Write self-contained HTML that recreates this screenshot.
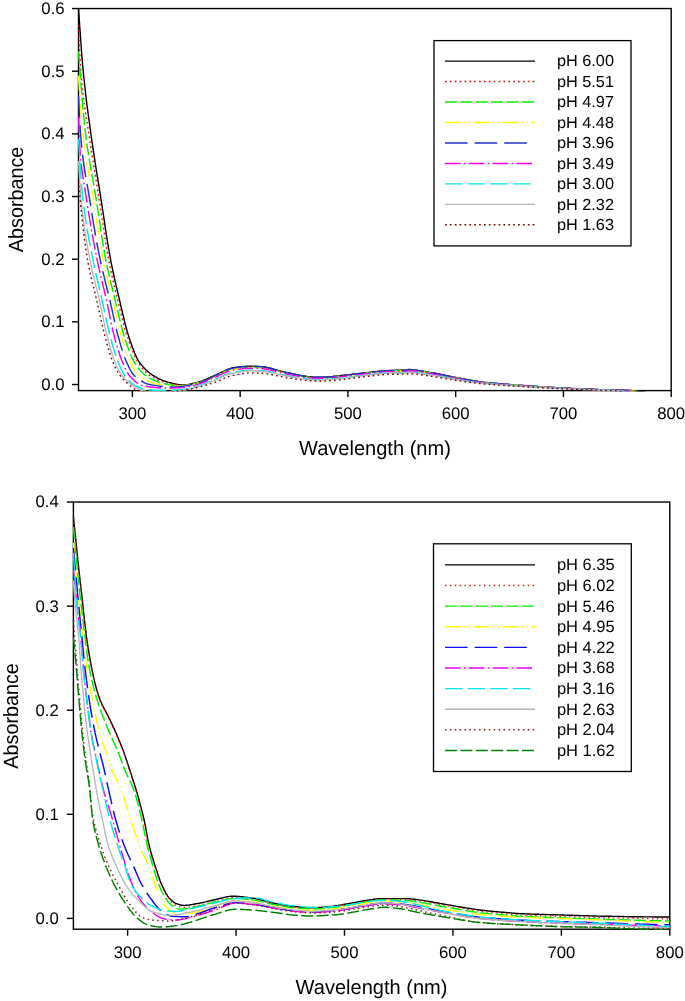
<!DOCTYPE html>
<html lang="en">
<head>
<meta charset="utf-8">
<title>Absorbance spectra at varying pH</title>
<style>
html,body{margin:0;padding:0;background:#fff;}
body{width:685px;height:1001px;overflow:hidden;font-family:"Liberation Sans", Arial, Helvetica, sans-serif;}
svg{display:block;will-change:transform;}
</style>
</head>
<body>
<svg width="685" height="1001" viewBox="0 0 685 1001" font-family='"Liberation Sans", Arial, Helvetica, sans-serif' fill="#000" text-rendering="geometricPrecision">
<rect width="685" height="1001" fill="#fff"/>
<clipPath id="clipTop"><rect x="77.70" y="7.75" width="594.30" height="383.65"/></clipPath>
<rect x="78.50" y="8.55" width="592.70" height="382.05" fill="none" stroke="#000" stroke-width="1.4"/>
<g clip-path="url(#clipTop)" fill="none" stroke-linejoin="round">
<polyline points="78.5,8.5 79.6,24.6 80.7,39.8 81.7,53.9 82.8,66.6 83.9,77.7 85.0,87.8 86.0,97.1 87.1,105.9 88.2,114.1 89.3,122.1 90.4,130.0 91.4,137.7 92.5,145.2 93.6,152.4 94.7,159.4 95.7,166.2 96.8,173.0 97.9,179.6 99.0,186.3 100.1,193.1 101.1,200.0 102.2,207.0 103.3,214.2 104.4,221.4 105.4,228.5 106.5,235.6 107.6,242.4 108.7,248.9 109.8,255.1 110.8,260.9 111.9,266.3 113.0,271.5 114.1,276.5 115.1,281.3 116.2,285.9 117.3,290.5 118.4,295.1 119.5,299.6 120.5,304.3 121.6,308.9 122.7,313.6 123.8,318.2 124.8,322.6 125.9,326.8 127.0,330.8 128.1,334.4 129.1,337.7 130.2,341.0 131.3,344.1 132.4,347.2 133.5,350.1 134.5,352.8 135.6,355.3 136.7,357.6 137.8,359.6 138.8,361.3 139.9,362.8 141.0,364.3 142.1,365.6 143.2,366.9 144.2,368.1 145.3,369.2 146.4,370.3 147.5,371.3 148.5,372.2 149.6,373.0 150.7,373.8 151.8,374.6 152.9,375.3 153.9,375.9 155.0,376.6 156.1,377.2 157.2,377.8 158.2,378.3 159.3,378.8 160.4,379.3 161.5,379.8 162.6,380.3 163.6,380.7 164.7,381.1 165.8,381.5 166.9,381.8 167.9,382.1 169.0,382.4 170.1,382.7 171.2,383.0 172.3,383.3 173.3,383.6 174.4,383.8 175.5,384.1 176.6,384.3 177.6,384.5 178.7,384.7 179.8,384.8 180.9,384.9 182.0,385.0 183.0,385.0 184.1,385.0 185.2,384.9 186.3,384.8 187.3,384.6 188.4,384.5 189.5,384.3 190.6,384.0 191.7,383.8 192.7,383.5 193.8,383.2 194.9,383.0 196.0,382.7 197.0,382.4 198.1,382.1 199.2,381.8 200.3,381.5 201.4,381.1 202.4,380.8 203.5,380.4 204.6,380.0 205.7,379.5 206.7,379.0 207.8,378.5 208.9,378.0 210.0,377.5 211.0,377.0 212.1,376.6 213.2,376.1 214.3,375.6 215.4,375.2 216.4,374.7 217.5,374.2 218.6,373.7 219.7,373.2 220.7,372.7 221.8,372.1 222.9,371.6 224.0,371.1 225.1,370.6 226.1,370.1 227.2,369.7 228.3,369.2 229.4,368.8 230.4,368.4 231.5,368.1 232.6,367.8 233.7,367.6 234.8,367.5 235.8,367.3 236.9,367.2 238.0,367.1 239.1,366.9 240.1,366.8 241.2,366.7 242.3,366.6 243.4,366.5 244.5,366.4 245.5,366.4 246.6,366.3 247.7,366.3 248.8,366.2 249.8,366.2 250.9,366.2 252.0,366.2 253.1,366.2 254.2,366.3 255.2,366.3 256.3,366.3 257.4,366.4 258.5,366.4 259.5,366.5 260.6,366.6 261.7,366.6 262.8,366.7 263.9,366.9 264.9,367.0 266.0,367.2 267.1,367.4 268.2,367.6 269.2,367.9 270.3,368.2 271.4,368.5 272.5,368.8 273.6,369.1 274.6,369.4 275.7,369.7 276.8,370.0 277.9,370.3 278.9,370.6 280.0,370.9 281.1,371.2 282.2,371.4 283.3,371.7 284.3,371.9 285.4,372.1 286.5,372.4 287.6,372.6 288.6,372.8 289.7,373.1 290.8,373.3 291.9,373.6 292.9,373.8 294.0,374.1 295.1,374.3 296.2,374.5 297.3,374.8 298.3,375.0 299.4,375.2 300.5,375.4 301.6,375.6 302.6,375.8 303.7,376.0 304.8,376.2 305.9,376.3 307.0,376.5 308.0,376.6 309.1,376.7 310.2,376.8 311.3,376.9 312.3,377.0 313.4,377.1 314.5,377.1 315.6,377.2 316.7,377.2 317.7,377.3 318.8,377.3 319.9,377.3 321.0,377.3 322.0,377.2 323.1,377.2 324.2,377.1 325.3,377.1 326.4,377.0 327.4,376.9 328.5,376.9 329.6,376.8 330.7,376.7 331.7,376.6 332.8,376.5 333.9,376.3 335.0,376.2 336.1,376.1 337.1,376.0 338.2,375.9 339.3,375.7 340.4,375.6 341.4,375.5 342.5,375.4 343.6,375.2 344.7,375.1 345.8,375.0 346.8,374.9 347.9,374.8 349.0,374.7 350.1,374.6 351.1,374.4 352.2,374.3 353.3,374.2 354.4,374.1 355.5,373.9 356.5,373.8 357.6,373.7 358.7,373.5 359.8,373.4 360.8,373.3 361.9,373.1 363.0,373.0 364.1,372.9 365.2,372.7 366.2,372.6 367.3,372.5 368.4,372.4 369.5,372.3 370.5,372.2 371.6,372.1 372.7,372.0 373.8,371.8 374.9,371.7 375.9,371.6 377.0,371.5 378.1,371.4 379.2,371.3 380.2,371.2 381.3,371.1 382.4,371.0 383.5,370.9 384.5,370.8 385.6,370.7 386.7,370.6 387.8,370.6 388.9,370.5 389.9,370.5 391.0,370.4 392.1,370.4 393.2,370.4 394.2,370.4 395.3,370.3 396.4,370.3 397.5,370.3 398.6,370.3 399.6,370.3 400.7,370.3 401.8,370.2 402.9,370.2 403.9,370.2 405.0,370.2 406.1,370.2 407.2,370.2 408.3,369.4 409.3,369.5 410.4,369.5 411.5,369.6 412.6,369.8 413.6,369.9 414.7,370.0 415.8,370.2 416.9,370.3 418.0,370.5 419.0,370.6 420.1,370.8 421.2,371.0 422.3,371.2 423.3,371.3 424.4,371.5 425.5,371.7 426.6,371.9 427.7,372.0 428.7,372.2 429.8,372.4 430.9,372.6 432.0,372.7 433.0,372.9 434.1,373.1 435.2,373.3 436.3,373.5 437.4,373.7 438.4,374.0 439.5,374.2 440.6,374.4 441.7,374.6 442.7,374.8 443.8,375.1 444.9,375.3 446.0,375.5 447.1,375.7 448.1,376.0 449.2,376.2 450.3,376.4 451.4,376.6 452.4,376.9 453.5,377.1 454.6,377.3 455.7,377.5 456.8,377.7 457.8,377.9 458.9,378.1 460.0,378.3 461.1,378.5 462.1,378.7 463.2,378.9 464.3,379.1 465.4,379.3 466.4,379.5 467.5,379.7 468.6,379.9 469.7,380.1 470.8,380.3 471.8,380.5 472.9,380.7 474.0,380.8 475.1,381.0 476.1,381.2 477.2,381.3 478.3,381.5 479.4,381.6 480.5,381.8 481.5,381.9 482.6,382.0 483.7,382.1 484.8,382.3 485.8,382.4 486.9,382.5 488.0,382.6 489.1,382.7 490.2,382.8 491.2,382.9 492.3,383.0 493.4,383.1 494.5,383.2 495.5,383.3 496.6,383.4 497.7,383.5 498.8,383.6 499.9,383.7 500.9,383.8 502.0,383.9 503.1,384.0 504.2,384.1 505.2,384.1 506.3,384.2 507.4,384.3 508.5,384.4 509.6,384.5 510.6,384.6 511.7,384.6 512.8,384.7 513.9,384.8 514.9,384.9 516.0,385.0 517.1,385.1 518.2,385.1 519.3,385.2 520.3,385.3 521.4,385.4 522.5,385.5 523.6,385.5 524.6,385.6 525.7,385.7 526.8,385.8 527.9,385.8 529.0,385.9 530.0,386.0 531.1,386.1 532.2,386.1 533.3,386.2 534.3,386.3 535.4,386.4 536.5,386.4 537.6,386.5 538.7,386.6 539.7,386.6 540.8,386.7 541.9,386.8 543.0,386.8 544.0,386.9 545.1,387.0 546.2,387.0 547.3,387.1 548.3,387.2 549.4,387.2 550.5,387.3 551.6,387.4 552.7,387.4 553.7,387.5 554.8,387.5 555.9,387.6 557.0,387.7 558.0,387.7 559.1,387.8 560.2,387.8 561.3,387.9 562.4,388.0 563.4,388.0 564.5,388.1 565.6,388.1 566.7,388.2 567.7,388.2 568.8,388.3 569.9,388.3 571.0,388.4 572.1,388.4 573.1,388.5 574.2,388.5 575.3,388.6 576.4,388.6 577.4,388.7 578.5,388.7 579.6,388.8 580.7,388.8 581.8,388.9 582.8,388.9 583.9,389.0 585.0,389.0 586.1,389.0 587.1,389.1 588.2,389.1 589.3,389.2 590.4,389.2 591.5,389.3 592.5,389.3 593.6,389.4 594.7,389.4 595.8,389.4 596.8,389.5 597.9,389.5 599.0,389.6 600.1,389.6 601.2,389.6 602.2,389.7 603.3,389.7 604.4,389.7 605.5,389.8 606.5,389.8 607.6,389.9 608.7,389.9 609.8,389.9 610.9,390.0 611.9,390.0 613.0,390.0 614.1,390.0 615.2,390.1 616.2,390.1 617.3,390.1 618.4,390.1 619.5,390.1 620.6,390.2 621.6,390.2 622.7,390.2 623.8,390.3 624.9,390.3 625.9,390.3 627.0,390.4 628.1,390.4 629.2,390.4 630.2,390.5 631.3,390.5 632.4,390.6 633.5,390.6 634.6,390.7 635.6,390.8 636.7,391.0 637.8,391.2 638.9,391.4 639.9,391.6 641.0,391.8 642.1,392.0 643.2,392.2 644.3,392.3 645.3,392.5 646.4,392.6 647.5,392.7 648.6,392.9 649.6,393.0 650.7,393.1 651.8,393.3 652.9,393.4 654.0,393.5 655.0,393.7 656.1,393.8 657.2,393.9 658.3,394.0 659.3,394.1 660.4,394.2 661.5,394.3 662.6,394.4 663.7,394.5 664.7,394.6 665.8,394.7 666.9,394.8 668.0,394.9 669.0,395.0 670.1,395.1 671.2,395.2" stroke="#000000" stroke-width="1.4"/>
<polyline points="78.5,25.1 79.6,50.1 80.7,69.8 81.7,82.2 82.8,92.5 83.9,101.3 85.0,108.9 86.0,115.9 87.1,122.6 88.2,129.5 89.3,136.8 90.4,144.1 91.4,151.1 92.5,158.0 93.6,164.6 94.7,171.3 95.7,177.8 96.8,184.4 97.9,191.1 99.0,197.9 100.1,204.9 101.1,212.1 102.2,219.4 103.3,226.7 104.4,233.9 105.4,240.8 106.5,247.5 107.6,253.9 108.7,259.7 109.8,265.2 110.8,270.4 111.9,275.4 113.0,280.2 114.1,284.9 115.1,289.4 116.2,293.9 117.3,298.3 118.4,302.8 119.5,307.2 120.5,311.7 121.6,316.1 122.7,320.3 123.8,324.4 124.8,328.3 125.9,332.0 127.0,335.4 128.1,338.6 129.1,341.7 130.2,344.8 131.3,347.7 132.4,350.5 133.5,353.1 134.5,355.6 135.6,357.8 136.7,359.9 137.8,361.7 138.8,363.3 139.9,364.9 141.0,366.4 142.1,367.8 143.2,369.2 144.2,370.4 145.3,371.6 146.4,372.7 147.5,373.6 148.5,374.5 149.6,375.3 150.7,376.0 151.8,376.7 152.9,377.3 153.9,377.9 155.0,378.5 156.1,379.0 157.2,379.6 158.2,380.1 159.3,380.5 160.4,380.9 161.5,381.3 162.6,381.7 163.6,382.0 164.7,382.3 165.8,382.6 166.9,382.9 167.9,383.1 169.0,383.4 170.1,383.6 171.2,383.9 172.3,384.1 173.3,384.3 174.4,384.5 175.5,384.7 176.6,384.8 177.6,385.0 178.7,385.1 179.8,385.1 180.9,385.1 182.0,385.1 183.0,385.1 184.1,385.0 185.2,384.9 186.3,384.8 187.3,384.6 188.4,384.4 189.5,384.3 190.6,384.1 191.7,383.8 192.7,383.6 193.8,383.4 194.9,383.1 196.0,382.8 197.0,382.6 198.1,382.3 199.2,382.0 200.3,381.8 201.4,381.5 202.4,381.2 203.5,380.8 204.6,380.4 205.7,379.9 206.7,379.5 207.8,379.0 208.9,378.5 210.0,378.0 211.0,377.5 212.1,377.0 213.2,376.5 214.3,376.1 215.4,375.6 216.4,375.1 217.5,374.6 218.6,374.0 219.7,373.5 220.7,372.9 221.8,372.4 222.9,371.8 224.0,371.3 225.1,370.8 226.1,370.4 227.2,369.9 228.3,369.6 229.4,369.3 230.4,369.0 231.5,368.7 232.6,368.5 233.7,368.3 234.8,368.0 235.8,367.8 236.9,367.7 238.0,367.5 239.1,367.4 240.1,367.3 241.2,367.2 242.3,367.1 243.4,367.0 244.5,366.9 245.5,366.8 246.6,366.7 247.7,366.7 248.8,366.6 249.8,366.6 250.9,366.6 252.0,366.6 253.1,366.6 254.2,366.7 255.2,366.7 256.3,366.7 257.4,366.8 258.5,366.8 259.5,366.9 260.6,367.0 261.7,367.0 262.8,367.1 263.9,367.3 264.9,367.4 266.0,367.6 267.1,367.9 268.2,368.1 269.2,368.4 270.3,368.6 271.4,368.9 272.5,369.1 273.6,369.4 274.6,369.6 275.7,369.9 276.8,370.2 277.9,370.5 278.9,370.8 280.0,371.1 281.1,371.4 282.2,371.7 283.3,372.0 284.3,372.2 285.4,372.5 286.5,372.7 287.6,373.0 288.6,373.2 289.7,373.4 290.8,373.7 291.9,373.9 292.9,374.1 294.0,374.4 295.1,374.6 296.2,374.8 297.3,375.0 298.3,375.3 299.4,375.5 300.5,375.7 301.6,375.9 302.6,376.1 303.7,376.3 304.8,376.4 305.9,376.5 307.0,376.7 308.0,376.8 309.1,377.0 310.2,377.1 311.3,377.2 312.3,377.3 313.4,377.4 314.5,377.4 315.6,377.4 316.7,377.4 317.7,377.4 318.8,377.4 319.9,377.4 321.0,377.4 322.0,377.4 323.1,377.3 324.2,377.3 325.3,377.3 326.4,377.2 327.4,377.2 328.5,377.1 329.6,377.1 330.7,377.0 331.7,376.8 332.8,376.7 333.9,376.6 335.0,376.5 336.1,376.3 337.1,376.2 338.2,376.1 339.3,376.0 340.4,375.9 341.4,375.8 342.5,375.6 343.6,375.5 344.7,375.4 345.8,375.3 346.8,375.2 347.9,375.0 349.0,374.9 350.1,374.8 351.1,374.7 352.2,374.5 353.3,374.4 354.4,374.3 355.5,374.1 356.5,374.0 357.6,373.9 358.7,373.8 359.8,373.6 360.8,373.5 361.9,373.4 363.0,373.3 364.1,373.1 365.2,373.0 366.2,372.9 367.3,372.7 368.4,372.6 369.5,372.5 370.5,372.4 371.6,372.3 372.7,372.2 373.8,372.0 374.9,371.9 375.9,371.8 377.0,371.7 378.1,371.6 379.2,371.5 380.2,371.4 381.3,371.3 382.4,371.2 383.5,371.1 384.5,371.0 385.6,371.0 386.7,370.9 387.8,370.8 388.9,370.7 389.9,370.7 391.0,370.7 392.1,370.6 393.2,370.6 394.2,370.6 395.3,370.6 396.4,370.6 397.5,370.5 398.6,370.5 399.6,370.5 400.7,370.5 401.8,370.5 402.9,370.4 403.9,370.4 405.0,370.3 406.1,370.3 407.2,370.2 408.3,370.1 409.3,370.1 410.4,370.0 411.5,370.0 412.6,370.0 413.6,370.0 414.7,370.1 415.8,370.2 416.9,370.4 418.0,370.6 419.0,370.8 420.1,371.0 421.2,371.2 422.3,371.4 423.3,371.6 424.4,371.7 425.5,371.9 426.6,372.1 427.7,372.2 428.7,372.4 429.8,372.6 430.9,372.8 432.0,373.0 433.0,373.2 434.1,373.3 435.2,373.5 436.3,373.7 437.4,374.0 438.4,374.2 439.5,374.4 440.6,374.6 441.7,374.8 442.7,375.1 443.8,375.3 444.9,375.5 446.0,375.7 447.1,375.9 448.1,376.1 449.2,376.4 450.3,376.6 451.4,376.8 452.4,377.0 453.5,377.2 454.6,377.4 455.7,377.6 456.8,377.8 457.8,378.1 458.9,378.3 460.0,378.5 461.1,378.7 462.1,378.9 463.2,379.1 464.3,379.3 465.4,379.5 466.4,379.7 467.5,379.9 468.6,380.0 469.7,380.2 470.8,380.4 471.8,380.6 472.9,380.8 474.0,381.0 475.1,381.1 476.1,381.3 477.2,381.5 478.3,381.6 479.4,381.7 480.5,381.9 481.5,382.0 482.6,382.1 483.7,382.2 484.8,382.4 485.8,382.5 486.9,382.6 488.0,382.7 489.1,382.8 490.2,382.9 491.2,383.0 492.3,383.1 493.4,383.2 494.5,383.3 495.5,383.4 496.6,383.5 497.7,383.6 498.8,383.7 499.9,383.8 500.9,383.9 502.0,384.0 503.1,384.0 504.2,384.1 505.2,384.2 506.3,384.3 507.4,384.4 508.5,384.5 509.6,384.6 510.6,384.6 511.7,384.7 512.8,384.8 513.9,384.9 514.9,385.0 516.0,385.1 517.1,385.1 518.2,385.2 519.3,385.3 520.3,385.4 521.4,385.4 522.5,385.5 523.6,385.6 524.6,385.7 525.7,385.8 526.8,385.8 527.9,385.9 529.0,386.0 530.0,386.1 531.1,386.1 532.2,386.2 533.3,386.3 534.3,386.3 535.4,386.4 536.5,386.5 537.6,386.6 538.7,386.6 539.7,386.7 540.8,386.8 541.9,386.8 543.0,386.9 544.0,387.0 545.1,387.0 546.2,387.1 547.3,387.2 548.3,387.2 549.4,387.3 550.5,387.3 551.6,387.4 552.7,387.5 553.7,387.5 554.8,387.6 555.9,387.7 557.0,387.7 558.0,387.8 559.1,387.8 560.2,387.9 561.3,387.9 562.4,388.0 563.4,388.1 564.5,388.1 565.6,388.2 566.7,388.2 567.7,388.3 568.8,388.3 569.9,388.4 571.0,388.4 572.1,388.5 573.1,388.5 574.2,388.6 575.3,388.6 576.4,388.7 577.4,388.7 578.5,388.8 579.6,388.8 580.7,388.9 581.8,388.9 582.8,389.0 583.9,389.0 585.0,389.0 586.1,389.1 587.1,389.1 588.2,389.2 589.3,389.2 590.4,389.3 591.5,389.3 592.5,389.4 593.6,389.4 594.7,389.4 595.8,389.5 596.8,389.5 597.9,389.6 599.0,389.6 600.1,389.6 601.2,389.7 602.2,389.7 603.3,389.8 604.4,389.8 605.5,389.8 606.5,389.9 607.6,389.9 608.7,389.9 609.8,390.0 610.9,390.0 611.9,390.0 613.0,390.0 614.1,390.1 615.2,390.1 616.2,390.1 617.3,390.2 618.4,390.2 619.5,390.2 620.6,390.3 621.6,390.3 622.7,390.3 623.8,390.4 624.9,390.4 625.9,390.4 627.0,390.5 628.1,390.5 629.2,390.6 630.2,390.7 631.3,390.8 632.4,390.8 633.5,390.9 634.6,391.1 635.6,391.2 636.7,391.3 637.8,391.4 638.9,391.5 639.9,391.7 641.0,391.8 642.1,392.0 643.2,392.1 644.3,392.3 645.3,392.5 646.4,392.7 647.5,392.8 648.6,393.0 649.6,393.1 650.7,393.3 651.8,393.4 652.9,393.5 654.0,393.6 655.0,393.8 656.1,393.9 657.2,394.0 658.3,394.1 659.3,394.2 660.4,394.3 661.5,394.4 662.6,394.5 663.7,394.6 664.7,394.7 665.8,394.8 666.9,394.9 668.0,395.0 669.0,395.0 670.1,395.1 671.2,395.2" stroke="#f00000" stroke-width="1.45" stroke-dasharray="1.7 3.17"/>
<polyline points="78.5,51.5 79.6,66.2 80.7,80.3 81.7,93.8 82.8,106.4 83.9,117.9 85.0,128.3 86.0,137.3 87.1,145.4 88.2,152.7 89.3,159.5 90.4,165.8 91.4,171.9 92.5,177.8 93.6,183.8 94.7,190.0 95.7,196.5 96.8,203.4 97.9,210.5 99.0,217.7 100.1,224.9 101.1,232.1 102.2,239.1 103.3,245.8 104.4,252.2 105.4,258.1 106.5,263.5 107.6,268.6 108.7,273.4 109.8,278.1 110.8,282.6 111.9,287.0 113.0,291.3 114.1,295.7 115.1,300.1 116.2,304.6 117.3,309.2 118.4,313.9 119.5,318.4 120.5,322.8 121.6,327.1 122.7,331.1 123.8,334.7 124.8,338.1 125.9,341.5 127.0,344.7 128.1,347.8 129.1,350.8 130.2,353.6 131.3,356.2 132.4,358.5 133.5,360.6 134.5,362.4 135.6,364.1 136.7,365.7 137.8,367.3 138.8,368.8 139.9,370.1 141.0,371.4 142.1,372.5 143.2,373.6 144.2,374.5 145.3,375.3 146.4,376.0 147.5,376.7 148.5,377.4 149.6,378.0 150.7,378.6 151.8,379.2 152.9,379.7 153.9,380.3 155.0,380.7 156.1,381.2 157.2,381.6 158.2,382.0 159.3,382.4 160.4,382.7 161.5,383.0 162.6,383.2 163.6,383.5 164.7,383.7 165.8,384.0 166.9,384.2 167.9,384.4 169.0,384.7 170.1,384.9 171.2,385.1 172.3,385.2 173.3,385.4 174.4,385.5 175.5,385.6 176.6,385.7 177.6,385.7 178.7,385.8 179.8,385.7 180.9,385.7 182.0,385.6 183.0,385.5 184.1,385.4 185.2,385.3 186.3,385.1 187.3,385.0 188.4,384.8 189.5,384.6 190.6,384.4 191.7,384.1 192.7,383.9 193.8,383.7 194.9,383.4 196.0,383.1 197.0,382.9 198.1,382.6 199.2,382.4 200.3,382.1 201.4,381.8 202.4,381.5 203.5,381.1 204.6,380.7 205.7,380.3 206.7,379.8 207.8,379.3 208.9,378.9 210.0,378.4 211.0,377.9 212.1,377.4 213.2,376.9 214.3,376.4 215.4,376.0 216.4,375.5 217.5,375.0 218.6,374.4 219.7,373.9 220.7,373.3 221.8,372.8 222.9,372.3 224.0,371.8 225.1,371.3 226.1,370.8 227.2,370.4 228.3,370.0 229.4,369.7 230.4,369.4 231.5,369.2 232.6,368.9 233.7,368.7 234.8,368.5 235.8,368.3 236.9,368.1 238.0,367.9 239.1,367.8 240.1,367.7 241.2,367.6 242.3,367.5 243.4,367.4 244.5,367.3 245.5,367.2 246.6,367.1 247.7,367.1 248.8,367.0 249.8,367.0 250.9,367.0 252.0,367.0 253.1,367.0 254.2,367.0 255.2,367.1 256.3,367.1 257.4,367.2 258.5,367.2 259.5,367.3 260.6,367.4 261.7,367.4 262.8,367.5 263.9,367.7 264.9,367.8 266.0,368.0 267.1,368.2 268.2,368.5 269.2,368.7 270.3,369.0 271.4,369.2 272.5,369.5 273.6,369.7 274.6,370.0 275.7,370.3 276.8,370.6 277.9,370.9 278.9,371.2 280.0,371.5 281.1,371.8 282.2,372.0 283.3,372.3 284.3,372.5 285.4,372.8 286.5,373.0 287.6,373.3 288.6,373.5 289.7,373.7 290.8,374.0 291.9,374.2 292.9,374.4 294.0,374.6 295.1,374.9 296.2,375.1 297.3,375.3 298.3,375.5 299.4,375.7 300.5,376.0 301.6,376.2 302.6,376.3 303.7,376.5 304.8,376.7 305.9,376.8 307.0,376.9 308.0,377.1 309.1,377.2 310.2,377.3 311.3,377.4 312.3,377.5 313.4,377.6 314.5,377.6 315.6,377.7 316.7,377.7 317.7,377.6 318.8,377.6 319.9,377.6 321.0,377.6 322.0,377.6 323.1,377.6 324.2,377.5 325.3,377.5 326.4,377.5 327.4,377.4 328.5,377.4 329.6,377.3 330.7,377.2 331.7,377.1 332.8,377.0 333.9,376.8 335.0,376.7 336.1,376.6 337.1,376.5 338.2,376.4 339.3,376.2 340.4,376.1 341.4,376.0 342.5,375.9 343.6,375.8 344.7,375.6 345.8,375.5 346.8,375.4 347.9,375.3 349.0,375.2 350.1,375.0 351.1,374.9 352.2,374.8 353.3,374.6 354.4,374.5 355.5,374.4 356.5,374.3 357.6,374.1 358.7,374.0 359.8,373.9 360.8,373.7 361.9,373.6 363.0,373.5 364.1,373.4 365.2,373.2 366.2,373.1 367.3,373.0 368.4,372.9 369.5,372.7 370.5,372.6 371.6,372.5 372.7,372.4 373.8,372.3 374.9,372.1 375.9,372.0 377.0,371.9 378.1,371.8 379.2,371.7 380.2,371.6 381.3,371.5 382.4,371.4 383.5,371.3 384.5,371.3 385.6,371.2 386.7,371.1 387.8,371.0 388.9,371.0 389.9,370.9 391.0,370.9 392.1,370.9 393.2,370.8 394.2,370.8 395.3,370.8 396.4,370.8 397.5,370.8 398.6,370.8 399.6,370.8 400.7,370.7 401.8,370.7 402.9,370.7 403.9,370.6 405.0,370.6 406.1,370.5 407.2,370.4 408.3,370.4 409.3,370.3 410.4,370.3 411.5,370.2 412.6,370.2 413.6,370.3 414.7,370.3 415.8,370.5 416.9,370.6 418.0,370.8 419.0,371.0 420.1,371.2 421.2,371.4 422.3,371.6 423.3,371.8 424.4,372.0 425.5,372.1 426.6,372.3 427.7,372.5 428.7,372.6 429.8,372.8 430.9,373.0 432.0,373.2 433.0,373.4 434.1,373.6 435.2,373.8 436.3,374.0 437.4,374.2 438.4,374.4 439.5,374.6 440.6,374.8 441.7,375.0 442.7,375.3 443.8,375.5 444.9,375.7 446.0,375.9 447.1,376.1 448.1,376.3 449.2,376.5 450.3,376.8 451.4,377.0 452.4,377.2 453.5,377.4 454.6,377.6 455.7,377.8 456.8,378.0 457.8,378.2 458.9,378.4 460.0,378.6 461.1,378.8 462.1,379.0 463.2,379.2 464.3,379.4 465.4,379.6 466.4,379.8 467.5,380.0 468.6,380.2 469.7,380.4 470.8,380.6 471.8,380.7 472.9,380.9 474.0,381.1 475.1,381.3 476.1,381.4 477.2,381.6 478.3,381.7 479.4,381.8 480.5,382.0 481.5,382.1 482.6,382.2 483.7,382.3 484.8,382.5 485.8,382.6 486.9,382.7 488.0,382.8 489.1,382.9 490.2,383.0 491.2,383.1 492.3,383.2 493.4,383.3 494.5,383.4 495.5,383.5 496.6,383.6 497.7,383.7 498.8,383.8 499.9,383.9 500.9,384.0 502.0,384.0 503.1,384.1 504.2,384.2 505.2,384.3 506.3,384.4 507.4,384.5 508.5,384.5 509.6,384.6 510.6,384.7 511.7,384.8 512.8,384.9 513.9,385.0 514.9,385.0 516.0,385.1 517.1,385.2 518.2,385.3 519.3,385.4 520.3,385.4 521.4,385.5 522.5,385.6 523.6,385.7 524.6,385.7 525.7,385.8 526.8,385.9 527.9,386.0 529.0,386.0 530.0,386.1 531.1,386.2 532.2,386.3 533.3,386.3 534.3,386.4 535.4,386.5 536.5,386.5 537.6,386.6 538.7,386.7 539.7,386.7 540.8,386.8 541.9,386.9 543.0,386.9 544.0,387.0 545.1,387.1 546.2,387.1 547.3,387.2 548.3,387.3 549.4,387.3 550.5,387.4 551.6,387.5 552.7,387.5 553.7,387.6 554.8,387.6 555.9,387.7 557.0,387.8 558.0,387.8 559.1,387.9 560.2,387.9 561.3,388.0 562.4,388.0 563.4,388.1 564.5,388.2 565.6,388.2 566.7,388.3 567.7,388.3 568.8,388.4 569.9,388.4 571.0,388.5 572.1,388.5 573.1,388.6 574.2,388.6 575.3,388.7 576.4,388.7 577.4,388.8 578.5,388.8 579.6,388.9 580.7,388.9 581.8,389.0 582.8,389.0 583.9,389.0 585.0,389.1 586.1,389.1 587.1,389.2 588.2,389.2 589.3,389.3 590.4,389.3 591.5,389.4 592.5,389.4 593.6,389.4 594.7,389.5 595.8,389.5 596.8,389.6 597.9,389.6 599.0,389.6 600.1,389.7 601.2,389.7 602.2,389.8 603.3,389.8 604.4,389.8 605.5,389.9 606.5,389.9 607.6,389.9 608.7,390.0 609.8,390.0 610.9,390.0 611.9,390.1 613.0,390.1 614.1,390.1 615.2,390.2 616.2,390.2 617.3,390.2 618.4,390.3 619.5,390.3 620.6,390.3 621.6,390.4 622.7,390.4 623.8,390.5 624.9,390.5 625.9,390.6 627.0,390.6 628.1,390.7 629.2,390.7 630.2,390.8 631.3,390.9 632.4,391.0 633.5,391.1 634.6,391.2 635.6,391.3 636.7,391.4 637.8,391.6 638.9,391.7 639.9,391.8 641.0,392.0 642.1,392.1 643.2,392.3 644.3,392.4 645.3,392.6 646.4,392.8 647.5,392.9 648.6,393.1 649.6,393.2 650.7,393.4 651.8,393.5 652.9,393.6 654.0,393.7 655.0,393.8 656.1,394.0 657.2,394.1 658.3,394.2 659.3,394.3 660.4,394.4 661.5,394.5 662.6,394.6 663.7,394.7 664.7,394.8 665.8,394.8 666.9,394.9 668.0,395.0 669.0,395.1 670.1,395.2 671.2,395.2" stroke="#00ee00" stroke-width="1.45" stroke-dasharray="12 3.4"/>
<polyline points="78.5,75.6 79.6,92.9 80.7,109.2 81.7,123.6 82.8,134.8 83.9,143.8 85.0,151.7 86.0,158.8 87.1,165.2 88.2,171.1 89.3,176.8 90.4,182.5 91.4,188.3 92.5,194.5 93.6,201.2 94.7,208.2 95.7,215.2 96.8,222.3 97.9,229.3 99.0,236.2 100.1,242.9 101.1,249.3 102.2,255.3 103.3,260.8 104.4,266.0 105.4,270.8 106.5,275.5 107.6,280.0 108.7,284.3 109.8,288.7 110.8,293.0 111.9,297.4 113.0,301.9 114.1,306.6 115.1,311.3 116.2,316.1 117.3,320.7 118.4,325.2 119.5,329.5 120.5,333.6 121.6,337.3 122.7,340.9 123.8,344.4 124.8,347.8 125.9,351.0 127.0,354.0 128.1,356.9 129.1,359.4 130.2,361.8 131.3,363.9 132.4,366.1 133.5,368.1 134.5,369.9 135.6,371.6 136.7,373.1 137.8,374.4 138.8,375.4 139.9,376.2 141.0,377.0 142.1,377.8 143.2,378.5 144.2,379.1 145.3,379.8 146.4,380.4 147.5,380.9 148.5,381.4 149.6,381.9 150.7,382.3 151.8,382.7 152.9,383.0 153.9,383.4 155.0,383.6 156.1,383.9 157.2,384.1 158.2,384.3 159.3,384.5 160.4,384.7 161.5,384.9 162.6,385.1 163.6,385.3 164.7,385.5 165.8,385.6 166.9,385.8 167.9,385.9 169.0,386.0 170.1,386.1 171.2,386.2 172.3,386.3 173.3,386.3 174.4,386.4 175.5,386.4 176.6,386.4 177.6,386.3 178.7,386.3 179.8,386.2 180.9,386.1 182.0,386.0 183.0,385.9 184.1,385.8 185.2,385.6 186.3,385.4 187.3,385.3 188.4,385.1 189.5,384.9 190.6,384.7 191.7,384.5 192.7,384.2 193.8,384.0 194.9,383.8 196.0,383.5 197.0,383.3 198.1,383.0 199.2,382.8 200.3,382.5 201.4,382.3 202.4,381.9 203.5,381.6 204.6,381.2 205.7,380.8 206.7,380.3 207.8,379.9 208.9,379.4 210.0,378.9 211.0,378.4 212.1,377.9 213.2,377.5 214.3,377.0 215.4,376.5 216.4,376.1 217.5,375.5 218.6,375.0 219.7,374.5 220.7,373.9 221.8,373.4 222.9,372.9 224.0,372.4 225.1,371.9 226.1,371.4 227.2,371.0 228.3,370.6 229.4,370.3 230.4,370.0 231.5,369.8 232.6,369.5 233.7,369.3 234.8,369.1 235.8,368.9 236.9,368.7 238.0,368.5 239.1,368.4 240.1,368.3 241.2,368.2 242.3,368.1 243.4,368.0 244.5,367.9 245.5,367.8 246.6,367.7 247.7,367.6 248.8,367.6 249.8,367.5 250.9,367.5 252.0,367.5 253.1,367.6 254.2,367.6 255.2,367.6 256.3,367.7 257.4,367.7 258.5,367.8 259.5,367.8 260.6,367.9 261.7,368.0 262.8,368.1 263.9,368.2 264.9,368.3 266.0,368.5 267.1,368.8 268.2,369.0 269.2,369.2 270.3,369.5 271.4,369.7 272.5,370.0 273.6,370.2 274.6,370.5 275.7,370.7 276.8,371.0 277.9,371.3 278.9,371.6 280.0,371.9 281.1,372.2 282.2,372.5 283.3,372.7 284.3,373.0 285.4,373.2 286.5,373.4 287.6,373.7 288.6,373.9 289.7,374.1 290.8,374.4 291.9,374.6 292.9,374.8 294.0,375.0 295.1,375.2 296.2,375.4 297.3,375.7 298.3,375.9 299.4,376.1 300.5,376.3 301.6,376.5 302.6,376.7 303.7,376.8 304.8,377.0 305.9,377.1 307.0,377.3 308.0,377.4 309.1,377.5 310.2,377.6 311.3,377.7 312.3,377.8 313.4,377.9 314.5,377.9 315.6,378.0 316.7,378.0 317.7,377.9 318.8,377.9 319.9,377.9 321.0,377.9 322.0,377.9 323.1,377.9 324.2,377.8 325.3,377.8 326.4,377.8 327.4,377.7 328.5,377.7 329.6,377.6 330.7,377.5 331.7,377.4 332.8,377.3 333.9,377.1 335.0,377.0 336.1,376.9 337.1,376.8 338.2,376.7 339.3,376.6 340.4,376.4 341.4,376.3 342.5,376.2 343.6,376.1 344.7,376.0 345.8,375.8 346.8,375.7 347.9,375.6 349.0,375.5 350.1,375.4 351.1,375.2 352.2,375.1 353.3,375.0 354.4,374.8 355.5,374.7 356.5,374.6 357.6,374.4 358.7,374.3 359.8,374.2 360.8,374.1 361.9,373.9 363.0,373.8 364.1,373.7 365.2,373.5 366.2,373.4 367.3,373.3 368.4,373.2 369.5,373.0 370.5,372.9 371.6,372.8 372.7,372.7 373.8,372.6 374.9,372.4 375.9,372.3 377.0,372.2 378.1,372.1 379.2,372.0 380.2,371.9 381.3,371.8 382.4,371.7 383.5,371.6 384.5,371.6 385.6,371.5 386.7,371.4 387.8,371.3 388.9,371.3 389.9,371.2 391.0,371.2 392.1,371.2 393.2,371.1 394.2,371.1 395.3,371.1 396.4,371.1 397.5,371.1 398.6,371.1 399.6,371.1 400.7,371.0 401.8,371.0 402.9,371.0 403.9,370.9 405.0,370.9 406.1,370.8 407.2,370.8 408.3,370.7 409.3,370.6 410.4,370.6 411.5,370.6 412.6,370.5 413.6,370.6 414.7,370.7 415.8,370.8 416.9,370.9 418.0,371.1 419.0,371.3 420.1,371.5 421.2,371.7 422.3,371.9 423.3,372.1 424.4,372.3 425.5,372.4 426.6,372.6 427.7,372.8 428.7,372.9 429.8,373.1 430.9,373.3 432.0,373.5 433.0,373.7 434.1,373.9 435.2,374.0 436.3,374.2 437.4,374.5 438.4,374.7 439.5,374.9 440.6,375.1 441.7,375.3 442.7,375.5 443.8,375.7 444.9,375.9 446.0,376.2 447.1,376.4 448.1,376.6 449.2,376.8 450.3,377.0 451.4,377.2 452.4,377.4 453.5,377.6 454.6,377.8 455.7,378.0 456.8,378.2 457.8,378.4 458.9,378.6 460.0,378.8 461.1,379.0 462.1,379.2 463.2,379.4 464.3,379.6 465.4,379.8 466.4,380.0 467.5,380.2 468.6,380.4 469.7,380.5 470.8,380.7 471.8,380.9 472.9,381.1 474.0,381.3 475.1,381.4 476.1,381.6 477.2,381.7 478.3,381.9 479.4,382.0 480.5,382.1 481.5,382.3 482.6,382.4 483.7,382.5 484.8,382.6 485.8,382.7 486.9,382.8 488.0,382.9 489.1,383.0 490.2,383.1 491.2,383.2 492.3,383.3 493.4,383.4 494.5,383.5 495.5,383.6 496.6,383.7 497.7,383.8 498.8,383.9 499.9,384.0 500.9,384.1 502.0,384.2 503.1,384.2 504.2,384.3 505.2,384.4 506.3,384.5 507.4,384.6 508.5,384.7 509.6,384.7 510.6,384.8 511.7,384.9 512.8,385.0 513.9,385.1 514.9,385.1 516.0,385.2 517.1,385.3 518.2,385.4 519.3,385.4 520.3,385.5 521.4,385.6 522.5,385.7 523.6,385.8 524.6,385.8 525.7,385.9 526.8,386.0 527.9,386.0 529.0,386.1 530.0,386.2 531.1,386.3 532.2,386.3 533.3,386.4 534.3,386.5 535.4,386.5 536.5,386.6 537.6,386.7 538.7,386.8 539.7,386.8 540.8,386.9 541.9,387.0 543.0,387.0 544.0,387.1 545.1,387.1 546.2,387.2 547.3,387.3 548.3,387.3 549.4,387.4 550.5,387.5 551.6,387.5 552.7,387.6 553.7,387.6 554.8,387.7 555.9,387.8 557.0,387.8 558.0,387.9 559.1,387.9 560.2,388.0 561.3,388.0 562.4,388.1 563.4,388.2 564.5,388.2 565.6,388.3 566.7,388.3 567.7,388.4 568.8,388.4 569.9,388.5 571.0,388.5 572.1,388.6 573.1,388.6 574.2,388.7 575.3,388.7 576.4,388.8 577.4,388.8 578.5,388.9 579.6,388.9 580.7,389.0 581.8,389.0 582.8,389.1 583.9,389.1 585.0,389.1 586.1,389.2 587.1,389.2 588.2,389.3 589.3,389.3 590.4,389.4 591.5,389.4 592.5,389.5 593.6,389.5 594.7,389.5 595.8,389.6 596.8,389.6 597.9,389.7 599.0,389.7 600.1,389.7 601.2,389.8 602.2,389.8 603.3,389.9 604.4,389.9 605.5,389.9 606.5,390.0 607.6,390.0 608.7,390.0 609.8,390.1 610.9,390.1 611.9,390.1 613.0,390.2 614.1,390.2 615.2,390.2 616.2,390.3 617.3,390.3 618.4,390.3 619.5,390.4 620.6,390.4 621.6,390.5 622.7,390.5 623.8,390.6 624.9,390.7 625.9,390.7 627.0,390.8 628.1,390.9 629.2,390.9 630.2,391.0 631.3,391.1 632.4,391.2 633.5,391.3 634.6,391.4 635.6,391.5 636.7,391.6 637.8,391.8 638.9,391.9 639.9,392.0 641.0,392.1 642.1,392.3 643.2,392.5 644.3,392.6 645.3,392.8 646.4,392.9 647.5,393.1 648.6,393.2 649.6,393.4 650.7,393.5 651.8,393.6 652.9,393.7 654.0,393.9 655.0,394.0 656.1,394.1 657.2,394.2 658.3,394.3 659.3,394.4 660.4,394.5 661.5,394.6 662.6,394.7 663.7,394.7 664.7,394.8 665.8,394.9 666.9,395.0 668.0,395.1 669.0,395.1 670.1,395.2 671.2,395.3" stroke="#ffff00" stroke-width="1.45" stroke-dasharray="15.6 3.3 1.6 3.3 1.6 3.4"/>
<polyline points="78.5,95.6 79.6,119.5 80.7,136.3 81.7,147.5 82.8,156.9 83.9,164.9 85.0,171.9 86.0,178.3 87.1,184.4 88.2,190.6 89.3,197.2 90.4,204.1 91.4,210.8 92.5,217.5 93.6,224.0 94.7,230.3 95.7,236.5 96.8,242.5 97.9,248.3 99.0,253.9 100.1,259.2 101.1,264.2 102.2,269.0 103.3,273.5 104.4,277.9 105.4,282.2 106.5,286.5 107.6,290.8 108.7,295.1 109.8,299.6 110.8,304.3 111.9,309.2 113.0,314.2 114.1,319.2 115.1,324.0 116.2,328.7 117.3,333.0 118.4,337.0 119.5,340.9 120.5,344.6 121.6,348.2 122.7,351.7 123.8,354.9 124.8,357.9 125.9,360.6 127.0,363.0 128.1,365.4 129.1,367.7 130.2,369.8 131.3,371.7 132.4,373.4 133.5,374.7 134.5,375.8 135.6,376.8 136.7,377.7 137.8,378.6 138.8,379.4 139.9,380.1 141.0,380.9 142.1,381.5 143.2,382.1 144.2,382.7 145.3,383.2 146.4,383.6 147.5,384.0 148.5,384.3 149.6,384.5 150.7,384.7 151.8,384.9 152.9,385.1 153.9,385.3 155.0,385.4 156.1,385.6 157.2,385.8 158.2,385.9 159.3,386.1 160.4,386.2 161.5,386.3 162.6,386.4 163.6,386.5 164.7,386.6 165.8,386.7 166.9,386.8 167.9,386.9 169.0,386.9 170.1,387.0 171.2,387.0 172.3,387.0 173.3,387.0 174.4,387.0 175.5,387.0 176.6,386.9 177.6,386.9 178.7,386.8 179.8,386.7 180.9,386.5 182.0,386.4 183.0,386.3 184.1,386.1 185.2,385.9 186.3,385.7 187.3,385.6 188.4,385.3 189.5,385.1 190.6,384.9 191.7,384.7 192.7,384.4 193.8,384.2 194.9,383.9 196.0,383.7 197.0,383.4 198.1,383.1 199.2,382.9 200.3,382.6 201.4,382.3 202.4,381.9 203.5,381.5 204.6,381.0 205.7,380.5 206.7,380.0 207.8,379.5 208.9,378.9 210.0,378.3 211.0,377.7 212.1,377.2 213.2,376.6 214.3,376.1 215.4,375.6 216.4,375.1 217.5,374.5 218.6,374.0 219.7,373.4 220.7,372.8 221.8,372.3 222.9,371.7 224.0,371.2 225.1,370.7 226.1,370.2 227.2,369.8 228.3,369.4 229.4,369.1 230.4,368.8 231.5,368.6 232.6,368.3 233.7,368.1 234.8,367.9 235.8,367.7 236.9,367.5 238.0,367.4 239.1,367.2 240.1,367.1 241.2,367.0 242.3,366.9 243.4,366.8 244.5,366.7 245.5,366.7 246.6,366.6 247.7,366.5 248.8,366.5 249.8,366.5 250.9,366.5 252.0,366.5 253.1,366.5 254.2,366.5 255.2,366.6 256.3,366.6 257.4,366.6 258.5,366.7 259.5,366.8 260.6,366.8 261.7,366.9 262.8,367.0 263.9,367.1 264.9,367.3 266.0,367.5 267.1,367.7 268.2,368.0 269.2,368.2 270.3,368.5 271.4,368.7 272.5,369.0 273.6,369.3 274.6,369.5 275.7,369.8 276.8,370.1 277.9,370.4 278.9,370.7 280.0,371.0 281.1,371.3 282.2,371.6 283.3,371.9 284.3,372.1 285.4,372.4 286.5,372.6 287.6,372.9 288.6,373.1 289.7,373.3 290.8,373.6 291.9,373.8 292.9,374.0 294.0,374.3 295.1,374.5 296.2,374.7 297.3,374.9 298.3,375.2 299.4,375.4 300.5,375.6 301.6,375.8 302.6,376.0 303.7,376.2 304.8,376.3 305.9,376.5 307.0,376.6 308.0,376.7 309.1,376.9 310.2,377.0 311.3,377.1 312.3,377.2 313.4,377.3 314.5,377.3 315.6,377.3 316.7,377.3 317.7,377.3 318.8,377.3 319.9,377.3 321.0,377.3 322.0,377.3 323.1,377.3 324.2,377.2 325.3,377.2 326.4,377.2 327.4,377.1 328.5,377.1 329.6,377.0 330.7,376.9 331.7,376.8 332.8,376.6 333.9,376.5 335.0,376.4 336.1,376.3 337.1,376.1 338.2,376.0 339.3,375.9 340.4,375.8 341.4,375.7 342.5,375.6 343.6,375.4 344.7,375.3 345.8,375.2 346.8,375.1 347.9,375.0 349.0,374.8 350.1,374.7 351.1,374.6 352.2,374.4 353.3,374.3 354.4,374.2 355.5,374.1 356.5,373.9 357.6,373.8 358.7,373.7 359.8,373.6 360.8,373.4 361.9,373.3 363.0,373.2 364.1,373.0 365.2,372.9 366.2,372.8 367.3,372.7 368.4,372.6 369.5,372.4 370.5,372.3 371.6,372.2 372.7,372.1 373.8,372.0 374.9,371.8 375.9,371.7 377.0,371.6 378.1,371.5 379.2,371.4 380.2,371.3 381.3,371.2 382.4,371.1 383.5,371.1 384.5,371.0 385.6,370.9 386.7,370.8 387.8,370.7 388.9,370.7 389.9,370.6 391.0,370.6 392.1,370.6 393.2,370.5 394.2,370.5 395.3,370.5 396.4,370.5 397.5,370.5 398.6,370.5 399.6,370.4 400.7,370.4 401.8,370.4 402.9,370.4 403.9,370.3 405.0,370.3 406.1,370.2 407.2,370.1 408.3,370.1 409.3,370.0 410.4,370.0 411.5,369.9 412.6,369.9 413.6,369.9 414.7,370.0 415.8,370.1 416.9,370.3 418.0,370.5 419.0,370.7 420.1,370.9 421.2,371.1 422.3,371.3 423.3,371.5 424.4,371.7 425.5,371.8 426.6,372.0 427.7,372.2 428.7,372.3 429.8,372.5 430.9,372.7 432.0,372.9 433.0,373.1 434.1,373.3 435.2,373.5 436.3,373.7 437.4,373.9 438.4,374.1 439.5,374.3 440.6,374.5 441.7,374.8 442.7,375.0 443.8,375.2 444.9,375.4 446.0,375.6 447.1,375.9 448.1,376.1 449.2,376.3 450.3,376.5 451.4,376.7 452.4,376.9 453.5,377.2 454.6,377.4 455.7,377.6 456.8,377.8 457.8,378.0 458.9,378.2 460.0,378.4 461.1,378.6 462.1,378.8 463.2,379.0 464.3,379.2 465.4,379.4 466.4,379.6 467.5,379.8 468.6,380.0 469.7,380.2 470.8,380.4 471.8,380.6 472.9,380.8 474.0,380.9 475.1,381.1 476.1,381.3 477.2,381.4 478.3,381.6 479.4,381.7 480.5,381.8 481.5,382.0 482.6,382.1 483.7,382.2 484.8,382.3 485.8,382.4 486.9,382.6 488.0,382.7 489.1,382.8 490.2,382.9 491.2,383.0 492.3,383.1 493.4,383.2 494.5,383.3 495.5,383.4 496.6,383.5 497.7,383.6 498.8,383.7 499.9,383.8 500.9,383.8 502.0,383.9 503.1,384.0 504.2,384.1 505.2,384.2 506.3,384.3 507.4,384.4 508.5,384.4 509.6,384.5 510.6,384.6 511.7,384.7 512.8,384.8 513.9,384.9 514.9,384.9 516.0,385.0 517.1,385.1 518.2,385.2 519.3,385.3 520.3,385.3 521.4,385.4 522.5,385.5 523.6,385.6 524.6,385.7 525.7,385.7 526.8,385.8 527.9,385.9 529.0,386.0 530.0,386.0 531.1,386.1 532.2,386.2 533.3,386.3 534.3,386.3 535.4,386.4 536.5,386.5 537.6,386.5 538.7,386.6 539.7,386.7 540.8,386.7 541.9,386.8 543.0,386.9 544.0,386.9 545.1,387.0 546.2,387.1 547.3,387.1 548.3,387.2 549.4,387.3 550.5,387.3 551.6,387.4 552.7,387.5 553.7,387.5 554.8,387.6 555.9,387.6 557.0,387.7 558.0,387.8 559.1,387.8 560.2,387.9 561.3,387.9 562.4,388.0 563.4,388.0 564.5,388.1 565.6,388.1 566.7,388.2 567.7,388.3 568.8,388.3 569.9,388.4 571.0,388.4 572.1,388.5 573.1,388.5 574.2,388.6 575.3,388.6 576.4,388.7 577.4,388.7 578.5,388.8 579.6,388.8 580.7,388.8 581.8,388.9 582.8,388.9 583.9,389.0 585.0,389.0 586.1,389.1 587.1,389.1 588.2,389.2 589.3,389.2 590.4,389.3 591.5,389.3 592.5,389.3 593.6,389.4 594.7,389.4 595.8,389.5 596.8,389.5 597.9,389.5 599.0,389.6 600.1,389.6 601.2,389.7 602.2,389.7 603.3,389.7 604.4,389.8 605.5,389.8 606.5,389.9 607.6,389.9 608.7,389.9 609.8,389.9 610.9,390.0 611.9,390.0 613.0,390.0 614.1,390.1 615.2,390.1 616.2,390.1 617.3,390.1 618.4,390.2 619.5,390.2 620.6,390.2 621.6,390.3 622.7,390.3 623.8,390.3 624.9,390.4 625.9,390.4 627.0,390.4 628.1,390.5 629.2,390.5 630.2,390.6 631.3,390.7 632.4,390.8 633.5,390.9 634.6,391.0 635.6,391.1 636.7,391.2 637.8,391.4 638.9,391.5 639.9,391.6 641.0,391.8 642.1,391.9 643.2,392.1 644.3,392.3 645.3,392.4 646.4,392.6 647.5,392.8 648.6,392.9 649.6,393.1 650.7,393.2 651.8,393.4 652.9,393.5 654.0,393.6 655.0,393.7 656.1,393.8 657.2,394.0 658.3,394.1 659.3,394.2 660.4,394.3 661.5,394.4 662.6,394.5 663.7,394.6 664.7,394.7 665.8,394.8 666.9,394.9 668.0,394.9 669.0,395.0 670.1,395.1 671.2,395.2" stroke="#2030cc" stroke-width="1.45" stroke-dasharray="22.6 7"/>
<polyline points="78.5,116.3 79.6,144.4 80.7,158.4 81.7,168.7 82.8,176.6 83.9,183.0 85.0,189.1 86.0,195.8 87.1,203.2 88.2,210.3 89.3,217.0 90.4,223.5 91.4,229.8 92.5,235.8 93.6,241.6 94.7,247.2 95.7,252.7 96.8,258.1 97.9,263.3 99.0,268.3 100.1,273.1 101.1,277.7 102.2,282.2 103.3,286.7 104.4,291.2 105.4,295.8 106.5,300.6 107.6,305.6 108.7,310.8 109.8,316.1 110.8,321.4 111.9,326.4 113.0,331.2 114.1,335.5 115.1,339.5 116.2,343.4 117.3,347.1 118.4,350.6 119.5,354.0 120.5,357.1 121.6,360.0 122.7,362.6 123.8,365.2 124.8,367.6 125.9,369.9 127.0,371.9 128.1,373.7 129.1,375.2 130.2,376.4 131.3,377.6 132.4,378.7 133.5,379.8 134.5,380.8 135.6,381.7 136.7,382.6 137.8,383.3 138.8,384.0 139.9,384.6 141.0,385.1 142.1,385.5 143.2,385.8 144.2,386.0 145.3,386.1 146.4,386.3 147.5,386.5 148.5,386.7 149.6,386.8 150.7,387.0 151.8,387.1 152.9,387.2 153.9,387.4 155.0,387.5 156.1,387.6 157.2,387.7 158.2,387.7 159.3,387.8 160.4,387.8 161.5,387.9 162.6,387.9 163.6,387.9 164.7,387.9 165.8,387.9 166.9,387.9 167.9,387.9 169.0,387.9 170.1,387.9 171.2,387.9 172.3,387.9 173.3,387.8 174.4,387.8 175.5,387.8 176.6,387.8 177.6,387.7 178.7,387.7 179.8,387.7 180.9,387.6 182.0,387.6 183.0,387.5 184.1,387.4 185.2,387.2 186.3,387.1 187.3,386.9 188.4,386.7 189.5,386.4 190.6,386.2 191.7,385.9 192.7,385.6 193.8,385.4 194.9,385.1 196.0,384.8 197.0,384.5 198.1,384.1 199.2,383.8 200.3,383.5 201.4,383.2 202.4,382.8 203.5,382.4 204.6,382.0 205.7,381.6 206.7,381.1 207.8,380.7 208.9,380.2 210.0,379.7 211.0,379.2 212.1,378.7 213.2,378.2 214.3,377.7 215.4,377.3 216.4,376.8 217.5,376.3 218.6,375.8 219.7,375.2 220.7,374.7 221.8,374.1 222.9,373.6 224.0,373.1 225.1,372.6 226.1,372.2 227.2,371.8 228.3,371.4 229.4,371.1 230.4,370.8 231.5,370.5 232.6,370.3 233.7,370.0 234.8,369.8 235.8,369.6 236.9,369.4 238.0,369.3 239.1,369.1 240.1,369.0 241.2,368.9 242.3,368.8 243.4,368.6 244.5,368.5 245.5,368.4 246.6,368.4 247.7,368.3 248.8,368.2 249.8,368.2 250.9,368.2 252.0,368.2 253.1,368.2 254.2,368.2 255.2,368.3 256.3,368.3 257.4,368.4 258.5,368.4 259.5,368.5 260.6,368.5 261.7,368.6 262.8,368.7 263.9,368.8 264.9,369.0 266.0,369.2 267.1,369.4 268.2,369.6 269.2,369.9 270.3,370.1 271.4,370.3 272.5,370.6 273.6,370.8 274.6,371.1 275.7,371.3 276.8,371.6 277.9,371.9 278.9,372.2 280.0,372.5 281.1,372.7 282.2,373.0 283.3,373.3 284.3,373.5 285.4,373.7 286.5,374.0 287.6,374.2 288.6,374.4 289.7,374.6 290.8,374.8 291.9,375.1 292.9,375.3 294.0,375.5 295.1,375.7 296.2,375.9 297.3,376.1 298.3,376.3 299.4,376.5 300.5,376.7 301.6,376.9 302.6,377.1 303.7,377.3 304.8,377.4 305.9,377.5 307.0,377.7 308.0,377.8 309.1,377.9 310.2,378.0 311.3,378.1 312.3,378.2 313.4,378.3 314.5,378.3 315.6,378.3 316.7,378.3 317.7,378.3 318.8,378.3 319.9,378.3 321.0,378.3 322.0,378.3 323.1,378.2 324.2,378.2 325.3,378.2 326.4,378.2 327.4,378.1 328.5,378.1 329.6,378.0 330.7,377.9 331.7,377.8 332.8,377.7 333.9,377.5 335.0,377.4 336.1,377.3 337.1,377.2 338.2,377.1 339.3,377.0 340.4,376.8 341.4,376.7 342.5,376.6 343.6,376.5 344.7,376.4 345.8,376.3 346.8,376.1 347.9,376.0 349.0,375.9 350.1,375.8 351.1,375.6 352.2,375.5 353.3,375.4 354.4,375.2 355.5,375.1 356.5,375.0 357.6,374.8 358.7,374.7 359.8,374.6 360.8,374.4 361.9,374.3 363.0,374.2 364.1,374.0 365.2,373.9 366.2,373.8 367.3,373.7 368.4,373.5 369.5,373.4 370.5,373.3 371.6,373.2 372.7,373.0 373.8,372.9 374.9,372.8 375.9,372.7 377.0,372.6 378.1,372.5 379.2,372.4 380.2,372.3 381.3,372.2 382.4,372.1 383.5,372.0 384.5,371.9 385.6,371.8 386.7,371.8 387.8,371.7 388.9,371.6 389.9,371.6 391.0,371.6 392.1,371.5 393.2,371.5 394.2,371.5 395.3,371.5 396.4,371.5 397.5,371.5 398.6,371.5 399.6,371.5 400.7,371.4 401.8,371.4 402.9,371.4 403.9,371.3 405.0,371.3 406.1,371.2 407.2,371.1 408.3,371.1 409.3,371.0 410.4,371.0 411.5,370.9 412.6,370.9 413.6,371.0 414.7,371.0 415.8,371.2 416.9,371.3 418.0,371.5 419.0,371.7 420.1,371.9 421.2,372.1 422.3,372.3 423.3,372.5 424.4,372.7 425.5,372.8 426.6,373.0 427.7,373.2 428.7,373.3 429.8,373.5 430.9,373.7 432.0,373.8 433.0,374.0 434.1,374.2 435.2,374.4 436.3,374.6 437.4,374.8 438.4,375.0 439.5,375.2 440.6,375.4 441.7,375.6 442.7,375.9 443.8,376.1 444.9,376.3 446.0,376.5 447.1,376.7 448.1,376.9 449.2,377.1 450.3,377.3 451.4,377.5 452.4,377.7 453.5,377.9 454.6,378.1 455.7,378.3 456.8,378.5 457.8,378.7 458.9,378.9 460.0,379.1 461.1,379.3 462.1,379.5 463.2,379.7 464.3,379.9 465.4,380.0 466.4,380.2 467.5,380.4 468.6,380.6 469.7,380.8 470.8,380.9 471.8,381.1 472.9,381.3 474.0,381.5 475.1,381.6 476.1,381.8 477.2,381.9 478.3,382.1 479.4,382.2 480.5,382.3 481.5,382.4 482.6,382.6 483.7,382.7 484.8,382.8 485.8,382.9 486.9,383.0 488.0,383.1 489.1,383.2 490.2,383.3 491.2,383.4 492.3,383.5 493.4,383.6 494.5,383.7 495.5,383.8 496.6,383.9 497.7,383.9 498.8,384.0 499.9,384.1 500.9,384.2 502.0,384.3 503.1,384.4 504.2,384.5 505.2,384.5 506.3,384.6 507.4,384.7 508.5,384.8 509.6,384.9 510.6,384.9 511.7,385.0 512.8,385.1 513.9,385.2 514.9,385.3 516.0,385.3 517.1,385.4 518.2,385.5 519.3,385.6 520.3,385.6 521.4,385.7 522.5,385.8 523.6,385.9 524.6,385.9 525.7,386.0 526.8,386.1 527.9,386.2 529.0,386.2 530.0,386.3 531.1,386.4 532.2,386.4 533.3,386.5 534.3,386.6 535.4,386.6 536.5,386.7 537.6,386.8 538.7,386.8 539.7,386.9 540.8,387.0 541.9,387.0 543.0,387.1 544.0,387.2 545.1,387.2 546.2,387.3 547.3,387.4 548.3,387.4 549.4,387.5 550.5,387.5 551.6,387.6 552.7,387.7 553.7,387.7 554.8,387.8 555.9,387.8 557.0,387.9 558.0,388.0 559.1,388.0 560.2,388.1 561.3,388.1 562.4,388.2 563.4,388.2 564.5,388.3 565.6,388.3 566.7,388.4 567.7,388.4 568.8,388.5 569.9,388.5 571.0,388.6 572.1,388.6 573.1,388.7 574.2,388.7 575.3,388.8 576.4,388.8 577.4,388.9 578.5,388.9 579.6,389.0 580.7,389.0 581.8,389.1 582.8,389.1 583.9,389.2 585.0,389.2 586.1,389.3 587.1,389.3 588.2,389.4 589.3,389.4 590.4,389.4 591.5,389.5 592.5,389.5 593.6,389.6 594.7,389.6 595.8,389.7 596.8,389.7 597.9,389.7 599.0,389.8 600.1,389.8 601.2,389.9 602.2,389.9 603.3,389.9 604.4,390.0 605.5,390.0 606.5,390.0 607.6,390.1 608.7,390.1 609.8,390.1 610.9,390.2 611.9,390.2 613.0,390.2 614.1,390.3 615.2,390.3 616.2,390.4 617.3,390.4 618.4,390.5 619.5,390.5 620.6,390.6 621.6,390.6 622.7,390.7 623.8,390.8 624.9,390.9 625.9,390.9 627.0,391.0 628.1,391.1 629.2,391.2 630.2,391.3 631.3,391.4 632.4,391.5 633.5,391.6 634.6,391.7 635.6,391.8 636.7,391.9 637.8,392.0 638.9,392.1 639.9,392.2 641.0,392.4 642.1,392.5 643.2,392.7 644.3,392.8 645.3,393.0 646.4,393.1 647.5,393.3 648.6,393.4 649.6,393.5 650.7,393.7 651.8,393.8 652.9,393.9 654.0,394.0 655.0,394.1 656.1,394.2 657.2,394.3 658.3,394.4 659.3,394.5 660.4,394.6 661.5,394.7 662.6,394.8 663.7,394.9 664.7,394.9 665.8,395.0 666.9,395.1 668.0,395.2 669.0,395.2 670.1,395.3 671.2,395.3" stroke="#f000f0" stroke-width="1.45" stroke-dasharray="15.6 3.4 1.7 3.1"/>
<polyline points="78.5,138.9 79.6,156.4 80.7,173.0 81.7,187.4 82.8,198.4 83.9,207.5 85.0,215.5 86.0,222.8 87.1,229.4 88.2,235.5 89.3,241.2 90.4,246.7 91.4,252.1 92.5,257.5 93.6,263.0 94.7,268.2 95.7,273.1 96.8,277.9 97.9,282.5 99.0,287.1 100.1,291.7 101.1,296.3 102.2,301.1 103.3,306.0 104.4,311.0 105.4,316.0 106.5,321.0 107.6,325.8 108.7,330.4 109.8,334.7 110.8,338.7 111.9,342.7 113.0,346.5 114.1,350.1 115.1,353.6 116.2,356.9 117.3,359.9 118.4,362.7 119.5,365.3 120.5,367.9 121.6,370.2 122.7,372.3 123.8,374.2 124.8,375.7 125.9,377.1 127.0,378.4 128.1,379.6 129.1,380.8 130.2,381.8 131.3,382.8 132.4,383.7 133.5,384.5 134.5,385.2 135.6,385.8 136.7,386.3 137.8,386.8 138.8,387.4 139.9,387.8 141.0,388.3 142.1,388.7 143.2,389.0 144.2,389.4 145.3,389.6 146.4,389.8 147.5,389.8 148.5,389.9 149.6,390.0 150.7,390.0 151.8,390.1 152.9,390.2 153.9,390.2 155.0,390.3 156.1,390.3 157.2,390.3 158.2,390.4 159.3,390.4 160.4,390.4 161.5,390.4 162.6,390.4 163.6,390.5 164.7,390.5 165.8,390.4 166.9,390.4 167.9,390.4 169.0,390.4 170.1,390.4 171.2,390.3 172.3,390.3 173.3,390.2 174.4,390.2 175.5,390.1 176.6,390.1 177.6,390.0 178.7,390.0 179.8,389.9 180.9,389.8 182.0,389.7 183.0,389.6 184.1,389.5 185.2,389.3 186.3,389.1 187.3,388.8 188.4,388.6 189.5,388.3 190.6,388.0 191.7,387.7 192.7,387.4 193.8,387.1 194.9,386.8 196.0,386.4 197.0,386.1 198.1,385.8 199.2,385.4 200.3,385.1 201.4,384.8 202.4,384.4 203.5,384.0 204.6,383.6 205.7,383.2 206.7,382.8 207.8,382.4 208.9,382.0 210.0,381.6 211.0,381.1 212.1,380.7 213.2,380.2 214.3,379.8 215.4,379.4 216.4,378.9 217.5,378.4 218.6,377.9 219.7,377.4 220.7,376.9 221.8,376.4 222.9,375.8 224.0,375.4 225.1,374.9 226.1,374.4 227.2,374.0 228.3,373.7 229.4,373.3 230.4,373.1 231.5,372.8 232.6,372.5 233.7,372.3 234.8,372.0 235.8,371.8 236.9,371.6 238.0,371.5 239.1,371.3 240.1,371.2 241.2,371.0 242.3,370.9 243.4,370.7 244.5,370.6 245.5,370.5 246.6,370.4 247.7,370.3 248.8,370.2 249.8,370.2 250.9,370.2 252.0,370.2 253.1,370.2 254.2,370.2 255.2,370.3 256.3,370.3 257.4,370.4 258.5,370.4 259.5,370.5 260.6,370.5 261.7,370.6 262.8,370.7 263.9,370.8 264.9,370.9 266.0,371.1 267.1,371.3 268.2,371.5 269.2,371.7 270.3,372.0 271.4,372.2 272.5,372.4 273.6,372.6 274.6,372.8 275.7,373.1 276.8,373.3 277.9,373.6 278.9,373.9 280.0,374.1 281.1,374.4 282.2,374.6 283.3,374.9 284.3,375.1 285.4,375.3 286.5,375.5 287.6,375.7 288.6,375.9 289.7,376.1 290.8,376.3 291.9,376.5 292.9,376.7 294.0,376.9 295.1,377.1 296.2,377.3 297.3,377.5 298.3,377.7 299.4,377.9 300.5,378.0 301.6,378.2 302.6,378.4 303.7,378.5 304.8,378.6 305.9,378.8 307.0,378.9 308.0,379.0 309.1,379.1 310.2,379.2 311.3,379.3 312.3,379.4 313.4,379.4 314.5,379.5 315.6,379.5 316.7,379.5 317.7,379.5 318.8,379.5 319.9,379.4 321.0,379.4 322.0,379.4 323.1,379.4 324.2,379.4 325.3,379.3 326.4,379.3 327.4,379.3 328.5,379.2 329.6,379.1 330.7,379.0 331.7,378.9 332.8,378.8 333.9,378.7 335.0,378.6 336.1,378.5 337.1,378.4 338.2,378.3 339.3,378.2 340.4,378.0 341.4,377.9 342.5,377.8 343.6,377.7 344.7,377.6 345.8,377.5 346.8,377.4 347.9,377.2 349.0,377.1 350.1,377.0 351.1,376.8 352.2,376.7 353.3,376.6 354.4,376.4 355.5,376.3 356.5,376.2 357.6,376.0 358.7,375.9 359.8,375.8 360.8,375.6 361.9,375.5 363.0,375.3 364.1,375.2 365.2,375.1 366.2,374.9 367.3,374.8 368.4,374.7 369.5,374.5 370.5,374.4 371.6,374.3 372.7,374.2 373.8,374.0 374.9,373.9 375.9,373.8 377.0,373.7 378.1,373.6 379.2,373.5 380.2,373.4 381.3,373.3 382.4,373.2 383.5,373.1 384.5,373.0 385.6,372.9 386.7,372.9 387.8,372.8 388.9,372.7 389.9,372.7 391.0,372.7 392.1,372.7 393.2,372.7 394.2,372.6 395.3,372.6 396.4,372.6 397.5,372.6 398.6,372.6 399.6,372.6 400.7,372.6 401.8,372.6 402.9,372.6 403.9,372.5 405.0,372.5 406.1,372.4 407.2,372.3 408.3,372.3 409.3,372.2 410.4,372.2 411.5,372.1 412.6,372.1 413.6,372.1 414.7,372.2 415.8,372.3 416.9,372.5 418.0,372.7 419.0,372.9 420.1,373.1 421.2,373.3 422.3,373.5 423.3,373.6 424.4,373.8 425.5,374.0 426.6,374.1 427.7,374.3 428.7,374.5 429.8,374.6 430.9,374.8 432.0,375.0 433.0,375.1 434.1,375.3 435.2,375.5 436.3,375.7 437.4,375.9 438.4,376.1 439.5,376.3 440.6,376.5 441.7,376.7 442.7,376.9 443.8,377.1 444.9,377.2 446.0,377.4 447.1,377.6 448.1,377.8 449.2,378.0 450.3,378.2 451.4,378.4 452.4,378.6 453.5,378.8 454.6,379.0 455.7,379.2 456.8,379.3 457.8,379.5 458.9,379.7 460.0,379.9 461.1,380.1 462.1,380.2 463.2,380.4 464.3,380.6 465.4,380.8 466.4,380.9 467.5,381.1 468.6,381.3 469.7,381.4 470.8,381.6 471.8,381.8 472.9,381.9 474.0,382.1 475.1,382.2 476.1,382.4 477.2,382.5 478.3,382.6 479.4,382.7 480.5,382.9 481.5,383.0 482.6,383.1 483.7,383.2 484.8,383.3 485.8,383.4 486.9,383.5 488.0,383.6 489.1,383.7 490.2,383.8 491.2,383.9 492.3,384.0 493.4,384.0 494.5,384.1 495.5,384.2 496.6,384.3 497.7,384.4 498.8,384.5 499.9,384.5 500.9,384.6 502.0,384.7 503.1,384.8 504.2,384.9 505.2,384.9 506.3,385.0 507.4,385.1 508.5,385.2 509.6,385.2 510.6,385.3 511.7,385.4 512.8,385.5 513.9,385.5 514.9,385.6 516.0,385.7 517.1,385.8 518.2,385.8 519.3,385.9 520.3,386.0 521.4,386.0 522.5,386.1 523.6,386.2 524.6,386.2 525.7,386.3 526.8,386.4 527.9,386.5 529.0,386.5 530.0,386.6 531.1,386.7 532.2,386.7 533.3,386.8 534.3,386.9 535.4,386.9 536.5,387.0 537.6,387.0 538.7,387.1 539.7,387.2 540.8,387.2 541.9,387.3 543.0,387.4 544.0,387.4 545.1,387.5 546.2,387.5 547.3,387.6 548.3,387.7 549.4,387.7 550.5,387.8 551.6,387.8 552.7,387.9 553.7,388.0 554.8,388.0 555.9,388.1 557.0,388.1 558.0,388.2 559.1,388.2 560.2,388.3 561.3,388.4 562.4,388.4 563.4,388.5 564.5,388.5 565.6,388.6 566.7,388.6 567.7,388.7 568.8,388.7 569.9,388.8 571.0,388.8 572.1,388.9 573.1,388.9 574.2,389.0 575.3,389.0 576.4,389.1 577.4,389.1 578.5,389.2 579.6,389.2 580.7,389.3 581.8,389.3 582.8,389.4 583.9,389.4 585.0,389.4 586.1,389.5 587.1,389.5 588.2,389.6 589.3,389.6 590.4,389.7 591.5,389.7 592.5,389.8 593.6,389.8 594.7,389.8 595.8,389.9 596.8,389.9 597.9,390.0 599.0,390.0 600.1,390.0 601.2,390.1 602.2,390.1 603.3,390.1 604.4,390.2 605.5,390.2 606.5,390.3 607.6,390.3 608.7,390.3 609.8,390.4 610.9,390.4 611.9,390.5 613.0,390.5 614.1,390.5 615.2,390.6 616.2,390.6 617.3,390.7 618.4,390.8 619.5,390.9 620.6,391.0 621.6,391.1 622.7,391.2 623.8,391.3 624.9,391.4 625.9,391.6 627.0,391.7 628.1,391.8 629.2,391.9 630.2,392.0 631.3,392.1 632.4,392.2 633.5,392.3 634.6,392.4 635.6,392.5 636.7,392.6 637.8,392.7 638.9,392.9 639.9,393.0 641.0,393.1 642.1,393.2 643.2,393.4 644.3,393.5 645.3,393.6 646.4,393.7 647.5,393.9 648.6,394.0 649.6,394.1 650.7,394.2 651.8,394.3 652.9,394.4 654.0,394.5 655.0,394.6 656.1,394.7 657.2,394.7 658.3,394.8 659.3,394.9 660.4,395.0 661.5,395.0 662.6,395.1 663.7,395.2 664.7,395.2 665.8,395.3 666.9,395.3 668.0,395.4 669.0,395.4 670.1,395.5 671.2,395.5" stroke="#00e8e8" stroke-width="1.45" stroke-dasharray="17.5 5.1"/>
<polyline points="78.5,161.0 79.6,179.8 80.7,195.4 81.7,206.1 82.8,215.6 83.9,224.0 85.0,231.5 86.0,238.4 87.1,244.7 88.2,250.6 89.3,256.3 90.4,262.0 91.4,267.2 92.5,272.0 93.6,276.5 94.7,280.9 95.7,285.1 96.8,289.3 97.9,293.7 99.0,298.2 100.1,303.0 101.1,308.1 102.2,313.3 103.3,318.6 104.4,323.7 105.4,328.7 106.5,333.3 107.6,337.6 108.7,341.8 109.8,345.9 110.8,349.8 111.9,353.5 113.0,356.9 114.1,359.9 115.1,362.6 116.2,365.2 117.3,367.6 118.4,369.8 119.5,371.8 120.5,373.6 121.6,375.1 122.7,376.5 123.8,377.7 124.8,378.9 125.9,380.0 127.0,381.0 128.1,381.9 129.1,382.8 130.2,383.6 131.3,384.4 132.4,385.1 133.5,385.9 134.5,386.6 135.6,387.3 136.7,388.0 137.8,388.7 138.8,389.3 139.9,389.8 141.0,390.2 142.1,390.5 143.2,390.8 144.2,391.0 145.3,391.2 146.4,391.4 147.5,391.6 148.5,391.7 149.6,391.9 150.7,392.0 151.8,392.2 152.9,392.3 153.9,392.4 155.0,392.5 156.1,392.6 157.2,392.6 158.2,392.6 159.3,392.6 160.4,392.6 161.5,392.6 162.6,392.6 163.6,392.5 164.7,392.5 165.8,392.4 166.9,392.3 167.9,392.3 169.0,392.2 170.1,392.1 171.2,392.0 172.3,391.8 173.3,391.7 174.4,391.6 175.5,391.5 176.6,391.3 177.6,391.2 178.7,391.0 179.8,390.9 180.9,390.8 182.0,390.6 183.0,390.4 184.1,390.2 185.2,390.0 186.3,389.8 187.3,389.5 188.4,389.3 189.5,389.0 190.6,388.7 191.7,388.4 192.7,388.1 193.8,387.7 194.9,387.4 196.0,387.1 197.0,386.7 198.1,386.4 199.2,386.1 200.3,385.7 201.4,385.4 202.4,385.0 203.5,384.6 204.6,384.3 205.7,383.9 206.7,383.5 207.8,383.0 208.9,382.6 210.0,382.2 211.0,381.8 212.1,381.3 213.2,380.9 214.3,380.5 215.4,380.0 216.4,379.6 217.5,379.1 218.6,378.6 219.7,378.1 220.7,377.6 221.8,377.1 222.9,376.6 224.0,376.1 225.1,375.6 226.1,375.2 227.2,374.8 228.3,374.4 229.4,374.1 230.4,373.8 231.5,373.5 232.6,373.3 233.7,373.0 234.8,372.8 235.8,372.6 236.9,372.4 238.0,372.2 239.1,372.0 240.1,371.9 241.2,371.7 242.3,371.6 243.4,371.4 244.5,371.3 245.5,371.2 246.6,371.1 247.7,371.0 248.8,370.9 249.8,370.9 250.9,370.9 252.0,370.9 253.1,370.9 254.2,370.9 255.2,370.9 256.3,371.0 257.4,371.0 258.5,371.1 259.5,371.1 260.6,371.2 261.7,371.2 262.8,371.3 263.9,371.4 264.9,371.6 266.0,371.8 267.1,372.0 268.2,372.2 269.2,372.4 270.3,372.6 271.4,372.8 272.5,373.0 273.6,373.2 274.6,373.4 275.7,373.7 276.8,373.9 277.9,374.2 278.9,374.4 280.0,374.7 281.1,374.9 282.2,375.2 283.3,375.4 284.3,375.6 285.4,375.8 286.5,376.0 287.6,376.2 288.6,376.4 289.7,376.6 290.8,376.8 291.9,377.0 292.9,377.2 294.0,377.4 295.1,377.5 296.2,377.7 297.3,377.9 298.3,378.1 299.4,378.3 300.5,378.5 301.6,378.6 302.6,378.8 303.7,378.9 304.8,379.1 305.9,379.2 307.0,379.3 308.0,379.4 309.1,379.5 310.2,379.6 311.3,379.7 312.3,379.8 313.4,379.8 314.5,379.8 315.6,379.9 316.7,379.9 317.7,379.8 318.8,379.8 319.9,379.8 321.0,379.8 322.0,379.8 323.1,379.8 324.2,379.7 325.3,379.7 326.4,379.7 327.4,379.6 328.5,379.6 329.6,379.5 330.7,379.4 331.7,379.3 332.8,379.2 333.9,379.1 335.0,379.0 336.1,378.9 337.1,378.8 338.2,378.7 339.3,378.6 340.4,378.5 341.4,378.3 342.5,378.2 343.6,378.1 344.7,378.0 345.8,377.9 346.8,377.8 347.9,377.6 349.0,377.5 350.1,377.4 351.1,377.3 352.2,377.1 353.3,377.0 354.4,376.8 355.5,376.7 356.5,376.6 357.6,376.4 358.7,376.3 359.8,376.1 360.8,376.0 361.9,375.9 363.0,375.7 364.1,375.6 365.2,375.4 366.2,375.3 367.3,375.2 368.4,375.0 369.5,374.9 370.5,374.8 371.6,374.7 372.7,374.5 373.8,374.4 374.9,374.3 375.9,374.2 377.0,374.1 378.1,374.0 379.2,373.9 380.2,373.8 381.3,373.7 382.4,373.6 383.5,373.5 384.5,373.4 385.6,373.3 386.7,373.2 387.8,373.2 388.9,373.1 389.9,373.1 391.0,373.0 392.1,373.0 393.2,373.0 394.2,373.0 395.3,373.0 396.4,373.0 397.5,373.0 398.6,373.0 399.6,373.0 400.7,373.0 401.8,373.0 402.9,373.0 403.9,372.9 405.0,372.9 406.1,372.8 407.2,372.7 408.3,372.7 409.3,372.6 410.4,372.6 411.5,372.5 412.6,372.5 413.6,372.5 414.7,372.6 415.8,372.7 416.9,372.9 418.0,373.1 419.0,373.3 420.1,373.5 421.2,373.7 422.3,373.9 423.3,374.0 424.4,374.2 425.5,374.3 426.6,374.5 427.7,374.7 428.7,374.8 429.8,375.0 430.9,375.2 432.0,375.3 433.0,375.5 434.1,375.7 435.2,375.8 436.3,376.0 437.4,376.2 438.4,376.4 439.5,376.6 440.6,376.8 441.7,377.0 442.7,377.2 443.8,377.4 444.9,377.6 446.0,377.8 447.1,378.0 448.1,378.1 449.2,378.3 450.3,378.5 451.4,378.7 452.4,378.9 453.5,379.1 454.6,379.3 455.7,379.4 456.8,379.6 457.8,379.8 458.9,380.0 460.0,380.2 461.1,380.3 462.1,380.5 463.2,380.7 464.3,380.8 465.4,381.0 466.4,381.2 467.5,381.3 468.6,381.5 469.7,381.7 470.8,381.8 471.8,382.0 472.9,382.1 474.0,382.3 475.1,382.4 476.1,382.6 477.2,382.7 478.3,382.8 479.4,382.9 480.5,383.1 481.5,383.2 482.6,383.3 483.7,383.4 484.8,383.5 485.8,383.6 486.9,383.7 488.0,383.8 489.1,383.9 490.2,383.9 491.2,384.0 492.3,384.1 493.4,384.2 494.5,384.3 495.5,384.4 496.6,384.4 497.7,384.5 498.8,384.6 499.9,384.7 500.9,384.8 502.0,384.8 503.1,384.9 504.2,385.0 505.2,385.1 506.3,385.1 507.4,385.2 508.5,385.3 509.6,385.4 510.6,385.4 511.7,385.5 512.8,385.6 513.9,385.7 514.9,385.7 516.0,385.8 517.1,385.9 518.2,385.9 519.3,386.0 520.3,386.1 521.4,386.1 522.5,386.2 523.6,386.3 524.6,386.4 525.7,386.4 526.8,386.5 527.9,386.6 529.0,386.6 530.0,386.7 531.1,386.8 532.2,386.8 533.3,386.9 534.3,387.0 535.4,387.0 536.5,387.1 537.6,387.1 538.7,387.2 539.7,387.3 540.8,387.3 541.9,387.4 543.0,387.5 544.0,387.5 545.1,387.6 546.2,387.6 547.3,387.7 548.3,387.8 549.4,387.8 550.5,387.9 551.6,387.9 552.7,388.0 553.7,388.0 554.8,388.1 555.9,388.2 557.0,388.2 558.0,388.3 559.1,388.3 560.2,388.4 561.3,388.4 562.4,388.5 563.4,388.5 564.5,388.6 565.6,388.6 566.7,388.7 567.7,388.7 568.8,388.8 569.9,388.8 571.0,388.9 572.1,388.9 573.1,389.0 574.2,389.0 575.3,389.1 576.4,389.1 577.4,389.2 578.5,389.2 579.6,389.3 580.7,389.3 581.8,389.4 582.8,389.4 583.9,389.5 585.0,389.5 586.1,389.6 587.1,389.6 588.2,389.7 589.3,389.7 590.4,389.7 591.5,389.8 592.5,389.8 593.6,389.9 594.7,389.9 595.8,390.0 596.8,390.0 597.9,390.0 599.0,390.1 600.1,390.1 601.2,390.1 602.2,390.2 603.3,390.2 604.4,390.3 605.5,390.3 606.5,390.3 607.6,390.4 608.7,390.4 609.8,390.5 610.9,390.5 611.9,390.5 613.0,390.6 614.1,390.6 615.2,390.7 616.2,390.7 617.3,390.8 618.4,390.9 619.5,391.0 620.6,391.1 621.6,391.2 622.7,391.4 623.8,391.5 624.9,391.6 625.9,391.8 627.0,391.9 628.1,392.0 629.2,392.2 630.2,392.3 631.3,392.4 632.4,392.5 633.5,392.6 634.6,392.7 635.6,392.8 636.7,392.9 637.8,393.0 638.9,393.1 639.9,393.2 641.0,393.3 642.1,393.5 643.2,393.6 644.3,393.7 645.3,393.8 646.4,393.9 647.5,394.0 648.6,394.2 649.6,394.3 650.7,394.3 651.8,394.4 652.9,394.5 654.0,394.6 655.0,394.7 656.1,394.8 657.2,394.9 658.3,395.0 659.3,395.0 660.4,395.1 661.5,395.2 662.6,395.2 663.7,395.3 664.7,395.3 665.8,395.4 666.9,395.4 668.0,395.5 669.0,395.5 670.1,395.6 671.2,395.6" stroke="#b4b4b4" stroke-width="1.3"/>
<polyline points="78.5,180.9 79.6,194.2 80.7,205.2 81.7,215.5 82.8,225.2 83.9,234.3 85.0,242.7 86.0,250.4 87.1,257.3 88.2,263.4 89.3,268.9 90.4,273.9 91.4,278.6 92.5,283.0 93.6,287.3 94.7,291.6 95.7,296.0 96.8,300.6 97.9,305.4 99.0,310.3 100.1,315.2 101.1,320.1 102.2,324.9 103.3,329.5 104.4,333.8 105.4,337.9 106.5,342.0 107.6,345.9 108.7,349.7 109.8,353.3 110.8,356.7 111.9,359.7 113.0,362.3 114.1,364.8 115.1,367.1 116.2,369.3 117.3,371.3 118.4,373.1 119.5,374.7 120.5,376.1 121.6,377.5 122.7,378.7 123.8,379.9 124.8,381.0 125.9,382.0 127.0,383.0 128.1,383.9 129.1,384.8 130.2,385.7 131.3,386.6 132.4,387.4 133.5,388.3 134.5,389.0 135.6,389.7 136.7,390.2 137.8,390.6 138.8,390.9 139.9,391.2 141.0,391.4 142.1,391.7 143.2,392.0 144.2,392.2 145.3,392.4 146.4,392.6 147.5,392.8 148.5,392.9 149.6,393.0 150.7,393.1 151.8,393.2 152.9,393.3 153.9,393.3 155.0,393.3 156.1,393.2 157.2,393.2 158.2,393.1 159.3,393.1 160.4,393.0 161.5,392.9 162.6,392.8 163.6,392.7 164.7,392.6 165.8,392.5 166.9,392.4 167.9,392.3 169.0,392.1 170.1,392.0 171.2,391.9 172.3,391.8 173.3,391.6 174.4,391.5 175.5,391.4 176.6,391.3 177.6,391.2 178.7,391.0 179.8,390.9 180.9,390.8 182.0,390.6 183.0,390.5 184.1,390.3 185.2,390.1 186.3,389.9 187.3,389.7 188.4,389.5 189.5,389.3 190.6,389.1 191.7,388.9 192.7,388.6 193.8,388.4 194.9,388.1 196.0,387.8 197.0,387.5 198.1,387.2 199.2,387.0 200.3,386.7 201.4,386.4 202.4,386.1 203.5,385.8 204.6,385.5 205.7,385.2 206.7,384.9 207.8,384.6 208.9,384.3 210.0,383.9 211.0,383.6 212.1,383.3 213.2,382.9 214.3,382.6 215.4,382.2 216.4,381.8 217.5,381.3 218.6,380.9 219.7,380.4 220.7,379.9 221.8,379.4 222.9,378.9 224.0,378.4 225.1,377.9 226.1,377.5 227.2,377.1 228.3,376.7 229.4,376.4 230.4,376.1 231.5,375.8 232.6,375.5 233.7,375.3 234.8,375.0 235.8,374.8 236.9,374.6 238.0,374.4 239.1,374.2 240.1,374.0 241.2,373.9 242.3,373.7 243.4,373.5 244.5,373.4 245.5,373.2 246.6,373.1 247.7,373.0 248.8,372.9 249.8,372.9 250.9,372.8 252.0,372.9 253.1,372.9 254.2,372.9 255.2,372.9 256.3,373.0 257.4,373.0 258.5,373.1 259.5,373.1 260.6,373.2 261.7,373.2 262.8,373.3 263.9,373.4 264.9,373.5 266.0,373.7 267.1,373.9 268.2,374.1 269.2,374.2 270.3,374.4 271.4,374.6 272.5,374.8 273.6,375.0 274.6,375.2 275.7,375.4 276.8,375.7 277.9,375.9 278.9,376.1 280.0,376.3 281.1,376.6 282.2,376.8 283.3,377.0 284.3,377.2 285.4,377.4 286.5,377.6 287.6,377.7 288.6,377.9 289.7,378.1 290.8,378.3 291.9,378.4 292.9,378.6 294.0,378.8 295.1,378.9 296.2,379.1 297.3,379.3 298.3,379.5 299.4,379.6 300.5,379.8 301.6,379.9 302.6,380.1 303.7,380.2 304.8,380.3 305.9,380.4 307.0,380.5 308.0,380.6 309.1,380.7 310.2,380.8 311.3,380.8 312.3,380.9 313.4,381.0 314.5,381.0 315.6,381.0 316.7,381.0 317.7,381.0 318.8,381.0 319.9,381.0 321.0,380.9 322.0,380.9 323.1,380.9 324.2,380.9 325.3,380.9 326.4,380.8 327.4,380.8 328.5,380.7 329.6,380.7 330.7,380.6 331.7,380.5 332.8,380.4 333.9,380.3 335.0,380.2 336.1,380.1 337.1,380.0 338.2,379.9 339.3,379.8 340.4,379.7 341.4,379.5 342.5,379.4 343.6,379.3 344.7,379.2 345.8,379.1 346.8,379.0 347.9,378.9 349.0,378.7 350.1,378.6 351.1,378.5 352.2,378.3 353.3,378.2 354.4,378.0 355.5,377.9 356.5,377.8 357.6,377.6 358.7,377.5 359.8,377.3 360.8,377.2 361.9,377.0 363.0,376.9 364.1,376.7 365.2,376.6 366.2,376.4 367.3,376.3 368.4,376.2 369.5,376.0 370.5,375.9 371.6,375.8 372.7,375.7 373.8,375.5 374.9,375.4 375.9,375.3 377.0,375.2 378.1,375.1 379.2,375.0 380.2,374.9 381.3,374.8 382.4,374.7 383.5,374.6 384.5,374.5 385.6,374.4 386.7,374.3 387.8,374.3 388.9,374.2 389.9,374.2 391.0,374.2 392.1,374.2 393.2,374.2 394.2,374.2 395.3,374.2 396.4,374.2 397.5,374.2 398.6,374.2 399.6,374.2 400.7,374.2 401.8,374.2 402.9,374.1 403.9,374.1 405.0,374.1 406.1,374.0 407.2,373.9 408.3,373.9 409.3,373.8 410.4,373.7 411.5,373.7 412.6,373.7 413.6,373.7 414.7,373.8 415.8,373.9 416.9,374.1 418.0,374.2 419.0,374.4 420.1,374.6 421.2,374.8 422.3,375.0 423.3,375.2 424.4,375.3 425.5,375.5 426.6,375.6 427.7,375.8 428.7,376.0 429.8,376.1 430.9,376.3 432.0,376.4 433.0,376.6 434.1,376.8 435.2,376.9 436.3,377.1 437.4,377.3 438.4,377.5 439.5,377.6 440.6,377.8 441.7,378.0 442.7,378.2 443.8,378.4 444.9,378.6 446.0,378.7 447.1,378.9 448.1,379.1 449.2,379.3 450.3,379.4 451.4,379.6 452.4,379.8 453.5,379.9 454.6,380.1 455.7,380.3 456.8,380.5 457.8,380.6 458.9,380.8 460.0,380.9 461.1,381.1 462.1,381.3 463.2,381.4 464.3,381.6 465.4,381.7 466.4,381.9 467.5,382.0 468.6,382.2 469.7,382.3 470.8,382.5 471.8,382.6 472.9,382.8 474.0,382.9 475.1,383.0 476.1,383.2 477.2,383.3 478.3,383.4 479.4,383.5 480.5,383.6 481.5,383.7 482.6,383.8 483.7,383.9 484.8,384.0 485.8,384.1 486.9,384.2 488.0,384.3 489.1,384.3 490.2,384.4 491.2,384.5 492.3,384.6 493.4,384.7 494.5,384.7 495.5,384.8 496.6,384.9 497.7,385.0 498.8,385.0 499.9,385.1 500.9,385.2 502.0,385.3 503.1,385.3 504.2,385.4 505.2,385.5 506.3,385.5 507.4,385.6 508.5,385.7 509.6,385.7 510.6,385.8 511.7,385.9 512.8,385.9 513.9,386.0 514.9,386.1 516.0,386.1 517.1,386.2 518.2,386.3 519.3,386.3 520.3,386.4 521.4,386.5 522.5,386.5 523.6,386.6 524.6,386.7 525.7,386.7 526.8,386.8 527.9,386.9 529.0,386.9 530.0,387.0 531.1,387.0 532.2,387.1 533.3,387.2 534.3,387.2 535.4,387.3 536.5,387.4 537.6,387.4 538.7,387.5 539.7,387.5 540.8,387.6 541.9,387.7 543.0,387.7 544.0,387.8 545.1,387.8 546.2,387.9 547.3,387.9 548.3,388.0 549.4,388.1 550.5,388.1 551.6,388.2 552.7,388.2 553.7,388.3 554.8,388.3 555.9,388.4 557.0,388.4 558.0,388.5 559.1,388.5 560.2,388.6 561.3,388.7 562.4,388.7 563.4,388.8 564.5,388.8 565.6,388.9 566.7,388.9 567.7,389.0 568.8,389.0 569.9,389.1 571.0,389.1 572.1,389.2 573.1,389.2 574.2,389.3 575.3,389.3 576.4,389.4 577.4,389.4 578.5,389.5 579.6,389.5 580.7,389.6 581.8,389.6 582.8,389.6 583.9,389.7 585.0,389.7 586.1,389.8 587.1,389.8 588.2,389.9 589.3,389.9 590.4,390.0 591.5,390.0 592.5,390.1 593.6,390.1 594.7,390.1 595.8,390.2 596.8,390.2 597.9,390.3 599.0,390.3 600.1,390.3 601.2,390.4 602.2,390.4 603.3,390.4 604.4,390.5 605.5,390.5 606.5,390.6 607.6,390.6 608.7,390.6 609.8,390.7 610.9,390.7 611.9,390.8 613.0,390.8 614.1,390.9 615.2,391.0 616.2,391.0 617.3,391.1 618.4,391.2 619.5,391.3 620.6,391.5 621.6,391.7 622.7,391.9 623.8,392.1 624.9,392.3 625.9,392.4 627.0,392.6 628.1,392.7 629.2,392.9 630.2,393.0 631.3,393.1 632.4,393.2 633.5,393.3 634.6,393.4 635.6,393.5 636.7,393.6 637.8,393.7 638.9,393.8 639.9,393.9 641.0,394.0 642.1,394.1 643.2,394.2 644.3,394.3 645.3,394.4 646.4,394.5 647.5,394.6 648.6,394.7 649.6,394.8 650.7,394.9 651.8,394.9 652.9,395.0 654.0,395.1 655.0,395.2 656.1,395.2 657.2,395.3 658.3,395.4 659.3,395.4 660.4,395.5 661.5,395.5 662.6,395.6 663.7,395.6 664.7,395.6 665.8,395.7 666.9,395.7 668.0,395.7 669.0,395.7 670.1,395.8 671.2,395.8" stroke="#800000" stroke-width="1.45" stroke-dasharray="1.7 3.17"/>
</g>
<g stroke="#000" stroke-width="1.4">
<line x1="72.00" y1="384.50" x2="78.50" y2="384.50"/>
<line x1="72.00" y1="321.84" x2="78.50" y2="321.84"/>
<line x1="72.00" y1="259.18" x2="78.50" y2="259.18"/>
<line x1="72.00" y1="196.52" x2="78.50" y2="196.52"/>
<line x1="72.00" y1="133.86" x2="78.50" y2="133.86"/>
<line x1="72.00" y1="71.20" x2="78.50" y2="71.20"/>
<line x1="72.00" y1="8.54" x2="78.50" y2="8.54"/>
<line x1="132.38" y1="390.60" x2="132.38" y2="397.10"/>
<line x1="240.15" y1="390.60" x2="240.15" y2="397.10"/>
<line x1="347.91" y1="390.60" x2="347.91" y2="397.10"/>
<line x1="455.67" y1="390.60" x2="455.67" y2="397.10"/>
<line x1="563.44" y1="390.60" x2="563.44" y2="397.10"/>
<line x1="671.20" y1="390.60" x2="671.20" y2="397.10"/>
</g>
<g fill="#000">
<text transform="translate(64.60,389.95) scale(0.99,1)" font-size="16.9" text-anchor="end">0.0</text>
<text transform="translate(64.60,327.29) scale(0.99,1)" font-size="16.9" text-anchor="end">0.1</text>
<text transform="translate(64.60,264.63) scale(0.99,1)" font-size="16.9" text-anchor="end">0.2</text>
<text transform="translate(64.60,201.97) scale(0.99,1)" font-size="16.9" text-anchor="end">0.3</text>
<text transform="translate(64.60,139.31) scale(0.99,1)" font-size="16.9" text-anchor="end">0.4</text>
<text transform="translate(64.60,76.65) scale(0.99,1)" font-size="16.9" text-anchor="end">0.5</text>
<text transform="translate(64.60,13.99) scale(0.99,1)" font-size="16.9" text-anchor="end">0.6</text>
<text transform="translate(132.38,419.20) scale(0.99,1)" font-size="16.9" text-anchor="middle">300</text>
<text transform="translate(240.15,419.20) scale(0.99,1)" font-size="16.9" text-anchor="middle">400</text>
<text transform="translate(347.91,419.20) scale(0.99,1)" font-size="16.9" text-anchor="middle">500</text>
<text transform="translate(455.67,419.20) scale(0.99,1)" font-size="16.9" text-anchor="middle">600</text>
<text transform="translate(563.44,419.20) scale(0.99,1)" font-size="16.9" text-anchor="middle">700</text>
<text transform="translate(671.20,419.20) scale(0.99,1)" font-size="16.9" text-anchor="middle">800</text>
</g>
<text transform="translate(22.60,199.40) rotate(-90) scale(0.9645,1)" font-size="20.5" text-anchor="middle">Absorbance</text>
<text transform="translate(374.90,455.00) scale(0.988,1)" font-size="20.3" text-anchor="middle">Wavelength (nm)</text>
<rect x="434.0" y="40.6" width="197.0" height="205.3" fill="#fff" stroke="#000" stroke-width="1.3"/>
<line x1="445.0" y1="61.10" x2="535.0" y2="61.10" stroke="#000000" stroke-width="1.4"/>
<text transform="translate(556.90,66.30) scale(1.012,1)" font-size="16.1" text-anchor="start">pH 6.00</text>
<line x1="445.0" y1="81.56" x2="535.0" y2="81.56" stroke="#f00000" stroke-width="1.45" stroke-dasharray="1.7 3.17"/>
<text transform="translate(556.90,86.76) scale(1.012,1)" font-size="16.1" text-anchor="start">pH 5.51</text>
<line x1="445.0" y1="102.02" x2="535.0" y2="102.02" stroke="#00ee00" stroke-width="1.45" stroke-dasharray="12 3.4"/>
<text transform="translate(556.90,107.22) scale(1.012,1)" font-size="16.1" text-anchor="start">pH 4.97</text>
<line x1="445.0" y1="122.48" x2="535.0" y2="122.48" stroke="#ffff00" stroke-width="1.45" stroke-dasharray="15.6 3.3 1.6 3.3 1.6 3.4"/>
<text transform="translate(556.90,127.68) scale(1.012,1)" font-size="16.1" text-anchor="start">pH 4.48</text>
<line x1="445.0" y1="142.94" x2="535.0" y2="142.94" stroke="#2030cc" stroke-width="1.45" stroke-dasharray="22.6 7 22.6 7 22.6 200"/>
<text transform="translate(556.90,148.14) scale(1.012,1)" font-size="16.1" text-anchor="start">pH 3.96</text>
<line x1="445.0" y1="163.40" x2="535.0" y2="163.40" stroke="#f000f0" stroke-width="1.45" stroke-dasharray="15.6 3.4 1.7 3.1"/>
<text transform="translate(556.90,168.60) scale(1.012,1)" font-size="16.1" text-anchor="start">pH 3.49</text>
<line x1="445.0" y1="183.86" x2="535.0" y2="183.86" stroke="#00e8e8" stroke-width="1.45" stroke-dasharray="17.5 5.1"/>
<text transform="translate(556.90,189.06) scale(1.012,1)" font-size="16.1" text-anchor="start">pH 3.00</text>
<line x1="445.0" y1="204.32" x2="535.0" y2="204.32" stroke="#b4b4b4" stroke-width="1.3"/>
<text transform="translate(556.90,209.52) scale(1.012,1)" font-size="16.1" text-anchor="start">pH 2.32</text>
<line x1="445.0" y1="224.78" x2="535.0" y2="224.78" stroke="#800000" stroke-width="1.45" stroke-dasharray="1.7 3.17"/>
<text transform="translate(556.90,229.98) scale(1.012,1)" font-size="16.1" text-anchor="start">pH 1.63</text>
<clipPath id="clipBot"><rect x="72.60" y="501.25" width="598.00" height="428.75"/></clipPath>
<rect x="73.40" y="502.05" width="596.40" height="427.15" fill="none" stroke="#000" stroke-width="1.4"/>
<g clip-path="url(#clipBot)" fill="none" stroke-linejoin="round">
<polyline points="73.4,516.6 74.5,527.4 75.6,537.9 76.7,548.4 77.7,558.6 78.8,568.8 79.9,578.8 81.0,588.7 82.1,598.4 83.2,608.1 84.2,617.8 85.3,627.4 86.4,636.3 87.5,644.0 88.6,650.8 89.7,657.1 90.7,663.1 91.8,668.8 92.9,674.2 94.0,679.2 95.1,683.7 96.2,687.7 97.3,691.4 98.3,694.9 99.4,698.0 100.5,700.9 101.6,703.4 102.7,705.7 103.8,707.9 104.8,709.9 105.9,711.9 107.0,713.9 108.1,716.0 109.2,718.2 110.3,720.5 111.4,722.8 112.4,725.1 113.5,727.4 114.6,729.8 115.7,732.2 116.8,734.7 117.9,737.2 118.9,739.8 120.0,742.4 121.1,745.1 122.2,747.9 123.3,750.8 124.4,753.8 125.4,756.9 126.5,760.1 127.6,763.4 128.7,766.8 129.8,770.1 130.9,773.4 132.0,776.7 133.0,780.0 134.1,783.4 135.2,786.8 136.3,790.4 137.4,794.1 138.5,798.0 139.5,801.9 140.6,805.9 141.7,810.1 142.8,814.5 143.9,819.0 145.0,824.2 146.1,829.8 147.1,835.6 148.2,841.1 149.3,846.1 150.4,850.3 151.5,854.2 152.6,857.8 153.6,861.3 154.7,864.6 155.8,867.9 156.9,871.3 158.0,874.6 159.1,877.7 160.1,880.7 161.2,883.4 162.3,885.8 163.4,888.2 164.5,890.4 165.6,892.5 166.7,894.4 167.7,896.1 168.8,897.6 169.9,898.8 171.0,899.9 172.1,900.9 173.2,901.8 174.2,902.6 175.3,903.2 176.4,903.6 177.5,904.0 178.6,904.4 179.7,904.8 180.8,905.0 181.8,905.2 182.9,905.4 184.0,905.4 185.1,905.4 186.2,905.3 187.3,905.2 188.3,905.1 189.4,905.0 190.5,904.8 191.6,904.6 192.7,904.4 193.8,904.2 194.8,904.0 195.9,903.8 197.0,903.6 198.1,903.4 199.2,903.3 200.3,903.1 201.4,902.8 202.4,902.6 203.5,902.4 204.6,902.1 205.7,901.9 206.8,901.6 207.9,901.3 208.9,901.1 210.0,900.8 211.1,900.5 212.2,900.3 213.3,900.0 214.4,899.8 215.5,899.5 216.5,899.3 217.6,899.0 218.7,898.8 219.8,898.5 220.9,898.2 222.0,897.9 223.0,897.7 224.1,897.4 225.2,897.2 226.3,896.9 227.4,896.7 228.5,896.6 229.5,896.4 230.6,896.3 231.7,896.3 232.8,896.2 233.9,896.2 235.0,896.3 236.1,896.3 237.1,896.4 238.2,896.4 239.3,896.5 240.4,896.6 241.5,896.7 242.6,896.8 243.6,897.0 244.7,897.1 245.8,897.2 246.9,897.4 248.0,897.5 249.1,897.7 250.2,897.8 251.2,898.0 252.3,898.1 253.4,898.3 254.5,898.4 255.6,898.6 256.7,898.9 257.7,899.1 258.8,899.3 259.9,899.6 261.0,899.9 262.1,900.2 263.2,900.5 264.2,900.7 265.3,901.0 266.4,901.3 267.5,901.6 268.6,901.9 269.7,902.2 270.8,902.5 271.8,902.7 272.9,903.0 274.0,903.2 275.1,903.4 276.2,903.6 277.3,903.8 278.3,904.0 279.4,904.2 280.5,904.4 281.6,904.7 282.7,904.9 283.8,905.0 284.9,905.2 285.9,905.4 287.0,905.6 288.1,905.8 289.2,905.9 290.3,906.1 291.4,906.3 292.4,906.4 293.5,906.5 294.6,906.6 295.7,906.7 296.8,906.8 297.9,906.9 298.9,907.0 300.0,907.1 301.1,907.2 302.2,907.3 303.3,907.4 304.4,907.5 305.5,907.6 306.5,907.6 307.6,907.7 308.7,907.7 309.8,907.8 310.9,907.8 312.0,907.8 313.0,907.8 314.1,907.8 315.2,907.7 316.3,907.7 317.4,907.6 318.5,907.6 319.6,907.5 320.6,907.4 321.7,907.3 322.8,907.2 323.9,907.1 325.0,907.0 326.1,906.9 327.1,906.8 328.2,906.7 329.3,906.6 330.4,906.5 331.5,906.4 332.6,906.3 333.6,906.1 334.7,906.0 335.8,905.8 336.9,905.6 338.0,905.5 339.1,905.3 340.2,905.1 341.2,904.9 342.3,904.7 343.4,904.5 344.5,904.3 345.6,904.2 346.7,904.0 347.7,903.8 348.8,903.6 349.9,903.4 351.0,903.2 352.1,903.0 353.2,902.8 354.3,902.6 355.3,902.4 356.4,902.2 357.5,902.0 358.6,901.8 359.7,901.6 360.8,901.4 361.8,901.2 362.9,901.0 364.0,900.8 365.1,900.7 366.2,900.5 367.3,900.3 368.3,900.2 369.4,900.0 370.5,899.8 371.6,899.6 372.7,899.5 373.8,899.3 374.9,899.2 375.9,899.0 377.0,898.9 378.1,898.8 379.2,898.7 380.3,898.7 381.4,898.6 382.4,898.6 383.5,898.6 384.6,898.6 385.7,898.6 386.8,898.6 387.9,898.6 388.9,898.6 390.0,898.6 391.1,898.6 392.2,898.6 393.3,898.6 394.4,898.6 395.5,898.6 396.5,898.6 397.6,898.6 398.7,898.6 399.8,898.6 400.9,898.6 402.0,898.6 403.0,898.6 404.1,898.6 405.2,898.6 406.3,898.6 407.4,898.7 408.5,898.7 409.6,898.8 410.6,898.9 411.7,899.0 412.8,899.1 413.9,899.2 415.0,899.3 416.1,899.5 417.1,899.6 418.2,899.8 419.3,899.9 420.4,900.1 421.5,900.3 422.6,900.4 423.6,900.6 424.7,900.8 425.8,900.9 426.9,901.1 428.0,901.2 429.1,901.4 430.2,901.6 431.2,901.8 432.3,902.0 433.4,902.2 434.5,902.4 435.6,902.6 436.7,902.8 437.7,903.0 438.8,903.2 439.9,903.4 441.0,903.6 442.1,903.8 443.2,904.0 444.3,904.2 445.3,904.4 446.4,904.6 447.5,904.8 448.6,904.9 449.7,905.1 450.8,905.3 451.8,905.5 452.9,905.7 454.0,905.9 455.1,906.1 456.2,906.3 457.3,906.4 458.3,906.6 459.4,906.8 460.5,907.0 461.6,907.2 462.7,907.4 463.8,907.5 464.9,907.7 465.9,907.9 467.0,908.1 468.1,908.2 469.2,908.4 470.3,908.6 471.4,908.8 472.4,908.9 473.5,909.1 474.6,909.3 475.7,909.4 476.8,909.6 477.9,909.7 479.0,909.9 480.0,910.0 481.1,910.2 482.2,910.3 483.3,910.4 484.4,910.5 485.5,910.6 486.5,910.7 487.6,910.9 488.7,911.0 489.8,911.1 490.9,911.2 492.0,911.3 493.0,911.4 494.1,911.5 495.2,911.6 496.3,911.7 497.4,911.8 498.5,911.9 499.6,912.0 500.6,912.1 501.7,912.2 502.8,912.3 503.9,912.3 505.0,912.4 506.1,912.5 507.1,912.6 508.2,912.7 509.3,912.8 510.4,912.9 511.5,913.0 512.6,913.1 513.7,913.2 514.7,913.3 515.8,913.4 516.9,913.4 518.0,913.5 519.1,913.6 520.2,913.6 521.2,913.7 522.3,913.7 523.4,913.8 524.5,913.8 525.6,913.9 526.7,913.9 527.7,914.0 528.8,914.0 529.9,914.0 531.0,914.1 532.1,914.1 533.2,914.1 534.3,914.2 535.3,914.2 536.4,914.3 537.5,914.3 538.6,914.3 539.7,914.4 540.8,914.4 541.8,914.4 542.9,914.4 544.0,914.5 545.1,914.5 546.2,914.5 547.3,914.6 548.4,914.6 549.4,914.6 550.5,914.7 551.6,914.7 552.7,914.7 553.8,914.7 554.9,914.8 555.9,914.8 557.0,914.8 558.1,914.9 559.2,914.9 560.3,914.9 561.4,915.0 562.4,915.0 563.5,915.0 564.6,915.1 565.7,915.1 566.8,915.1 567.9,915.2 569.0,915.2 570.0,915.2 571.1,915.3 572.2,915.3 573.3,915.4 574.4,915.4 575.5,915.4 576.5,915.5 577.6,915.5 578.7,915.5 579.8,915.6 580.9,915.6 582.0,915.6 583.1,915.7 584.1,915.7 585.2,915.7 586.3,915.8 587.4,915.8 588.5,915.8 589.6,915.9 590.6,915.9 591.7,915.9 592.8,916.0 593.9,916.0 595.0,916.0 596.1,916.0 597.1,916.1 598.2,916.1 599.3,916.1 600.4,916.1 601.5,916.2 602.6,916.2 603.7,916.2 604.7,916.2 605.8,916.2 606.9,916.3 608.0,916.3 609.1,916.3 610.2,916.3 611.2,916.3 612.3,916.4 613.4,916.4 614.5,916.4 615.6,916.4 616.7,916.4 617.8,916.5 618.8,916.5 619.9,916.5 621.0,916.5 622.1,916.5 623.2,916.5 624.3,916.6 625.3,916.6 626.4,916.6 627.5,916.6 628.6,916.6 629.7,916.7 630.8,916.7 631.8,916.7 632.9,916.7 634.0,916.7 635.1,916.7 636.2,916.8 637.3,916.8 638.4,916.8 639.4,916.8 640.5,916.8 641.6,916.8 642.7,916.8 643.8,916.9 644.9,916.9 645.9,916.9 647.0,916.9 648.1,916.9 649.2,916.9 650.3,916.9 651.4,916.9 652.5,916.9 653.5,917.0 654.6,917.0 655.7,917.0 656.8,917.0 657.9,917.0 659.0,917.0 660.0,917.0 661.1,917.0 662.2,917.0 663.3,917.0 664.4,917.0 665.5,917.0 666.5,917.0 667.6,917.0 668.7,917.0 669.8,917.0" stroke="#000000" stroke-width="1.4"/>
<polyline points="73.4,517.7 74.5,528.6 75.6,539.3 76.7,549.9 77.7,560.3 78.8,570.5 79.9,580.6 81.0,590.5 82.1,600.3 83.2,610.0 84.2,619.8 85.3,629.3 86.4,637.9 87.5,645.4 88.6,652.1 89.7,658.4 90.7,664.2 91.8,669.9 92.9,675.2 94.0,680.1 95.1,684.5 96.2,688.5 97.3,692.3 98.3,695.7 99.4,698.8 100.5,701.7 101.6,704.2 102.7,706.5 103.8,708.6 104.8,710.6 105.9,712.6 107.0,714.7 108.1,716.9 109.2,719.2 110.3,721.4 111.4,723.7 112.4,726.0 113.5,728.4 114.6,730.8 115.7,733.2 116.8,735.7 117.9,738.2 118.9,740.8 120.0,743.5 121.1,746.2 122.2,749.1 123.3,752.0 124.4,755.0 125.4,758.2 126.5,761.4 127.6,764.7 128.7,768.1 129.8,771.4 130.9,774.8 132.0,778.1 133.0,781.5 134.1,785.0 135.2,788.6 136.3,792.3 137.4,796.1 138.5,799.9 139.5,803.9 140.6,808.0 141.7,812.3 142.8,816.7 143.9,821.5 145.0,827.0 146.1,832.7 147.1,838.4 148.2,843.7 149.3,848.3 150.4,852.3 151.5,856.0 152.6,859.5 153.6,862.9 154.7,866.3 155.8,869.6 156.9,873.0 158.0,876.2 159.1,879.4 160.1,882.3 161.2,884.9 162.3,887.3 163.4,889.7 164.5,891.9 165.6,893.9 166.7,895.8 167.7,897.5 168.8,898.9 169.9,900.3 171.0,901.6 172.1,902.8 173.2,903.8 174.2,904.6 175.3,905.1 176.4,905.7 177.5,906.1 178.6,906.6 179.7,906.9 180.8,907.2 181.8,907.4 182.9,907.5 184.0,907.5 185.1,907.4 186.2,907.3 187.3,907.2 188.3,907.1 189.4,907.0 190.5,906.8 191.6,906.6 192.7,906.5 193.8,906.3 194.8,906.1 195.9,905.9 197.0,905.7 198.1,905.5 199.2,905.3 200.3,905.1 201.4,904.9 202.4,904.7 203.5,904.5 204.6,904.2 205.7,904.0 206.8,903.7 207.9,903.4 208.9,903.2 210.0,902.9 211.1,902.6 212.2,902.4 213.3,902.1 214.4,901.9 215.5,901.6 216.5,901.4 217.6,901.1 218.7,900.8 219.8,900.5 220.9,900.2 222.0,899.9 223.0,899.6 224.1,899.3 225.2,899.0 226.3,898.8 227.4,898.5 228.5,898.3 229.5,898.0 230.6,897.8 231.7,897.7 232.8,897.5 233.9,897.4 235.0,897.4 236.1,897.3 237.1,897.4 238.2,897.4 239.3,897.5 240.4,897.6 241.5,897.7 242.6,897.8 243.6,897.9 244.7,898.1 245.8,898.2 246.9,898.3 248.0,898.4 249.1,898.6 250.2,898.7 251.2,898.9 252.3,899.0 253.4,899.2 254.5,899.4 255.6,899.6 256.7,899.7 257.7,899.9 258.8,900.2 259.9,900.4 261.0,900.7 262.1,900.9 263.2,901.2 264.2,901.5 265.3,901.8 266.4,902.1 267.5,902.4 268.6,902.6 269.7,902.8 270.8,903.1 271.8,903.3 272.9,903.6 274.0,903.8 275.1,904.0 276.2,904.2 277.3,904.4 278.3,904.6 279.4,904.8 280.5,905.0 281.6,905.3 282.7,905.5 283.8,905.6 284.9,905.8 285.9,906.0 287.0,906.2 288.1,906.4 289.2,906.5 290.3,906.7 291.4,906.8 292.4,906.9 293.5,907.1 294.6,907.2 295.7,907.3 296.8,907.4 297.9,907.5 298.9,907.6 300.0,907.7 301.1,907.7 302.2,907.8 303.3,907.9 304.4,908.0 305.5,908.0 306.5,908.1 307.6,908.2 308.7,908.2 309.8,908.2 310.9,908.3 312.0,908.3 313.0,908.3 314.1,908.2 315.2,908.2 316.3,908.1 317.4,908.1 318.5,908.0 319.6,907.9 320.6,907.9 321.7,907.8 322.8,907.7 323.9,907.6 325.0,907.5 326.1,907.4 327.1,907.3 328.2,907.2 329.3,907.1 330.4,907.0 331.5,906.9 332.6,906.7 333.6,906.6 334.7,906.4 335.8,906.3 336.9,906.1 338.0,905.9 339.1,905.8 340.2,905.6 341.2,905.4 342.3,905.2 343.4,905.0 344.5,904.8 345.6,904.6 346.7,904.4 347.7,904.3 348.8,904.1 349.9,903.9 351.0,903.7 352.1,903.5 353.2,903.3 354.3,903.1 355.3,902.9 356.4,902.7 357.5,902.5 358.6,902.3 359.7,902.1 360.8,901.9 361.8,901.7 362.9,901.6 364.0,901.4 365.1,901.2 366.2,901.0 367.3,900.8 368.3,900.6 369.4,900.4 370.5,900.3 371.6,900.1 372.7,899.9 373.8,899.7 374.9,899.6 375.9,899.5 377.0,899.4 378.1,899.4 379.2,899.4 380.3,899.3 381.4,899.3 382.4,899.2 383.5,899.2 384.6,899.2 385.7,899.2 386.8,899.2 387.9,899.2 388.9,899.2 390.0,899.2 391.1,899.2 392.2,899.2 393.3,899.2 394.4,899.2 395.5,899.2 396.5,899.2 397.6,899.3 398.7,899.3 399.8,899.3 400.9,899.3 402.0,899.3 403.0,899.4 404.1,899.4 405.2,899.4 406.3,899.4 407.4,899.5 408.5,899.5 409.6,899.6 410.6,899.7 411.7,899.8 412.8,899.9 413.9,900.0 415.0,900.2 416.1,900.3 417.1,900.5 418.2,900.7 419.3,900.9 420.4,901.0 421.5,901.2 422.6,901.3 423.6,901.5 424.7,901.7 425.8,901.9 426.9,902.0 428.0,902.2 429.1,902.4 430.2,902.6 431.2,902.8 432.3,903.0 433.4,903.1 434.5,903.3 435.6,903.6 436.7,903.8 437.7,904.0 438.8,904.2 439.9,904.4 441.0,904.6 442.1,904.8 443.2,905.0 444.3,905.2 445.3,905.4 446.4,905.6 447.5,905.8 448.6,906.0 449.7,906.2 450.8,906.3 451.8,906.5 452.9,906.7 454.0,906.9 455.1,907.1 456.2,907.3 457.3,907.5 458.3,907.7 459.4,907.9 460.5,908.1 461.6,908.2 462.7,908.4 463.8,908.6 464.9,908.8 465.9,909.0 467.0,909.2 468.1,909.4 469.2,909.5 470.3,909.7 471.4,909.9 472.4,910.1 473.5,910.2 474.6,910.4 475.7,910.5 476.8,910.7 477.9,910.8 479.0,911.0 480.0,911.1 481.1,911.3 482.2,911.4 483.3,911.5 484.4,911.6 485.5,911.8 486.5,911.9 487.6,912.0 488.7,912.1 489.8,912.2 490.9,912.3 492.0,912.4 493.0,912.5 494.1,912.6 495.2,912.7 496.3,912.8 497.4,912.9 498.5,913.0 499.6,913.1 500.6,913.2 501.7,913.3 502.8,913.4 503.9,913.5 505.0,913.6 506.1,913.7 507.1,913.8 508.2,913.9 509.3,914.0 510.4,914.1 511.5,914.2 512.6,914.3 513.7,914.4 514.7,914.4 515.8,914.5 516.9,914.6 518.0,914.7 519.1,914.7 520.2,914.8 521.2,914.9 522.3,914.9 523.4,915.0 524.5,915.0 525.6,915.1 526.7,915.1 527.7,915.2 528.8,915.2 529.9,915.3 531.0,915.3 532.1,915.3 533.2,915.4 534.3,915.4 535.3,915.5 536.4,915.5 537.5,915.6 538.6,915.6 539.7,915.6 540.8,915.7 541.8,915.7 542.9,915.7 544.0,915.8 545.1,915.8 546.2,915.9 547.3,915.9 548.4,915.9 549.4,916.0 550.5,916.0 551.6,916.0 552.7,916.1 553.8,916.1 554.9,916.1 555.9,916.2 557.0,916.2 558.1,916.3 559.2,916.3 560.3,916.3 561.4,916.4 562.4,916.4 563.5,916.4 564.6,916.5 565.7,916.5 566.8,916.5 567.9,916.6 569.0,916.6 570.0,916.7 571.1,916.7 572.2,916.7 573.3,916.8 574.4,916.8 575.5,916.8 576.5,916.9 577.6,916.9 578.7,917.0 579.8,917.0 580.9,917.0 582.0,917.1 583.1,917.1 584.1,917.1 585.2,917.2 586.3,917.2 587.4,917.2 588.5,917.3 589.6,917.3 590.6,917.3 591.7,917.4 592.8,917.4 593.9,917.4 595.0,917.4 596.1,917.5 597.1,917.5 598.2,917.5 599.3,917.6 600.4,917.6 601.5,917.6 602.6,917.6 603.7,917.7 604.7,917.7 605.8,917.7 606.9,917.7 608.0,917.8 609.1,917.8 610.2,917.8 611.2,917.8 612.3,917.9 613.4,917.9 614.5,917.9 615.6,917.9 616.7,918.0 617.8,918.0 618.8,918.0 619.9,918.0 621.0,918.1 622.1,918.1 623.2,918.1 624.3,918.1 625.3,918.2 626.4,918.2 627.5,918.2 628.6,918.2 629.7,918.3 630.8,918.3 631.8,918.3 632.9,918.3 634.0,918.3 635.1,918.4 636.2,918.4 637.3,918.4 638.4,918.4 639.4,918.4 640.5,918.5 641.6,918.5 642.7,918.5 643.8,918.5 644.9,918.5 645.9,918.6 647.0,918.6 648.1,918.6 649.2,918.6 650.3,918.6 651.4,918.6 652.5,918.7 653.5,918.7 654.6,918.7 655.7,918.7 656.8,918.7 657.9,918.7 659.0,918.8 660.0,918.8 661.1,918.8 662.2,918.8 663.3,918.8 664.4,918.8 665.5,918.8 666.5,918.8 667.6,918.8 668.7,918.9 669.8,918.9" stroke="#e61414" stroke-width="1.4" stroke-dasharray="1.4 3.47"/>
<polyline points="73.4,527.0 74.5,539.2 75.6,551.0 76.7,562.4 77.7,573.4 78.8,584.1 79.9,594.3 81.0,604.2 82.1,613.6 83.2,622.5 84.2,631.0 85.3,639.4 86.4,648.2 87.5,656.8 88.6,664.2 89.7,670.2 90.7,675.4 91.8,680.1 92.9,684.6 94.0,688.9 95.1,693.0 96.2,696.9 97.3,700.5 98.3,703.9 99.4,707.1 100.5,710.2 101.6,713.2 102.7,716.0 103.8,718.8 104.8,721.6 105.9,724.2 107.0,726.8 108.1,729.4 109.2,731.9 110.3,734.4 111.4,736.9 112.4,739.4 113.5,741.7 114.6,744.1 115.7,746.5 116.8,748.9 117.9,751.4 118.9,754.1 120.0,757.0 121.1,759.9 122.2,762.9 123.3,765.8 124.4,768.7 125.4,771.4 126.5,773.8 127.6,776.1 128.7,778.3 129.8,780.5 130.9,782.7 132.0,785.1 133.0,787.7 134.1,790.7 135.2,794.0 136.3,797.7 137.4,801.7 138.5,806.0 139.5,810.4 140.6,814.9 141.7,819.5 142.8,824.4 143.9,829.7 145.0,835.0 146.1,840.3 147.1,845.2 148.2,849.6 149.3,853.6 150.4,857.5 151.5,861.2 152.6,864.9 153.6,868.5 154.7,872.1 155.8,875.7 156.9,879.2 158.0,882.3 159.1,885.1 160.1,887.7 161.2,890.2 162.3,892.5 163.4,894.6 164.5,896.5 165.6,898.2 166.7,899.7 167.7,901.2 168.8,902.5 169.9,903.7 171.0,904.7 172.1,905.6 173.2,906.3 174.2,907.0 175.3,907.6 176.4,908.2 177.5,908.7 178.6,909.0 179.7,909.1 180.8,909.1 181.8,909.1 182.9,909.0 184.0,908.9 185.1,908.8 186.2,908.6 187.3,908.5 188.3,908.3 189.4,908.1 190.5,907.9 191.6,907.7 192.7,907.4 193.8,907.2 194.8,907.0 195.9,906.7 197.0,906.5 198.1,906.3 199.2,906.1 200.3,905.8 201.4,905.6 202.4,905.3 203.5,905.0 204.6,904.7 205.7,904.4 206.8,904.1 207.9,903.8 208.9,903.5 210.0,903.2 211.1,902.9 212.2,902.6 213.3,902.3 214.4,902.1 215.5,901.8 216.5,901.6 217.6,901.4 218.7,901.1 219.8,900.9 220.9,900.6 222.0,900.4 223.0,900.1 224.1,899.9 225.2,899.7 226.3,899.5 227.4,899.3 228.5,899.1 229.5,898.9 230.6,898.7 231.7,898.6 232.8,898.5 233.9,898.4 235.0,898.4 236.1,898.4 237.1,898.4 238.2,898.4 239.3,898.5 240.4,898.6 241.5,898.7 242.6,898.8 243.6,899.0 244.7,899.1 245.8,899.2 246.9,899.3 248.0,899.5 249.1,899.6 250.2,899.7 251.2,899.9 252.3,900.0 253.4,900.2 254.5,900.4 255.6,900.5 256.7,900.7 257.7,900.9 258.8,901.1 259.9,901.3 261.0,901.6 262.1,901.9 263.2,902.1 264.2,902.4 265.3,902.7 266.4,903.0 267.5,903.2 268.6,903.5 269.7,903.7 270.8,903.9 271.8,904.2 272.9,904.4 274.0,904.6 275.1,904.8 276.2,905.0 277.3,905.2 278.3,905.4 279.4,905.6 280.5,905.8 281.6,906.0 282.7,906.2 283.8,906.4 284.9,906.6 285.9,906.8 287.0,907.0 288.1,907.2 289.2,907.3 290.3,907.5 291.4,907.6 292.4,907.7 293.5,907.8 294.6,908.0 295.7,908.1 296.8,908.2 297.9,908.3 298.9,908.4 300.0,908.5 301.1,908.5 302.2,908.6 303.3,908.7 304.4,908.8 305.5,908.8 306.5,908.9 307.6,908.9 308.7,909.0 309.8,909.0 310.9,909.0 312.0,909.1 313.0,909.0 314.1,909.0 315.2,909.0 316.3,908.9 317.4,908.9 318.5,908.8 319.6,908.7 320.6,908.7 321.7,908.6 322.8,908.5 323.9,908.4 325.0,908.4 326.1,908.3 327.1,908.2 328.2,908.1 329.3,908.0 330.4,907.8 331.5,907.7 332.6,907.6 333.6,907.5 334.7,907.3 335.8,907.2 336.9,907.0 338.0,906.9 339.1,906.7 340.2,906.5 341.2,906.3 342.3,906.1 343.4,906.0 344.5,905.8 345.6,905.6 346.7,905.4 347.7,905.2 348.8,905.0 349.9,904.8 351.0,904.6 352.1,904.4 353.2,904.2 354.3,904.0 355.3,903.8 356.4,903.6 357.5,903.4 358.6,903.2 359.7,903.0 360.8,902.8 361.8,902.6 362.9,902.5 364.0,902.3 365.1,902.1 366.2,901.9 367.3,901.7 368.3,901.5 369.4,901.3 370.5,901.1 371.6,900.9 372.7,900.8 373.8,900.6 374.9,900.5 375.9,900.3 377.0,900.3 378.1,900.2 379.2,900.2 380.3,900.1 381.4,900.1 382.4,900.0 383.5,900.0 384.6,900.0 385.7,900.0 386.8,899.9 387.9,899.9 388.9,899.9 390.0,900.0 391.1,900.0 392.2,900.0 393.3,900.0 394.4,900.1 395.5,900.1 396.5,900.1 397.6,900.2 398.7,900.2 399.8,900.2 400.9,900.3 402.0,900.3 403.0,900.4 404.1,900.4 405.2,900.5 406.3,900.6 407.4,900.6 408.5,900.7 409.6,900.8 410.6,900.9 411.7,901.0 412.8,901.2 413.9,901.3 415.0,901.5 416.1,901.7 417.1,901.9 418.2,902.1 419.3,902.2 420.4,902.4 421.5,902.6 422.6,902.8 423.6,903.0 424.7,903.1 425.8,903.3 426.9,903.5 428.0,903.7 429.1,903.9 430.2,904.1 431.2,904.3 432.3,904.5 433.4,904.7 434.5,904.9 435.6,905.1 436.7,905.3 437.7,905.5 438.8,905.8 439.9,906.0 441.0,906.2 442.1,906.4 443.2,906.6 444.3,906.8 445.3,907.0 446.4,907.2 447.5,907.4 448.6,907.6 449.7,907.8 450.8,907.9 451.8,908.1 452.9,908.3 454.0,908.5 455.1,908.7 456.2,908.9 457.3,909.1 458.3,909.3 459.4,909.5 460.5,909.7 461.6,909.9 462.7,910.0 463.8,910.2 464.9,910.4 465.9,910.6 467.0,910.8 468.1,911.0 469.2,911.2 470.3,911.3 471.4,911.5 472.4,911.7 473.5,911.8 474.6,912.0 475.7,912.1 476.8,912.3 477.9,912.4 479.0,912.6 480.0,912.7 481.1,912.8 482.2,913.0 483.3,913.1 484.4,913.2 485.5,913.3 486.5,913.4 487.6,913.5 488.7,913.7 489.8,913.8 490.9,913.9 492.0,914.0 493.0,914.1 494.1,914.2 495.2,914.2 496.3,914.3 497.4,914.4 498.5,914.5 499.6,914.6 500.6,914.7 501.7,914.8 502.8,914.9 503.9,915.0 505.0,915.1 506.1,915.2 507.1,915.3 508.2,915.4 509.3,915.5 510.4,915.6 511.5,915.6 512.6,915.7 513.7,915.8 514.7,915.9 515.8,916.0 516.9,916.0 518.0,916.1 519.1,916.2 520.2,916.2 521.2,916.3 522.3,916.4 523.4,916.4 524.5,916.5 525.6,916.5 526.7,916.6 527.7,916.6 528.8,916.7 529.9,916.7 531.0,916.8 532.1,916.8 533.2,916.9 534.3,916.9 535.3,916.9 536.4,917.0 537.5,917.0 538.6,917.1 539.7,917.1 540.8,917.2 541.8,917.2 542.9,917.2 544.0,917.3 545.1,917.3 546.2,917.3 547.3,917.4 548.4,917.4 549.4,917.5 550.5,917.5 551.6,917.5 552.7,917.6 553.8,917.6 554.9,917.7 555.9,917.7 557.0,917.7 558.1,917.8 559.2,917.8 560.3,917.8 561.4,917.9 562.4,917.9 563.5,918.0 564.6,918.0 565.7,918.0 566.8,918.1 567.9,918.1 569.0,918.2 570.0,918.2 571.1,918.2 572.2,918.3 573.3,918.3 574.4,918.3 575.5,918.4 576.5,918.4 577.6,918.5 578.7,918.5 579.8,918.5 580.9,918.6 582.0,918.6 583.1,918.6 584.1,918.7 585.2,918.7 586.3,918.8 587.4,918.8 588.5,918.8 589.6,918.9 590.6,918.9 591.7,918.9 592.8,919.0 593.9,919.0 595.0,919.0 596.1,919.1 597.1,919.1 598.2,919.1 599.3,919.1 600.4,919.2 601.5,919.2 602.6,919.2 603.7,919.3 604.7,919.3 605.8,919.3 606.9,919.4 608.0,919.4 609.1,919.4 610.2,919.5 611.2,919.5 612.3,919.5 613.4,919.6 614.5,919.6 615.6,919.6 616.7,919.7 617.8,919.7 618.8,919.7 619.9,919.8 621.0,919.8 622.1,919.8 623.2,919.9 624.3,919.9 625.3,919.9 626.4,920.0 627.5,920.0 628.6,920.0 629.7,920.1 630.8,920.1 631.8,920.1 632.9,920.1 634.0,920.2 635.1,920.2 636.2,920.2 637.3,920.3 638.4,920.3 639.4,920.3 640.5,920.3 641.6,920.4 642.7,920.4 643.8,920.4 644.9,920.4 645.9,920.5 647.0,920.5 648.1,920.5 649.2,920.5 650.3,920.6 651.4,920.6 652.5,920.6 653.5,920.6 654.6,920.7 655.7,920.7 656.8,920.7 657.9,920.7 659.0,920.8 660.0,920.8 661.1,920.8 662.2,920.8 663.3,920.8 664.4,920.9 665.5,920.9 666.5,920.9 667.6,920.9 668.7,920.9 669.8,921.0" stroke="#00ee00" stroke-width="1.45" stroke-dasharray="12 3.4"/>
<polyline points="73.4,542.6 74.5,555.7 75.6,568.1 76.7,579.9 77.7,590.9 78.8,601.2 79.9,610.7 81.0,619.0 82.1,626.7 83.2,634.8 84.2,644.4 85.3,656.1 86.4,665.8 87.5,672.9 88.6,679.0 89.7,685.1 90.7,691.1 91.8,696.9 92.9,702.6 94.0,708.3 95.1,713.8 96.2,718.8 97.3,723.5 98.3,728.0 99.4,732.1 100.5,735.9 101.6,739.4 102.7,742.5 103.8,745.4 104.8,748.3 105.9,751.3 107.0,754.5 108.1,757.9 109.2,761.3 110.3,764.7 111.4,767.9 112.4,770.8 113.5,773.5 114.6,776.0 115.7,778.3 116.8,780.5 117.9,782.7 118.9,785.0 120.0,787.4 121.1,790.1 122.2,793.0 123.3,796.1 124.4,799.4 125.4,802.7 126.5,806.2 127.6,809.7 128.7,813.2 129.8,816.6 130.9,819.9 132.0,823.2 133.0,826.6 134.1,830.0 135.2,833.4 136.3,836.7 137.4,839.9 138.5,843.0 139.5,845.9 140.6,848.6 141.7,851.1 142.8,853.4 143.9,855.7 145.0,857.9 146.1,860.2 147.1,862.6 148.2,865.1 149.3,867.9 150.4,871.0 151.5,874.2 152.6,877.5 153.6,880.7 154.7,883.7 155.8,886.5 156.9,889.2 158.0,891.9 159.1,894.3 160.1,896.7 161.2,898.8 162.3,901.0 163.4,903.1 164.5,905.0 165.6,906.6 166.7,907.8 167.7,908.7 168.8,909.7 169.9,910.6 171.0,911.4 172.1,912.1 173.2,912.8 174.2,913.4 175.3,913.8 176.4,914.1 177.5,914.2 178.6,914.2 179.7,914.2 180.8,914.2 181.8,914.1 182.9,914.0 184.0,914.0 185.1,913.9 186.2,913.8 187.3,913.6 188.3,913.5 189.4,913.4 190.5,913.3 191.6,913.1 192.7,913.0 193.8,912.8 194.8,912.6 195.9,912.4 197.0,912.1 198.1,911.8 199.2,911.5 200.3,911.2 201.4,910.8 202.4,910.5 203.5,910.1 204.6,909.7 205.7,909.3 206.8,908.9 207.9,908.5 208.9,908.1 210.0,907.7 211.1,907.3 212.2,906.9 213.3,906.6 214.4,906.3 215.5,906.0 216.5,905.6 217.6,905.3 218.7,904.9 219.8,904.6 220.9,904.2 222.0,903.8 223.0,903.5 224.1,903.1 225.2,902.8 226.3,902.4 227.4,902.1 228.5,901.8 229.5,901.5 230.6,901.3 231.7,901.1 232.8,900.9 233.9,900.8 235.0,900.7 236.1,900.7 237.1,900.7 238.2,900.8 239.3,900.8 240.4,900.9 241.5,901.0 242.6,901.1 243.6,901.2 244.7,901.3 245.8,901.4 246.9,901.5 248.0,901.6 249.1,901.7 250.2,901.9 251.2,902.0 252.3,902.1 253.4,902.3 254.5,902.4 255.6,902.6 256.7,902.7 257.7,902.9 258.8,903.1 259.9,903.3 261.0,903.5 262.1,903.8 263.2,904.0 264.2,904.2 265.3,904.5 266.4,904.7 267.5,905.0 268.6,905.2 269.7,905.4 270.8,905.6 271.8,905.8 272.9,906.0 274.0,906.2 275.1,906.4 276.2,906.6 277.3,906.8 278.3,907.0 279.4,907.2 280.5,907.4 281.6,907.6 282.7,907.7 283.8,907.9 284.9,908.1 285.9,908.3 287.0,908.5 288.1,908.6 289.2,908.8 290.3,908.9 291.4,909.0 292.4,909.2 293.5,909.3 294.6,909.4 295.7,909.5 296.8,909.6 297.9,909.7 298.9,909.8 300.0,909.9 301.1,909.9 302.2,910.0 303.3,910.1 304.4,910.1 305.5,910.2 306.5,910.3 307.6,910.3 308.7,910.4 309.8,910.4 310.9,910.4 312.0,910.4 313.0,910.4 314.1,910.4 315.2,910.3 316.3,910.3 317.4,910.2 318.5,910.2 319.6,910.1 320.6,910.0 321.7,910.0 322.8,909.9 323.9,909.8 325.0,909.7 326.1,909.6 327.1,909.6 328.2,909.5 329.3,909.3 330.4,909.2 331.5,909.1 332.6,909.0 333.6,908.9 334.7,908.8 335.8,908.6 336.9,908.5 338.0,908.3 339.1,908.1 340.2,908.0 341.2,907.8 342.3,907.6 343.4,907.4 344.5,907.2 345.6,907.1 346.7,906.9 347.7,906.7 348.8,906.5 349.9,906.3 351.0,906.1 352.1,905.9 353.2,905.7 354.3,905.5 355.3,905.3 356.4,905.1 357.5,904.9 358.6,904.7 359.7,904.5 360.8,904.3 361.8,904.1 362.9,903.9 364.0,903.7 365.1,903.5 366.2,903.3 367.3,903.1 368.3,902.9 369.4,902.7 370.5,902.5 371.6,902.3 372.7,902.2 373.8,902.0 374.9,901.8 375.9,901.7 377.0,901.6 378.1,901.6 379.2,901.5 380.3,901.5 381.4,901.4 382.4,901.4 383.5,901.3 384.6,901.3 385.7,901.3 386.8,901.3 387.9,901.2 388.9,901.3 390.0,901.3 391.1,901.3 392.2,901.4 393.3,901.4 394.4,901.5 395.5,901.6 396.5,901.6 397.6,901.7 398.7,901.8 399.8,901.9 400.9,901.9 402.0,902.0 403.0,902.1 404.1,902.2 405.2,902.3 406.3,902.4 407.4,902.6 408.5,902.7 409.6,902.8 410.6,903.0 411.7,903.1 412.8,903.3 413.9,903.5 415.0,903.7 416.1,903.9 417.1,904.1 418.2,904.3 419.3,904.5 420.4,904.7 421.5,904.9 422.6,905.1 423.6,905.3 424.7,905.5 425.8,905.8 426.9,906.0 428.0,906.2 429.1,906.4 430.2,906.6 431.2,906.8 432.3,907.0 433.4,907.2 434.5,907.4 435.6,907.7 436.7,907.9 437.7,908.1 438.8,908.3 439.9,908.5 441.0,908.7 442.1,908.9 443.2,909.1 444.3,909.3 445.3,909.5 446.4,909.6 447.5,909.8 448.6,910.0 449.7,910.1 450.8,910.3 451.8,910.5 452.9,910.7 454.0,910.8 455.1,911.0 456.2,911.2 457.3,911.3 458.3,911.5 459.4,911.7 460.5,911.9 461.6,912.0 462.7,912.2 463.8,912.4 464.9,912.5 465.9,912.7 467.0,912.8 468.1,913.0 469.2,913.2 470.3,913.3 471.4,913.5 472.4,913.6 473.5,913.8 474.6,913.9 475.7,914.0 476.8,914.1 477.9,914.3 479.0,914.4 480.0,914.5 481.1,914.6 482.2,914.7 483.3,914.8 484.4,914.9 485.5,915.0 486.5,915.1 487.6,915.2 488.7,915.2 489.8,915.3 490.9,915.4 492.0,915.5 493.0,915.5 494.1,915.6 495.2,915.7 496.3,915.8 497.4,915.8 498.5,915.9 499.6,916.0 500.6,916.1 501.7,916.1 502.8,916.2 503.9,916.3 505.0,916.3 506.1,916.4 507.1,916.5 508.2,916.5 509.3,916.6 510.4,916.7 511.5,916.7 512.6,916.8 513.7,916.9 514.7,916.9 515.8,917.0 516.9,917.1 518.0,917.1 519.1,917.2 520.2,917.2 521.2,917.3 522.3,917.3 523.4,917.3 524.5,917.4 525.6,917.4 526.7,917.5 527.7,917.5 528.8,917.6 529.9,917.6 531.0,917.6 532.1,917.7 533.2,917.7 534.3,917.7 535.3,917.8 536.4,917.8 537.5,917.8 538.6,917.9 539.7,917.9 540.8,917.9 541.8,918.0 542.9,918.0 544.0,918.0 545.1,918.1 546.2,918.1 547.3,918.1 548.4,918.1 549.4,918.2 550.5,918.2 551.6,918.2 552.7,918.2 553.8,918.3 554.9,918.3 555.9,918.3 557.0,918.3 558.1,918.4 559.2,918.4 560.3,918.4 561.4,918.5 562.4,918.5 563.5,918.5 564.6,918.6 565.7,918.6 566.8,918.7 567.9,918.7 569.0,918.8 570.0,918.8 571.1,918.9 572.2,918.9 573.3,919.0 574.4,919.0 575.5,919.1 576.5,919.1 577.6,919.1 578.7,919.2 579.8,919.2 580.9,919.3 582.0,919.3 583.1,919.4 584.1,919.4 585.2,919.4 586.3,919.5 587.4,919.5 588.5,919.6 589.6,919.6 590.6,919.6 591.7,919.7 592.8,919.7 593.9,919.8 595.0,919.8 596.1,919.8 597.1,919.9 598.2,919.9 599.3,920.0 600.4,920.0 601.5,920.0 602.6,920.1 603.7,920.1 604.7,920.1 605.8,920.2 606.9,920.2 608.0,920.3 609.1,920.3 610.2,920.4 611.2,920.4 612.3,920.4 613.4,920.5 614.5,920.5 615.6,920.6 616.7,920.6 617.8,920.7 618.8,920.7 619.9,920.7 621.0,920.8 622.1,920.8 623.2,920.9 624.3,920.9 625.3,921.0 626.4,921.0 627.5,921.0 628.6,921.1 629.7,921.1 630.8,921.2 631.8,921.2 632.9,921.2 634.0,921.3 635.1,921.3 636.2,921.3 637.3,921.4 638.4,921.4 639.4,921.5 640.5,921.5 641.6,921.5 642.7,921.6 643.8,921.6 644.9,921.6 645.9,921.7 647.0,921.7 648.1,921.7 649.2,921.8 650.3,921.8 651.4,921.8 652.5,921.9 653.5,921.9 654.6,921.9 655.7,922.0 656.8,922.0 657.9,922.0 659.0,922.1 660.0,922.1 661.1,922.1 662.2,922.2 663.3,922.2 664.4,922.2 665.5,922.3 666.5,922.3 667.6,922.3 668.7,922.4 669.8,922.4" stroke="#ffff00" stroke-width="1.45" stroke-dasharray="15.6 3.3 1.6 3.3 1.6 3.4"/>
<polyline points="73.4,548.0 74.5,560.0 75.6,571.7 76.7,583.3 77.7,594.8 78.8,606.1 79.9,617.3 81.0,628.3 82.1,639.2 83.2,650.4 84.2,661.2 85.3,670.6 86.4,679.1 87.5,687.4 88.6,695.6 89.7,703.0 90.7,709.5 91.8,715.7 92.9,721.7 94.0,727.4 95.1,732.9 96.2,737.8 97.3,742.3 98.3,746.5 99.4,750.7 100.5,755.0 101.6,759.2 102.7,763.5 103.8,767.9 104.8,772.5 105.9,777.5 107.0,782.6 108.1,787.6 109.2,792.5 110.3,797.3 111.4,802.2 112.4,806.9 113.5,811.5 114.6,815.8 115.7,819.7 116.8,823.5 117.9,827.1 118.9,830.5 120.0,833.8 121.1,837.0 122.2,840.1 123.3,843.0 124.4,845.9 125.4,848.6 126.5,851.2 127.6,853.7 128.7,856.0 129.8,858.3 130.9,860.6 132.0,862.9 133.0,865.2 134.1,867.6 135.2,870.1 136.3,872.7 137.4,875.2 138.5,877.7 139.5,880.1 140.6,882.4 141.7,884.5 142.8,886.4 143.9,888.3 145.0,890.1 146.1,891.8 147.1,893.5 148.2,895.0 149.3,896.6 150.4,898.1 151.5,899.5 152.6,901.0 153.6,902.5 154.7,903.9 155.8,905.3 156.9,906.6 158.0,907.8 159.1,908.9 160.1,909.9 161.2,910.7 162.3,911.5 163.4,912.2 164.5,913.0 165.6,913.7 166.7,914.3 167.7,914.9 168.8,915.3 169.9,915.7 171.0,916.0 172.1,916.2 173.2,916.3 174.2,916.4 175.3,916.4 176.4,916.5 177.5,916.5 178.6,916.6 179.7,916.6 180.8,916.7 181.8,916.7 182.9,916.7 184.0,916.7 185.1,916.7 186.2,916.7 187.3,916.6 188.3,916.5 189.4,916.3 190.5,916.0 191.6,915.7 192.7,915.4 193.8,915.0 194.8,914.6 195.9,914.3 197.0,913.9 198.1,913.5 199.2,913.2 200.3,912.9 201.4,912.5 202.4,912.1 203.5,911.7 204.6,911.3 205.7,910.9 206.8,910.5 207.9,910.1 208.9,909.7 210.0,909.3 211.1,908.9 212.2,908.5 213.3,908.2 214.4,907.8 215.5,907.5 216.5,907.2 217.6,906.9 218.7,906.5 219.8,906.2 220.9,905.9 222.0,905.5 223.0,905.2 224.1,904.9 225.2,904.6 226.3,904.3 227.4,904.0 228.5,903.7 229.5,903.5 230.6,903.3 231.7,903.1 232.8,903.0 233.9,902.9 235.0,902.8 236.1,902.8 237.1,902.8 238.2,902.8 239.3,902.9 240.4,903.0 241.5,903.0 242.6,903.1 243.6,903.2 244.7,903.3 245.8,903.4 246.9,903.5 248.0,903.6 249.1,903.7 250.2,903.9 251.2,904.0 252.3,904.1 253.4,904.2 254.5,904.4 255.6,904.5 256.7,904.7 257.7,904.8 258.8,905.0 259.9,905.2 261.0,905.4 262.1,905.6 263.2,905.8 264.2,906.0 265.3,906.2 266.4,906.4 267.5,906.6 268.6,906.8 269.7,907.0 270.8,907.2 271.8,907.4 272.9,907.6 274.0,907.8 275.1,908.0 276.2,908.2 277.3,908.3 278.3,908.5 279.4,908.7 280.5,908.9 281.6,909.1 282.7,909.3 283.8,909.4 284.9,909.6 285.9,909.8 287.0,910.0 288.1,910.1 289.2,910.3 290.3,910.4 291.4,910.6 292.4,910.7 293.5,910.8 294.6,910.9 295.7,911.0 296.8,911.1 297.9,911.2 298.9,911.3 300.0,911.4 301.1,911.4 302.2,911.5 303.3,911.6 304.4,911.6 305.5,911.7 306.5,911.7 307.6,911.8 308.7,911.8 309.8,911.9 310.9,911.9 312.0,911.9 313.0,911.9 314.1,911.9 315.2,911.8 316.3,911.8 317.4,911.7 318.5,911.7 319.6,911.6 320.6,911.5 321.7,911.5 322.8,911.4 323.9,911.3 325.0,911.3 326.1,911.2 327.1,911.1 328.2,911.0 329.3,910.9 330.4,910.8 331.5,910.7 332.6,910.6 333.6,910.5 334.7,910.4 335.8,910.3 336.9,910.1 338.0,910.0 339.1,909.8 340.2,909.7 341.2,909.5 342.3,909.3 343.4,909.2 344.5,909.0 345.6,908.8 346.7,908.6 347.7,908.5 348.8,908.3 349.9,908.1 351.0,907.9 352.1,907.7 353.2,907.5 354.3,907.3 355.3,907.1 356.4,906.9 357.5,906.7 358.6,906.5 359.7,906.3 360.8,906.1 361.8,905.9 362.9,905.7 364.0,905.5 365.1,905.3 366.2,905.1 367.3,904.9 368.3,904.7 369.4,904.5 370.5,904.3 371.6,904.1 372.7,904.0 373.8,903.8 374.9,903.6 375.9,903.5 377.0,903.4 378.1,903.4 379.2,903.3 380.3,903.2 381.4,903.2 382.4,903.1 383.5,903.1 384.6,903.0 385.7,903.0 386.8,903.0 387.9,903.0 388.9,903.0 390.0,903.0 391.1,903.1 392.2,903.2 393.3,903.2 394.4,903.3 395.5,903.4 396.5,903.5 397.6,903.6 398.7,903.7 399.8,903.8 400.9,903.9 402.0,904.1 403.0,904.2 404.1,904.3 405.2,904.5 406.3,904.6 407.4,904.7 408.5,904.9 409.6,905.1 410.6,905.2 411.7,905.4 412.8,905.6 413.9,905.8 415.0,906.0 416.1,906.3 417.1,906.5 418.2,906.7 419.3,906.9 420.4,907.1 421.5,907.3 422.6,907.5 423.6,907.7 424.7,908.0 425.8,908.2 426.9,908.4 428.0,908.6 429.1,908.8 430.2,909.0 431.2,909.2 432.3,909.4 433.4,909.6 434.5,909.8 435.6,910.0 436.7,910.2 437.7,910.4 438.8,910.7 439.9,910.9 441.0,911.1 442.1,911.3 443.2,911.5 444.3,911.6 445.3,911.8 446.4,912.0 447.5,912.2 448.6,912.4 449.7,912.6 450.8,912.7 451.8,912.9 452.9,913.1 454.0,913.3 455.1,913.5 456.2,913.7 457.3,913.9 458.3,914.1 459.4,914.2 460.5,914.4 461.6,914.6 462.7,914.8 463.8,915.0 464.9,915.1 465.9,915.3 467.0,915.5 468.1,915.7 469.2,915.8 470.3,916.0 471.4,916.2 472.4,916.3 473.5,916.5 474.6,916.6 475.7,916.7 476.8,916.8 477.9,917.0 479.0,917.1 480.0,917.2 481.1,917.3 482.2,917.4 483.3,917.5 484.4,917.6 485.5,917.7 486.5,917.8 487.6,917.9 488.7,918.0 489.8,918.1 490.9,918.2 492.0,918.2 493.0,918.3 494.1,918.4 495.2,918.5 496.3,918.6 497.4,918.6 498.5,918.7 499.6,918.8 500.6,918.9 501.7,918.9 502.8,919.0 503.9,919.1 505.0,919.2 506.1,919.2 507.1,919.3 508.2,919.4 509.3,919.4 510.4,919.5 511.5,919.6 512.6,919.6 513.7,919.7 514.7,919.8 515.8,919.8 516.9,919.9 518.0,920.0 519.1,920.0 520.2,920.1 521.2,920.1 522.3,920.2 523.4,920.2 524.5,920.3 525.6,920.3 526.7,920.4 527.7,920.4 528.8,920.5 529.9,920.5 531.0,920.6 532.1,920.6 533.2,920.6 534.3,920.7 535.3,920.7 536.4,920.8 537.5,920.8 538.6,920.9 539.7,920.9 540.8,920.9 541.8,921.0 542.9,921.0 544.0,921.1 545.1,921.1 546.2,921.1 547.3,921.2 548.4,921.2 549.4,921.2 550.5,921.3 551.6,921.3 552.7,921.3 553.8,921.4 554.9,921.4 555.9,921.4 557.0,921.5 558.1,921.5 559.2,921.5 560.3,921.6 561.4,921.6 562.4,921.6 563.5,921.7 564.6,921.7 565.7,921.7 566.8,921.8 567.9,921.8 569.0,921.8 570.0,921.9 571.1,921.9 572.2,921.9 573.3,922.0 574.4,922.0 575.5,922.0 576.5,922.1 577.6,922.1 578.7,922.1 579.8,922.2 580.9,922.2 582.0,922.2 583.1,922.3 584.1,922.3 585.2,922.3 586.3,922.3 587.4,922.4 588.5,922.4 589.6,922.4 590.6,922.5 591.7,922.5 592.8,922.5 593.9,922.5 595.0,922.6 596.1,922.6 597.1,922.6 598.2,922.7 599.3,922.7 600.4,922.7 601.5,922.8 602.6,922.8 603.7,922.8 604.7,922.9 605.8,922.9 606.9,922.9 608.0,923.0 609.1,923.0 610.2,923.1 611.2,923.1 612.3,923.1 613.4,923.2 614.5,923.2 615.6,923.3 616.7,923.3 617.8,923.3 618.8,923.4 619.9,923.4 621.0,923.5 622.1,923.5 623.2,923.5 624.3,923.6 625.3,923.6 626.4,923.7 627.5,923.7 628.6,923.7 629.7,923.8 630.8,923.8 631.8,923.8 632.9,923.9 634.0,923.9 635.1,923.9 636.2,924.0 637.3,924.0 638.4,924.0 639.4,924.1 640.5,924.1 641.6,924.1 642.7,924.2 643.8,924.2 644.9,924.2 645.9,924.3 647.0,924.3 648.1,924.3 649.2,924.3 650.3,924.4 651.4,924.4 652.5,924.4 653.5,924.5 654.6,924.5 655.7,924.5 656.8,924.5 657.9,924.6 659.0,924.6 660.0,924.6 661.1,924.7 662.2,924.7 663.3,924.7 664.4,924.7 665.5,924.8 666.5,924.8 667.6,924.8 668.7,924.8 669.8,924.9" stroke="#0c0cf0" stroke-width="1.45" stroke-dasharray="22.6 7"/>
<polyline points="73.4,569.7 74.5,580.4 75.6,590.9 76.7,601.1 77.7,610.9 78.8,619.8 79.9,628.8 81.0,639.1 82.1,652.9 83.2,666.6 84.2,677.3 85.3,687.1 86.4,696.4 87.5,705.2 88.6,713.6 89.7,721.7 90.7,729.6 91.8,736.6 92.9,742.3 94.0,747.4 95.1,752.5 96.2,757.8 97.3,763.0 98.3,768.2 99.4,773.0 100.5,777.8 101.6,782.4 102.7,786.7 103.8,790.9 104.8,794.7 105.9,798.4 107.0,801.9 108.1,805.3 109.2,808.7 110.3,812.1 111.4,815.7 112.4,819.3 113.5,823.1 114.6,827.0 115.7,831.0 116.8,834.9 117.9,838.9 118.9,842.8 120.0,846.6 121.1,850.4 122.2,854.1 123.3,857.8 124.4,861.4 125.4,864.9 126.5,868.3 127.6,871.7 128.7,875.0 129.8,878.2 130.9,881.2 132.0,883.9 133.0,886.3 134.1,888.6 135.2,890.8 136.3,892.9 137.4,894.9 138.5,896.8 139.5,898.6 140.6,900.2 141.7,901.7 142.8,903.1 143.9,904.4 145.0,905.7 146.1,906.9 147.1,908.0 148.2,909.1 149.3,910.1 150.4,911.1 151.5,912.0 152.6,912.8 153.6,913.5 154.7,914.2 155.8,915.0 156.9,915.7 158.0,916.3 159.1,916.9 160.1,917.5 161.2,918.0 162.3,918.4 163.4,918.8 164.5,919.0 165.6,919.1 166.7,919.3 167.7,919.4 168.8,919.5 169.9,919.6 171.0,919.7 172.1,919.8 173.2,919.9 174.2,919.9 175.3,920.0 176.4,920.0 177.5,919.9 178.6,919.8 179.7,919.7 180.8,919.6 181.8,919.4 182.9,919.1 184.0,918.9 185.1,918.7 186.2,918.4 187.3,918.1 188.3,917.9 189.4,917.6 190.5,917.3 191.6,917.1 192.7,916.8 193.8,916.6 194.8,916.3 195.9,916.0 197.0,915.7 198.1,915.4 199.2,915.0 200.3,914.7 201.4,914.4 202.4,914.0 203.5,913.7 204.6,913.3 205.7,913.0 206.8,912.6 207.9,912.3 208.9,911.9 210.0,911.5 211.1,911.2 212.2,910.8 213.3,910.5 214.4,910.1 215.5,909.8 216.5,909.4 217.6,909.0 218.7,908.6 219.8,908.1 220.9,907.7 222.0,907.2 223.0,906.7 224.1,906.2 225.2,905.8 226.3,905.3 227.4,904.9 228.5,904.5 229.5,904.2 230.6,903.8 231.7,903.6 232.8,903.3 233.9,903.2 235.0,903.1 236.1,903.0 237.1,903.0 238.2,903.1 239.3,903.1 240.4,903.2 241.5,903.3 242.6,903.4 243.6,903.5 244.7,903.6 245.8,903.7 246.9,903.9 248.0,904.0 249.1,904.1 250.2,904.2 251.2,904.3 252.3,904.4 253.4,904.6 254.5,904.7 255.6,904.9 256.7,905.0 257.7,905.2 258.8,905.3 259.9,905.5 261.0,905.7 262.1,905.9 263.2,906.1 264.2,906.4 265.3,906.6 266.4,906.8 267.5,907.0 268.6,907.2 269.7,907.4 270.8,907.6 271.8,907.8 272.9,908.0 274.0,908.2 275.1,908.3 276.2,908.5 277.3,908.7 278.3,908.9 279.4,909.1 280.5,909.3 281.6,909.5 282.7,909.6 283.8,909.8 284.9,910.0 285.9,910.2 287.0,910.4 288.1,910.6 289.2,910.7 290.3,910.8 291.4,911.0 292.4,911.1 293.5,911.2 294.6,911.3 295.7,911.4 296.8,911.5 297.9,911.6 298.9,911.7 300.0,911.8 301.1,911.9 302.2,912.0 303.3,912.0 304.4,912.1 305.5,912.2 306.5,912.2 307.6,912.3 308.7,912.3 309.8,912.4 310.9,912.4 312.0,912.4 313.0,912.4 314.1,912.4 315.2,912.3 316.3,912.3 317.4,912.2 318.5,912.2 319.6,912.1 320.6,912.1 321.7,912.0 322.8,912.0 323.9,911.9 325.0,911.8 326.1,911.8 327.1,911.7 328.2,911.6 329.3,911.5 330.4,911.4 331.5,911.4 332.6,911.3 333.6,911.2 334.7,911.0 335.8,910.9 336.9,910.8 338.0,910.7 339.1,910.5 340.2,910.4 341.2,910.2 342.3,910.0 343.4,909.9 344.5,909.7 345.6,909.5 346.7,909.4 347.7,909.2 348.8,909.0 349.9,908.8 351.0,908.6 352.1,908.4 353.2,908.2 354.3,908.0 355.3,907.8 356.4,907.6 357.5,907.4 358.6,907.3 359.7,907.1 360.8,906.9 361.8,906.7 362.9,906.5 364.0,906.3 365.1,906.1 366.2,905.9 367.3,905.7 368.3,905.5 369.4,905.4 370.5,905.2 371.6,905.0 372.7,904.8 373.8,904.6 374.9,904.5 375.9,904.4 377.0,904.3 378.1,904.2 379.2,904.2 380.3,904.1 381.4,904.0 382.4,904.0 383.5,904.0 384.6,903.9 385.7,903.9 386.8,903.9 387.9,903.9 388.9,903.9 390.0,903.9 391.1,904.0 392.2,904.1 393.3,904.1 394.4,904.3 395.5,904.4 396.5,904.5 397.6,904.6 398.7,904.7 399.8,904.8 400.9,904.9 402.0,905.1 403.0,905.2 404.1,905.4 405.2,905.5 406.3,905.7 407.4,905.8 408.5,906.0 409.6,906.2 410.6,906.4 411.7,906.6 412.8,906.8 413.9,907.0 415.0,907.2 416.1,907.4 417.1,907.7 418.2,907.9 419.3,908.1 420.4,908.3 421.5,908.5 422.6,908.7 423.6,908.9 424.7,909.2 425.8,909.4 426.9,909.6 428.0,909.8 429.1,910.0 430.2,910.2 431.2,910.4 432.3,910.6 433.4,910.8 434.5,911.0 435.6,911.2 436.7,911.4 437.7,911.6 438.8,911.8 439.9,912.0 441.0,912.2 442.1,912.4 443.2,912.6 444.3,912.8 445.3,913.0 446.4,913.2 447.5,913.4 448.6,913.6 449.7,913.8 450.8,914.0 451.8,914.2 452.9,914.4 454.0,914.5 455.1,914.7 456.2,914.9 457.3,915.1 458.3,915.3 459.4,915.5 460.5,915.7 461.6,915.9 462.7,916.1 463.8,916.3 464.9,916.4 465.9,916.6 467.0,916.8 468.1,917.0 469.2,917.2 470.3,917.3 471.4,917.5 472.4,917.7 473.5,917.8 474.6,917.9 475.7,918.1 476.8,918.2 477.9,918.3 479.0,918.5 480.0,918.6 481.1,918.7 482.2,918.8 483.3,918.9 484.4,919.0 485.5,919.1 486.5,919.2 487.6,919.3 488.7,919.4 489.8,919.5 490.9,919.6 492.0,919.6 493.0,919.7 494.1,919.8 495.2,919.9 496.3,920.0 497.4,920.1 498.5,920.1 499.6,920.2 500.6,920.3 501.7,920.4 502.8,920.4 503.9,920.5 505.0,920.6 506.1,920.7 507.1,920.7 508.2,920.8 509.3,920.9 510.4,920.9 511.5,921.0 512.6,921.1 513.7,921.1 514.7,921.2 515.8,921.3 516.9,921.3 518.0,921.4 519.1,921.5 520.2,921.5 521.2,921.6 522.3,921.6 523.4,921.7 524.5,921.8 525.6,921.8 526.7,921.9 527.7,921.9 528.8,922.0 529.9,922.0 531.0,922.1 532.1,922.1 533.2,922.2 534.3,922.2 535.3,922.3 536.4,922.3 537.5,922.4 538.6,922.4 539.7,922.5 540.8,922.5 541.8,922.6 542.9,922.6 544.0,922.7 545.1,922.7 546.2,922.8 547.3,922.8 548.4,922.9 549.4,922.9 550.5,923.0 551.6,923.0 552.7,923.0 553.8,923.1 554.9,923.1 555.9,923.2 557.0,923.2 558.1,923.3 559.2,923.3 560.3,923.3 561.4,923.4 562.4,923.4 563.5,923.4 564.6,923.4 565.7,923.5 566.8,923.5 567.9,923.5 569.0,923.5 570.0,923.6 571.1,923.6 572.2,923.6 573.3,923.6 574.4,923.6 575.5,923.7 576.5,923.7 577.6,923.7 578.7,923.7 579.8,923.7 580.9,923.8 582.0,923.8 583.1,923.8 584.1,923.8 585.2,923.8 586.3,923.9 587.4,923.9 588.5,923.9 589.6,923.9 590.6,923.9 591.7,924.0 592.8,924.0 593.9,924.0 595.0,924.0 596.1,924.1 597.1,924.1 598.2,924.1 599.3,924.1 600.4,924.2 601.5,924.2 602.6,924.2 603.7,924.2 604.7,924.3 605.8,924.3 606.9,924.3 608.0,924.4 609.1,924.4 610.2,924.4 611.2,924.5 612.3,924.5 613.4,924.5 614.5,924.6 615.6,924.6 616.7,924.6 617.8,924.7 618.8,924.7 619.9,924.8 621.0,924.8 622.1,924.8 623.2,924.9 624.3,924.9 625.3,924.9 626.4,925.0 627.5,925.0 628.6,925.0 629.7,925.0 630.8,925.1 631.8,925.1 632.9,925.1 634.0,925.2 635.1,925.2 636.2,925.2 637.3,925.2 638.4,925.3 639.4,925.3 640.5,925.3 641.6,925.3 642.7,925.4 643.8,925.4 644.9,925.4 645.9,925.4 647.0,925.5 648.1,925.5 649.2,925.5 650.3,925.5 651.4,925.6 652.5,925.6 653.5,925.6 654.6,925.6 655.7,925.6 656.8,925.7 657.9,925.7 659.0,925.7 660.0,925.7 661.1,925.7 662.2,925.8 663.3,925.8 664.4,925.8 665.5,925.8 666.5,925.8 667.6,925.9 668.7,925.9 669.8,925.9" stroke="#f000f0" stroke-width="1.45" stroke-dasharray="15.6 3.4 1.7 3.1"/>
<polyline points="73.4,553.0 74.5,571.5 75.6,588.2 76.7,602.4 77.7,613.7 78.8,622.5 79.9,631.1 81.0,641.5 82.1,655.9 83.2,668.9 84.2,679.3 85.3,689.0 86.4,698.2 87.5,706.9 88.6,715.3 89.7,723.4 90.7,731.1 91.8,737.8 92.9,743.3 94.0,748.4 95.1,753.5 96.2,758.8 97.3,764.0 98.3,769.1 99.4,774.1 100.5,779.0 101.6,783.8 102.7,788.6 103.8,793.4 104.8,798.3 105.9,803.2 107.0,807.9 108.1,812.5 109.2,816.9 110.3,821.0 111.4,824.9 112.4,828.7 113.5,832.3 114.6,835.8 115.7,839.3 116.8,842.7 117.9,846.0 118.9,849.3 120.0,852.5 121.1,855.6 122.2,858.6 123.3,861.6 124.4,864.7 125.4,867.9 126.5,871.2 127.6,874.7 128.7,878.1 129.8,881.2 130.9,883.8 132.0,885.9 133.0,887.7 134.1,889.3 135.2,890.8 136.3,892.2 137.4,893.5 138.5,894.7 139.5,895.9 140.6,897.0 141.7,898.1 142.8,899.2 143.9,900.2 145.0,901.2 146.1,902.1 147.1,903.0 148.2,903.8 149.3,904.5 150.4,905.2 151.5,905.8 152.6,906.3 153.6,906.8 154.7,907.3 155.8,907.8 156.9,908.3 158.0,908.7 159.1,909.1 160.1,909.5 161.2,909.8 162.3,910.0 163.4,910.3 164.5,910.5 165.6,910.6 166.7,910.7 167.7,910.9 168.8,911.0 169.9,911.1 171.0,911.2 172.1,911.3 173.2,911.3 174.2,911.4 175.3,911.4 176.4,911.4 177.5,911.4 178.6,911.3 179.7,911.2 180.8,911.0 181.8,910.8 182.9,910.6 184.0,910.3 185.1,910.1 186.2,909.8 187.3,909.6 188.3,909.3 189.4,909.0 190.5,908.8 191.6,908.5 192.7,908.3 193.8,908.1 194.8,907.8 195.9,907.6 197.0,907.3 198.1,907.1 199.2,906.8 200.3,906.5 201.4,906.2 202.4,906.0 203.5,905.7 204.6,905.4 205.7,905.1 206.8,904.9 207.9,904.6 208.9,904.3 210.0,904.1 211.1,903.8 212.2,903.5 213.3,903.3 214.4,903.0 215.5,902.8 216.5,902.5 217.6,902.2 218.7,902.0 219.8,901.7 220.9,901.4 222.0,901.1 223.0,900.8 224.1,900.6 225.2,900.3 226.3,900.0 227.4,899.8 228.5,899.5 229.5,899.3 230.6,899.1 231.7,898.9 232.8,898.7 233.9,898.6 235.0,898.5 236.1,898.4 237.1,898.3 238.2,898.2 239.3,898.1 240.4,898.1 241.5,898.0 242.6,898.0 243.6,897.9 244.7,897.9 245.8,897.9 246.9,897.9 248.0,897.9 249.1,897.9 250.2,897.9 251.2,897.9 252.3,898.0 253.4,898.0 254.5,898.0 255.6,898.1 256.7,898.1 257.7,898.2 258.8,898.3 259.9,898.5 261.0,898.7 262.1,899.0 263.2,899.4 264.2,899.8 265.3,900.1 266.4,900.5 267.5,900.8 268.6,901.1 269.7,901.4 270.8,901.6 271.8,901.9 272.9,902.1 274.0,902.4 275.1,902.6 276.2,902.9 277.3,903.1 278.3,903.3 279.4,903.5 280.5,903.7 281.6,903.9 282.7,904.2 283.8,904.4 284.9,904.6 285.9,904.7 287.0,904.9 288.1,905.1 289.2,905.3 290.3,905.4 291.4,905.6 292.4,905.7 293.5,905.8 294.6,905.9 295.7,906.0 296.8,906.2 297.9,906.3 298.9,906.4 300.0,906.5 301.1,906.6 302.2,906.7 303.3,906.8 304.4,906.9 305.5,907.0 306.5,907.1 307.6,907.2 308.7,907.2 309.8,907.3 310.9,907.3 312.0,907.3 313.0,907.3 314.1,907.3 315.2,907.3 316.3,907.3 317.4,907.3 318.5,907.3 319.6,907.3 320.6,907.3 321.7,907.2 322.8,907.2 323.9,907.2 325.0,907.2 326.1,907.1 327.1,907.1 328.2,907.0 329.3,906.9 330.4,906.9 331.5,906.8 332.6,906.7 333.6,906.6 334.7,906.6 335.8,906.5 336.9,906.4 338.0,906.3 339.1,906.1 340.2,906.0 341.2,905.9 342.3,905.7 343.4,905.6 344.5,905.5 345.6,905.3 346.7,905.2 347.7,905.0 348.8,904.8 349.9,904.6 351.0,904.5 352.1,904.3 353.2,904.1 354.3,903.9 355.3,903.7 356.4,903.5 357.5,903.4 358.6,903.2 359.7,903.0 360.8,902.8 361.8,902.6 362.9,902.5 364.0,902.3 365.1,902.1 366.2,902.0 367.3,901.8 368.3,901.6 369.4,901.4 370.5,901.3 371.6,901.1 372.7,900.9 373.8,900.8 374.9,900.7 375.9,900.6 377.0,900.5 378.1,900.5 379.2,900.5 380.3,900.5 381.4,900.4 382.4,900.4 383.5,900.4 384.6,900.4 385.7,900.4 386.8,900.4 387.9,900.4 388.9,900.4 390.0,900.4 391.1,900.5 392.2,900.6 393.3,900.7 394.4,900.8 395.5,900.9 396.5,901.1 397.6,901.2 398.7,901.3 399.8,901.4 400.9,901.6 402.0,901.7 403.0,901.8 404.1,902.0 405.2,902.2 406.3,902.3 407.4,902.5 408.5,902.7 409.6,902.9 410.6,903.1 411.7,903.3 412.8,903.5 413.9,903.8 415.0,904.1 416.1,904.3 417.1,904.6 418.2,904.9 419.3,905.2 420.4,905.5 421.5,905.7 422.6,906.0 423.6,906.3 424.7,906.5 425.8,906.8 426.9,907.1 428.0,907.4 429.1,907.7 430.2,907.9 431.2,908.2 432.3,908.5 433.4,908.8 434.5,909.0 435.6,909.3 436.7,909.6 437.7,909.9 438.8,910.1 439.9,910.4 441.0,910.6 442.1,910.9 443.2,911.1 444.3,911.3 445.3,911.5 446.4,911.7 447.5,911.9 448.6,912.0 449.7,912.2 450.8,912.4 451.8,912.6 452.9,912.8 454.0,913.0 455.1,913.2 456.2,913.3 457.3,913.5 458.3,913.7 459.4,913.9 460.5,914.1 461.6,914.3 462.7,914.5 463.8,914.7 464.9,914.8 465.9,915.0 467.0,915.2 468.1,915.4 469.2,915.5 470.3,915.7 471.4,915.9 472.4,916.0 473.5,916.2 474.6,916.3 475.7,916.5 476.8,916.6 477.9,916.7 479.0,916.8 480.0,916.9 481.1,917.1 482.2,917.2 483.3,917.3 484.4,917.4 485.5,917.5 486.5,917.6 487.6,917.7 488.7,917.8 489.8,917.9 490.9,918.0 492.0,918.0 493.0,918.1 494.1,918.2 495.2,918.3 496.3,918.4 497.4,918.5 498.5,918.5 499.6,918.6 500.6,918.7 501.7,918.8 502.8,918.8 503.9,918.9 505.0,919.0 506.1,919.1 507.1,919.1 508.2,919.2 509.3,919.3 510.4,919.4 511.5,919.4 512.6,919.5 513.7,919.6 514.7,919.6 515.8,919.7 516.9,919.8 518.0,919.8 519.1,919.9 520.2,920.0 521.2,920.0 522.3,920.1 523.4,920.1 524.5,920.2 525.6,920.2 526.7,920.3 527.7,920.3 528.8,920.4 529.9,920.4 531.0,920.5 532.1,920.5 533.2,920.6 534.3,920.6 535.3,920.7 536.4,920.7 537.5,920.7 538.6,920.8 539.7,920.8 540.8,920.9 541.8,920.9 542.9,921.0 544.0,921.0 545.1,921.0 546.2,921.1 547.3,921.1 548.4,921.2 549.4,921.2 550.5,921.2 551.6,921.3 552.7,921.3 553.8,921.4 554.9,921.4 555.9,921.4 557.0,921.5 558.1,921.5 559.2,921.5 560.3,921.6 561.4,921.6 562.4,921.7 563.5,921.7 564.6,921.7 565.7,921.8 566.8,921.8 567.9,921.9 569.0,921.9 570.0,922.0 571.1,922.0 572.2,922.1 573.3,922.1 574.4,922.2 575.5,922.2 576.5,922.3 577.6,922.3 578.7,922.4 579.8,922.4 580.9,922.4 582.0,922.5 583.1,922.5 584.1,922.6 585.2,922.6 586.3,922.7 587.4,922.7 588.5,922.7 589.6,922.8 590.6,922.8 591.7,922.9 592.8,922.9 593.9,923.0 595.0,923.0 596.1,923.0 597.1,923.1 598.2,923.1 599.3,923.2 600.4,923.2 601.5,923.3 602.6,923.3 603.7,923.4 604.7,923.4 605.8,923.5 606.9,923.5 608.0,923.6 609.1,923.6 610.2,923.7 611.2,923.7 612.3,923.8 613.4,923.9 614.5,923.9 615.6,924.0 616.7,924.0 617.8,924.1 618.8,924.1 619.9,924.2 621.0,924.2 622.1,924.3 623.2,924.4 624.3,924.4 625.3,924.5 626.4,924.5 627.5,924.6 628.6,924.6 629.7,924.7 630.8,924.7 631.8,924.8 632.9,924.8 634.0,924.9 635.1,924.9 636.2,925.0 637.3,925.0 638.4,925.1 639.4,925.1 640.5,925.2 641.6,925.2 642.7,925.3 643.8,925.3 644.9,925.4 645.9,925.4 647.0,925.5 648.1,925.5 649.2,925.6 650.3,925.6 651.4,925.7 652.5,925.7 653.5,925.7 654.6,925.8 655.7,925.8 656.8,925.9 657.9,925.9 659.0,926.0 660.0,926.0 661.1,926.1 662.2,926.1 663.3,926.2 664.4,926.2 665.5,926.2 666.5,926.3 667.6,926.3 668.7,926.4 669.8,926.4" stroke="#00e8e8" stroke-width="1.45" stroke-dasharray="17.5 5.1"/>
<polyline points="73.4,580.5 74.5,596.6 75.6,609.6 76.7,619.1 77.7,627.6 78.8,637.8 79.9,653.8 81.0,669.7 82.1,682.0 83.2,694.0 84.2,705.3 85.3,715.9 86.4,725.1 87.5,733.5 88.6,741.3 89.7,748.5 90.7,755.4 91.8,762.0 92.9,768.5 94.0,775.2 95.1,782.2 96.2,788.8 97.3,794.8 98.3,800.4 99.4,805.8 100.5,811.0 101.6,816.1 102.7,821.1 103.8,826.3 104.8,831.5 105.9,836.4 107.0,841.1 108.1,845.2 109.2,848.7 110.3,851.8 111.4,854.6 112.4,857.3 113.5,859.7 114.6,862.1 115.7,864.5 116.8,866.9 117.9,869.3 118.9,871.7 120.0,874.1 121.1,876.3 122.2,878.5 123.3,880.6 124.4,882.6 125.4,884.4 126.5,886.0 127.6,887.6 128.7,889.1 129.8,890.6 130.9,892.0 132.0,893.3 133.0,894.6 134.1,895.9 135.2,897.1 136.3,898.3 137.4,899.5 138.5,900.6 139.5,901.6 140.6,902.7 141.7,903.7 142.8,904.8 143.9,905.8 145.0,906.8 146.1,907.8 147.1,908.8 148.2,909.7 149.3,910.4 150.4,911.0 151.5,911.5 152.6,911.8 153.6,912.2 154.7,912.5 155.8,912.9 156.9,913.2 158.0,913.5 159.1,913.8 160.1,914.0 161.2,914.3 162.3,914.5 163.4,914.7 164.5,914.8 165.6,915.0 166.7,915.1 167.7,915.2 168.8,915.2 169.9,915.3 171.0,915.3 172.1,915.2 173.2,915.2 174.2,915.1 175.3,915.0 176.4,914.8 177.5,914.7 178.6,914.5 179.7,914.3 180.8,914.1 181.8,913.9 182.9,913.7 184.0,913.4 185.1,913.2 186.2,913.0 187.3,912.8 188.3,912.6 189.4,912.3 190.5,912.1 191.6,911.9 192.7,911.7 193.8,911.4 194.8,911.1 195.9,910.9 197.0,910.6 198.1,910.3 199.2,910.0 200.3,909.7 201.4,909.4 202.4,909.1 203.5,908.8 204.6,908.5 205.7,908.2 206.8,907.9 207.9,907.6 208.9,907.3 210.0,907.0 211.1,906.7 212.2,906.4 213.3,906.1 214.4,905.8 215.5,905.6 216.5,905.3 217.6,905.0 218.7,904.7 219.8,904.3 220.9,904.0 222.0,903.7 223.0,903.3 224.1,903.0 225.2,902.7 226.3,902.4 227.4,902.1 228.5,901.8 229.5,901.6 230.6,901.4 231.7,901.2 232.8,901.0 233.9,900.9 235.0,900.9 236.1,900.8 237.1,900.9 238.2,900.9 239.3,901.0 240.4,901.1 241.5,901.2 242.6,901.3 243.6,901.4 244.7,901.6 245.8,901.7 246.9,901.8 248.0,901.9 249.1,902.1 250.2,902.2 251.2,902.3 252.3,902.5 253.4,902.7 254.5,902.8 255.6,903.0 256.7,903.2 257.7,903.3 258.8,903.5 259.9,903.8 261.0,904.0 262.1,904.2 263.2,904.5 264.2,904.7 265.3,905.0 266.4,905.2 267.5,905.4 268.6,905.7 269.7,905.9 270.8,906.1 271.8,906.3 272.9,906.5 274.0,906.7 275.1,906.9 276.2,907.1 277.3,907.3 278.3,907.5 279.4,907.7 280.5,907.9 281.6,908.1 282.7,908.3 283.8,908.5 284.9,908.7 285.9,908.9 287.0,909.1 288.1,909.3 289.2,909.4 290.3,909.6 291.4,909.7 292.4,909.9 293.5,910.0 294.6,910.1 295.7,910.2 296.8,910.3 297.9,910.4 298.9,910.5 300.0,910.6 301.1,910.7 302.2,910.8 303.3,910.9 304.4,910.9 305.5,911.0 306.5,911.1 307.6,911.1 308.7,911.2 309.8,911.2 310.9,911.3 312.0,911.3 313.0,911.3 314.1,911.3 315.2,911.2 316.3,911.2 317.4,911.1 318.5,911.1 319.6,911.0 320.6,911.0 321.7,910.9 322.8,910.9 323.9,910.8 325.0,910.8 326.1,910.7 327.1,910.6 328.2,910.5 329.3,910.4 330.4,910.3 331.5,910.3 332.6,910.2 333.6,910.1 334.7,909.9 335.8,909.8 336.9,909.7 338.0,909.5 339.1,909.4 340.2,909.2 341.2,909.1 342.3,908.9 343.4,908.8 344.5,908.6 345.6,908.4 346.7,908.3 347.7,908.1 348.8,907.9 349.9,907.7 351.0,907.5 352.1,907.3 353.2,907.1 354.3,907.0 355.3,906.8 356.4,906.6 357.5,906.4 358.6,906.2 359.7,906.0 360.8,905.8 361.8,905.6 362.9,905.4 364.0,905.3 365.1,905.1 366.2,904.9 367.3,904.7 368.3,904.5 369.4,904.4 370.5,904.2 371.6,904.0 372.7,903.8 373.8,903.7 374.9,903.5 375.9,903.4 377.0,903.3 378.1,903.3 379.2,903.2 380.3,903.2 381.4,903.1 382.4,903.1 383.5,903.1 384.6,903.0 385.7,903.0 386.8,903.0 387.9,903.0 388.9,903.0 390.0,903.1 391.1,903.1 392.2,903.2 393.3,903.3 394.4,903.4 395.5,903.5 396.5,903.7 397.6,903.8 398.7,903.9 399.8,904.0 400.9,904.2 402.0,904.3 403.0,904.5 404.1,904.6 405.2,904.8 406.3,905.0 407.4,905.1 408.5,905.3 409.6,905.5 410.6,905.7 411.7,905.9 412.8,906.1 413.9,906.4 415.0,906.6 416.1,906.9 417.1,907.1 418.2,907.4 419.3,907.6 420.4,907.8 421.5,908.1 422.6,908.3 423.6,908.5 424.7,908.8 425.8,909.0 426.9,909.2 428.0,909.5 429.1,909.7 430.2,909.9 431.2,910.2 432.3,910.4 433.4,910.6 434.5,910.9 435.6,911.1 436.7,911.3 437.7,911.6 438.8,911.8 439.9,912.0 441.0,912.2 442.1,912.4 443.2,912.6 444.3,912.8 445.3,913.0 446.4,913.2 447.5,913.4 448.6,913.6 449.7,913.8 450.8,914.0 451.8,914.2 452.9,914.4 454.0,914.5 455.1,914.7 456.2,914.9 457.3,915.1 458.3,915.3 459.4,915.5 460.5,915.7 461.6,915.9 462.7,916.1 463.8,916.3 464.9,916.4 465.9,916.6 467.0,916.8 468.1,917.0 469.2,917.2 470.3,917.3 471.4,917.5 472.4,917.7 473.5,917.8 474.6,917.9 475.7,918.1 476.8,918.2 477.9,918.3 479.0,918.5 480.0,918.6 481.1,918.7 482.2,918.8 483.3,918.9 484.4,919.0 485.5,919.1 486.5,919.2 487.6,919.3 488.7,919.4 489.8,919.5 490.9,919.6 492.0,919.6 493.0,919.7 494.1,919.8 495.2,919.9 496.3,920.0 497.4,920.1 498.5,920.1 499.6,920.2 500.6,920.3 501.7,920.4 502.8,920.4 503.9,920.5 505.0,920.6 506.1,920.7 507.1,920.7 508.2,920.8 509.3,920.9 510.4,920.9 511.5,921.0 512.6,921.1 513.7,921.1 514.7,921.2 515.8,921.3 516.9,921.3 518.0,921.4 519.1,921.5 520.2,921.5 521.2,921.6 522.3,921.6 523.4,921.7 524.5,921.8 525.6,921.8 526.7,921.9 527.7,921.9 528.8,922.0 529.9,922.0 531.0,922.1 532.1,922.1 533.2,922.2 534.3,922.2 535.3,922.3 536.4,922.3 537.5,922.4 538.6,922.4 539.7,922.5 540.8,922.5 541.8,922.6 542.9,922.6 544.0,922.7 545.1,922.7 546.2,922.8 547.3,922.8 548.4,922.9 549.4,922.9 550.5,923.0 551.6,923.0 552.7,923.0 553.8,923.1 554.9,923.1 555.9,923.2 557.0,923.2 558.1,923.2 559.2,923.3 560.3,923.3 561.4,923.4 562.4,923.4 563.5,923.4 564.6,923.5 565.7,923.5 566.8,923.6 567.9,923.6 569.0,923.7 570.0,923.7 571.1,923.7 572.2,923.8 573.3,923.8 574.4,923.9 575.5,923.9 576.5,923.9 577.6,924.0 578.7,924.0 579.8,924.0 580.9,924.1 582.0,924.1 583.1,924.1 584.1,924.2 585.2,924.2 586.3,924.3 587.4,924.3 588.5,924.3 589.6,924.4 590.6,924.4 591.7,924.4 592.8,924.5 593.9,924.5 595.0,924.6 596.1,924.6 597.1,924.6 598.2,924.7 599.3,924.7 600.4,924.8 601.5,924.8 602.6,924.9 603.7,924.9 604.7,924.9 605.8,925.0 606.9,925.0 608.0,925.1 609.1,925.2 610.2,925.2 611.2,925.3 612.3,925.3 613.4,925.4 614.5,925.4 615.6,925.5 616.7,925.5 617.8,925.6 618.8,925.7 619.9,925.7 621.0,925.8 622.1,925.8 623.2,925.9 624.3,925.9 625.3,926.0 626.4,926.0 627.5,926.1 628.6,926.1 629.7,926.2 630.8,926.2 631.8,926.3 632.9,926.3 634.0,926.4 635.1,926.4 636.2,926.5 637.3,926.5 638.4,926.6 639.4,926.6 640.5,926.7 641.6,926.7 642.7,926.8 643.8,926.8 644.9,926.8 645.9,926.9 647.0,926.9 648.1,927.0 649.2,927.0 650.3,927.1 651.4,927.1 652.5,927.2 653.5,927.2 654.6,927.3 655.7,927.3 656.8,927.3 657.9,927.4 659.0,927.4 660.0,927.5 661.1,927.5 662.2,927.6 663.3,927.6 664.4,927.6 665.5,927.7 666.5,927.7 667.6,927.8 668.7,927.8 669.8,927.8" stroke="#b4b4b4" stroke-width="1.3"/>
<polyline points="73.4,620.7 74.5,635.0 75.6,649.0 76.7,662.7 77.7,676.1 78.8,689.3 79.9,702.1 81.0,714.9 82.1,727.2 83.2,737.9 84.2,746.9 85.3,755.0 86.4,763.2 87.5,770.9 88.6,778.5 89.7,787.1 90.7,799.4 91.8,810.6 92.9,817.1 94.0,822.4 95.1,826.9 96.2,830.7 97.3,834.3 98.3,837.9 99.4,841.5 100.5,844.8 101.6,848.0 102.7,851.1 103.8,854.0 104.8,856.8 105.9,859.5 107.0,862.1 108.1,864.7 109.2,867.2 110.3,869.6 111.4,871.8 112.4,874.0 113.5,876.2 114.6,878.3 115.7,880.3 116.8,882.3 117.9,884.3 118.9,886.3 120.0,888.2 121.1,890.2 122.2,892.2 123.3,894.1 124.4,896.0 125.4,897.8 126.5,899.5 127.6,901.2 128.7,902.8 129.8,904.2 130.9,905.6 132.0,907.1 133.0,908.5 134.1,909.9 135.2,911.2 136.3,912.5 137.4,913.7 138.5,914.7 139.5,915.6 140.6,916.4 141.7,917.0 142.8,917.5 143.9,918.0 145.0,918.4 146.1,918.8 147.1,919.1 148.2,919.4 149.3,919.7 150.4,919.8 151.5,920.0 152.6,920.1 153.6,920.2 154.7,920.2 155.8,920.3 156.9,920.4 158.0,920.5 159.1,920.5 160.1,920.6 161.2,920.7 162.3,920.7 163.4,920.8 164.5,920.8 165.6,920.8 166.7,920.9 167.7,920.9 168.8,920.9 169.9,920.9 171.0,920.9 172.1,920.8 173.2,920.8 174.2,920.6 175.3,920.5 176.4,920.3 177.5,920.1 178.6,919.9 179.7,919.6 180.8,919.4 181.8,919.1 182.9,918.8 184.0,918.5 185.1,918.3 186.2,918.0 187.3,917.7 188.3,917.4 189.4,917.1 190.5,916.8 191.6,916.6 192.7,916.2 193.8,915.9 194.8,915.6 195.9,915.2 197.0,914.9 198.1,914.5 199.2,914.1 200.3,913.7 201.4,913.3 202.4,912.9 203.5,912.5 204.6,912.1 205.7,911.7 206.8,911.3 207.9,910.9 208.9,910.6 210.0,910.2 211.1,909.8 212.2,909.5 213.3,909.1 214.4,908.8 215.5,908.5 216.5,908.1 217.6,907.8 218.7,907.4 219.8,907.0 220.9,906.6 222.0,906.2 223.0,905.9 224.1,905.5 225.2,905.1 226.3,904.8 227.4,904.5 228.5,904.2 229.5,903.9 230.6,903.6 231.7,903.4 232.8,903.3 233.9,903.1 235.0,903.1 236.1,903.0 237.1,903.0 238.2,903.1 239.3,903.2 240.4,903.3 241.5,903.4 242.6,903.5 243.6,903.6 244.7,903.7 245.8,903.9 246.9,904.0 248.0,904.1 249.1,904.2 250.2,904.4 251.2,904.5 252.3,904.6 253.4,904.8 254.5,904.9 255.6,905.1 256.7,905.2 257.7,905.4 258.8,905.6 259.9,905.8 261.0,906.0 262.1,906.2 263.2,906.4 264.2,906.7 265.3,906.9 266.4,907.1 267.5,907.3 268.6,907.5 269.7,907.7 270.8,907.9 271.8,908.1 272.9,908.3 274.0,908.5 275.1,908.7 276.2,908.9 277.3,909.1 278.3,909.3 279.4,909.5 280.5,909.7 281.6,909.9 282.7,910.1 283.8,910.3 284.9,910.4 285.9,910.6 287.0,910.8 288.1,911.0 289.2,911.2 290.3,911.3 291.4,911.4 292.4,911.6 293.5,911.7 294.6,911.8 295.7,911.9 296.8,912.1 297.9,912.2 298.9,912.3 300.0,912.3 301.1,912.4 302.2,912.5 303.3,912.6 304.4,912.7 305.5,912.7 306.5,912.8 307.6,912.9 308.7,912.9 309.8,913.0 310.9,913.0 312.0,913.0 313.0,913.0 314.1,913.0 315.2,913.0 316.3,912.9 317.4,912.9 318.5,912.9 319.6,912.8 320.6,912.8 321.7,912.7 322.8,912.7 323.9,912.6 325.0,912.6 326.1,912.5 327.1,912.5 328.2,912.4 329.3,912.3 330.4,912.3 331.5,912.2 332.6,912.1 333.6,912.0 334.7,911.9 335.8,911.8 336.9,911.7 338.0,911.6 339.1,911.4 340.2,911.3 341.2,911.2 342.3,911.0 343.4,910.9 344.5,910.7 345.6,910.6 346.7,910.4 347.7,910.2 348.8,910.0 349.9,909.9 351.0,909.7 352.1,909.5 353.2,909.3 354.3,909.1 355.3,908.9 356.4,908.7 357.5,908.6 358.6,908.4 359.7,908.2 360.8,908.0 361.8,907.8 362.9,907.6 364.0,907.5 365.1,907.3 366.2,907.1 367.3,906.9 368.3,906.8 369.4,906.6 370.5,906.4 371.6,906.2 372.7,906.0 373.8,905.9 374.9,905.7 375.9,905.6 377.0,905.6 378.1,905.5 379.2,905.4 380.3,905.4 381.4,905.3 382.4,905.3 383.5,905.3 384.6,905.2 385.7,905.2 386.8,905.2 387.9,905.2 388.9,905.2 390.0,905.3 391.1,905.3 392.2,905.4 393.3,905.6 394.4,905.7 395.5,905.9 396.5,906.0 397.6,906.2 398.7,906.3 399.8,906.5 400.9,906.7 402.0,906.9 403.0,907.1 404.1,907.3 405.2,907.5 406.3,907.7 407.4,907.9 408.5,908.1 409.6,908.3 410.6,908.6 411.7,908.8 412.8,909.1 413.9,909.3 415.0,909.6 416.1,909.9 417.1,910.1 418.2,910.4 419.3,910.6 420.4,910.9 421.5,911.1 422.6,911.4 423.6,911.6 424.7,911.8 425.8,912.1 426.9,912.3 428.0,912.5 429.1,912.7 430.2,913.0 431.2,913.2 432.3,913.4 433.4,913.7 434.5,913.9 435.6,914.1 436.7,914.3 437.7,914.6 438.8,914.8 439.9,915.0 441.0,915.2 442.1,915.5 443.2,915.7 444.3,915.9 445.3,916.1 446.4,916.4 447.5,916.6 448.6,916.8 449.7,917.0 450.8,917.3 451.8,917.5 452.9,917.7 454.0,917.9 455.1,918.2 456.2,918.4 457.3,918.6 458.3,918.9 459.4,919.1 460.5,919.3 461.6,919.5 462.7,919.8 463.8,920.0 464.9,920.2 465.9,920.4 467.0,920.6 468.1,920.8 469.2,921.1 470.3,921.3 471.4,921.5 472.4,921.6 473.5,921.8 474.6,921.9 475.7,922.1 476.8,922.2 477.9,922.3 479.0,922.4 480.0,922.5 481.1,922.6 482.2,922.7 483.3,922.8 484.4,922.8 485.5,922.9 486.5,923.0 487.6,923.1 488.7,923.2 489.8,923.2 490.9,923.3 492.0,923.4 493.0,923.4 494.1,923.5 495.2,923.6 496.3,923.6 497.4,923.7 498.5,923.8 499.6,923.8 500.6,923.9 501.7,923.9 502.8,924.0 503.9,924.1 505.0,924.1 506.1,924.2 507.1,924.2 508.2,924.3 509.3,924.3 510.4,924.4 511.5,924.4 512.6,924.5 513.7,924.5 514.7,924.6 515.8,924.7 516.9,924.7 518.0,924.8 519.1,924.8 520.2,924.9 521.2,924.9 522.3,925.0 523.4,925.0 524.5,925.1 525.6,925.1 526.7,925.2 527.7,925.2 528.8,925.3 529.9,925.3 531.0,925.4 532.1,925.4 533.2,925.5 534.3,925.6 535.3,925.6 536.4,925.7 537.5,925.7 538.6,925.8 539.7,925.8 540.8,925.9 541.8,925.9 542.9,925.9 544.0,926.0 545.1,926.0 546.2,926.1 547.3,926.1 548.4,926.2 549.4,926.2 550.5,926.3 551.6,926.3 552.7,926.3 553.8,926.4 554.9,926.4 555.9,926.5 557.0,926.5 558.1,926.5 559.2,926.6 560.3,926.6 561.4,926.6 562.4,926.6 563.5,926.7 564.6,926.7 565.7,926.7 566.8,926.7 567.9,926.7 569.0,926.7 570.0,926.7 571.1,926.8 572.2,926.8 573.3,926.8 574.4,926.8 575.5,926.8 576.5,926.8 577.6,926.8 578.7,926.8 579.8,926.8 580.9,926.8 582.0,926.8 583.1,926.9 584.1,926.9 585.2,926.9 586.3,926.9 587.4,926.9 588.5,926.9 589.6,926.9 590.6,926.9 591.7,926.9 592.8,927.0 593.9,927.0 595.0,927.0 596.1,927.0 597.1,927.0 598.2,927.0 599.3,927.1 600.4,927.1 601.5,927.1 602.6,927.1 603.7,927.2 604.7,927.2 605.8,927.2 606.9,927.2 608.0,927.3 609.1,927.3 610.2,927.4 611.2,927.4 612.3,927.4 613.4,927.5 614.5,927.5 615.6,927.5 616.7,927.6 617.8,927.6 618.8,927.6 619.9,927.7 621.0,927.7 622.1,927.8 623.2,927.8 624.3,927.8 625.3,927.9 626.4,927.9 627.5,927.9 628.6,927.9 629.7,928.0 630.8,928.0 631.8,928.0 632.9,928.0 634.0,928.1 635.1,928.1 636.2,928.1 637.3,928.1 638.4,928.2 639.4,928.2 640.5,928.2 641.6,928.2 642.7,928.3 643.8,928.3 644.9,928.3 645.9,928.3 647.0,928.4 648.1,928.4 649.2,928.4 650.3,928.4 651.4,928.4 652.5,928.5 653.5,928.5 654.6,928.5 655.7,928.5 656.8,928.6 657.9,928.6 659.0,928.6 660.0,928.6 661.1,928.6 662.2,928.6 663.3,928.7 664.4,928.7 665.5,928.7 666.5,928.7 667.6,928.7 668.7,928.7 669.8,928.8" stroke="#802020" stroke-width="1.5" stroke-dasharray="1.5 3.37"/>
<polyline points="73.4,637.4 74.5,648.4 75.6,660.0 76.7,672.1 77.7,685.1 78.8,698.3 79.9,711.1 81.0,723.6 82.1,734.9 83.2,744.4 84.2,752.8 85.3,760.8 86.4,768.1 87.5,774.7 88.6,781.4 89.7,789.2 90.7,799.9 91.8,812.1 92.9,820.6 94.0,826.7 95.1,831.8 96.2,836.3 97.3,840.3 98.3,844.0 99.4,847.7 100.5,851.3 101.6,854.6 102.7,857.7 103.8,860.6 104.8,863.5 105.9,866.2 107.0,868.9 108.1,871.5 109.2,874.0 110.3,876.4 111.4,878.7 112.4,881.0 113.5,883.2 114.6,885.3 115.7,887.3 116.8,889.3 117.9,891.3 118.9,893.2 120.0,895.0 121.1,896.8 122.2,898.5 123.3,900.2 124.4,901.9 125.4,903.5 126.5,905.0 127.6,906.6 128.7,908.1 129.8,909.7 130.9,911.1 132.0,912.5 133.0,913.9 134.1,915.1 135.2,916.2 136.3,917.2 137.4,918.2 138.5,919.1 139.5,920.0 140.6,920.9 141.7,921.7 142.8,922.4 143.9,923.1 145.0,923.7 146.1,924.2 147.1,924.6 148.2,924.9 149.3,925.2 150.4,925.5 151.5,925.8 152.6,926.0 153.6,926.2 154.7,926.4 155.8,926.6 156.9,926.8 158.0,926.9 159.1,927.0 160.1,927.0 161.2,927.0 162.3,927.0 163.4,927.0 164.5,926.9 165.6,926.9 166.7,926.8 167.7,926.7 168.8,926.6 169.9,926.5 171.0,926.3 172.1,926.2 173.2,926.1 174.2,925.9 175.3,925.8 176.4,925.6 177.5,925.5 178.6,925.3 179.7,925.1 180.8,924.8 181.8,924.5 182.9,924.3 184.0,924.0 185.1,923.6 186.2,923.3 187.3,923.0 188.3,922.7 189.4,922.4 190.5,922.1 191.6,921.7 192.7,921.4 193.8,921.1 194.8,920.8 195.9,920.4 197.0,920.1 198.1,919.7 199.2,919.3 200.3,919.0 201.4,918.6 202.4,918.2 203.5,917.9 204.6,917.5 205.7,917.1 206.8,916.8 207.9,916.4 208.9,916.0 210.0,915.7 211.1,915.4 212.2,915.0 213.3,914.7 214.4,914.4 215.5,914.1 216.5,913.8 217.6,913.4 218.7,913.1 219.8,912.8 220.9,912.4 222.0,912.1 223.0,911.7 224.1,911.4 225.2,911.0 226.3,910.7 227.4,910.4 228.5,910.2 229.5,909.9 230.6,909.7 231.7,909.5 232.8,909.4 233.9,909.3 235.0,909.2 236.1,909.2 237.1,909.3 238.2,909.3 239.3,909.3 240.4,909.3 241.5,909.4 242.6,909.4 243.6,909.5 244.7,909.6 245.8,909.6 246.9,909.7 248.0,909.8 249.1,909.8 250.2,909.9 251.2,910.0 252.3,910.1 253.4,910.1 254.5,910.2 255.6,910.3 256.7,910.4 257.7,910.5 258.8,910.6 259.9,910.7 261.0,910.9 262.1,911.0 263.2,911.1 264.2,911.2 265.3,911.4 266.4,911.5 267.5,911.6 268.6,911.8 269.7,911.9 270.8,912.0 271.8,912.2 272.9,912.3 274.0,912.4 275.1,912.6 276.2,912.7 277.3,912.8 278.3,913.0 279.4,913.2 280.5,913.3 281.6,913.5 282.7,913.6 283.8,913.8 284.9,914.0 285.9,914.1 287.0,914.3 288.1,914.5 289.2,914.6 290.3,914.7 291.4,914.9 292.4,915.0 293.5,915.1 294.6,915.2 295.7,915.3 296.8,915.3 297.9,915.4 298.9,915.5 300.0,915.6 301.1,915.6 302.2,915.7 303.3,915.7 304.4,915.8 305.5,915.9 306.5,915.9 307.6,915.9 308.7,916.0 309.8,916.0 310.9,916.0 312.0,916.0 313.0,916.0 314.1,916.0 315.2,916.0 316.3,915.9 317.4,915.9 318.5,915.8 319.6,915.8 320.6,915.7 321.7,915.7 322.8,915.6 323.9,915.5 325.0,915.5 326.1,915.4 327.1,915.3 328.2,915.3 329.3,915.2 330.4,915.1 331.5,915.1 332.6,915.0 333.6,914.9 334.7,914.8 335.8,914.8 336.9,914.7 338.0,914.6 339.1,914.4 340.2,914.3 341.2,914.2 342.3,914.0 343.4,913.8 344.5,913.7 345.6,913.5 346.7,913.3 347.7,913.1 348.8,912.9 349.9,912.7 351.0,912.5 352.1,912.3 353.2,912.1 354.3,911.9 355.3,911.7 356.4,911.5 357.5,911.3 358.6,911.1 359.7,910.9 360.8,910.7 361.8,910.5 362.9,910.3 364.0,910.1 365.1,909.9 366.2,909.7 367.3,909.5 368.3,909.3 369.4,909.2 370.5,909.0 371.6,908.8 372.7,908.7 373.8,908.5 374.9,908.3 375.9,908.1 377.0,908.0 378.1,907.8 379.2,907.7 380.3,907.5 381.4,907.4 382.4,907.3 383.5,907.3 384.6,907.3 385.7,907.3 386.8,907.3 387.9,907.4 388.9,907.4 390.0,907.5 391.1,907.6 392.2,907.7 393.3,907.9 394.4,908.0 395.5,908.1 396.5,908.2 397.6,908.4 398.7,908.5 399.8,908.7 400.9,908.8 402.0,909.0 403.0,909.2 404.1,909.4 405.2,909.6 406.3,909.8 407.4,910.1 408.5,910.3 409.6,910.6 410.6,910.8 411.7,911.1 412.8,911.3 413.9,911.6 415.0,911.8 416.1,912.0 417.1,912.3 418.2,912.5 419.3,912.7 420.4,912.9 421.5,913.1 422.6,913.3 423.6,913.5 424.7,913.7 425.8,913.9 426.9,914.1 428.0,914.3 429.1,914.4 430.2,914.6 431.2,914.8 432.3,915.0 433.4,915.2 434.5,915.4 435.6,915.6 436.7,915.8 437.7,915.9 438.8,916.1 439.9,916.3 441.0,916.5 442.1,916.7 443.2,916.8 444.3,917.0 445.3,917.2 446.4,917.4 447.5,917.6 448.6,917.8 449.7,917.9 450.8,918.1 451.8,918.3 452.9,918.5 454.0,918.7 455.1,918.9 456.2,919.1 457.3,919.3 458.3,919.5 459.4,919.6 460.5,919.8 461.6,920.0 462.7,920.2 463.8,920.4 464.9,920.6 465.9,920.7 467.0,920.9 468.1,921.1 469.2,921.2 470.3,921.4 471.4,921.5 472.4,921.7 473.5,921.8 474.6,921.9 475.7,922.1 476.8,922.2 477.9,922.3 479.0,922.4 480.0,922.5 481.1,922.6 482.2,922.7 483.3,922.8 484.4,922.8 485.5,922.9 486.5,923.0 487.6,923.1 488.7,923.2 489.8,923.2 490.9,923.3 492.0,923.4 493.0,923.4 494.1,923.5 495.2,923.6 496.3,923.6 497.4,923.7 498.5,923.8 499.6,923.8 500.6,923.9 501.7,923.9 502.8,924.0 503.9,924.1 505.0,924.1 506.1,924.2 507.1,924.2 508.2,924.3 509.3,924.3 510.4,924.4 511.5,924.4 512.6,924.5 513.7,924.5 514.7,924.6 515.8,924.7 516.9,924.7 518.0,924.8 519.1,924.8 520.2,924.9 521.2,924.9 522.3,925.0 523.4,925.0 524.5,925.1 525.6,925.1 526.7,925.2 527.7,925.2 528.8,925.3 529.9,925.3 531.0,925.4 532.1,925.4 533.2,925.5 534.3,925.6 535.3,925.6 536.4,925.7 537.5,925.7 538.6,925.8 539.7,925.8 540.8,925.9 541.8,925.9 542.9,925.9 544.0,926.0 545.1,926.0 546.2,926.1 547.3,926.1 548.4,926.2 549.4,926.2 550.5,926.3 551.6,926.3 552.7,926.3 553.8,926.4 554.9,926.4 555.9,926.5 557.0,926.5 558.1,926.5 559.2,926.6 560.3,926.6 561.4,926.6 562.4,926.7 563.5,926.7 564.6,926.7 565.7,926.7 566.8,926.8 567.9,926.8 569.0,926.8 570.0,926.8 571.1,926.9 572.2,926.9 573.3,926.9 574.4,926.9 575.5,926.9 576.5,927.0 577.6,927.0 578.7,927.0 579.8,927.0 580.9,927.0 582.0,927.1 583.1,927.1 584.1,927.1 585.2,927.1 586.3,927.1 587.4,927.2 588.5,927.2 589.6,927.2 590.6,927.2 591.7,927.3 592.8,927.3 593.9,927.3 595.0,927.3 596.1,927.4 597.1,927.4 598.2,927.4 599.3,927.5 600.4,927.5 601.5,927.5 602.6,927.6 603.7,927.6 604.7,927.6 605.8,927.7 606.9,927.7 608.0,927.8 609.1,927.8 610.2,927.9 611.2,927.9 612.3,928.0 613.4,928.0 614.5,928.1 615.6,928.1 616.7,928.2 617.8,928.2 618.8,928.3 619.9,928.3 621.0,928.4 622.1,928.4 623.2,928.5 624.3,928.5 625.3,928.6 626.4,928.6 627.5,928.6 628.6,928.7 629.7,928.7 630.8,928.8 631.8,928.8 632.9,928.8 634.0,928.9 635.1,928.9 636.2,929.0 637.3,929.0 638.4,929.0 639.4,929.1 640.5,929.1 641.6,929.2 642.7,929.2 643.8,929.2 644.9,929.3 645.9,929.3 647.0,929.3 648.1,929.4 649.2,929.4 650.3,929.5 651.4,929.5 652.5,929.5 653.5,929.6 654.6,929.6 655.7,929.6 656.8,929.7 657.9,929.7 659.0,929.7 660.0,929.8 661.1,929.8 662.2,929.8 663.3,929.9 664.4,929.9 665.5,929.9 666.5,930.0 667.6,930.0 668.7,930.0 669.8,930.1" stroke="#008000" stroke-width="1.45" stroke-dasharray="12 3.4"/>
</g>
<g stroke="#000" stroke-width="1.4">
<line x1="66.90" y1="918.40" x2="73.40" y2="918.40"/>
<line x1="66.90" y1="814.31" x2="73.40" y2="814.31"/>
<line x1="66.90" y1="710.22" x2="73.40" y2="710.22"/>
<line x1="66.90" y1="606.13" x2="73.40" y2="606.13"/>
<line x1="66.90" y1="502.04" x2="73.40" y2="502.04"/>
<line x1="127.62" y1="929.20" x2="127.62" y2="935.70"/>
<line x1="236.05" y1="929.20" x2="236.05" y2="935.70"/>
<line x1="344.49" y1="929.20" x2="344.49" y2="935.70"/>
<line x1="452.93" y1="929.20" x2="452.93" y2="935.70"/>
<line x1="561.36" y1="929.20" x2="561.36" y2="935.70"/>
<line x1="669.80" y1="929.20" x2="669.80" y2="935.70"/>
</g>
<g fill="#000">
<text transform="translate(58.70,923.85) scale(0.99,1)" font-size="16.9" text-anchor="end">0.0</text>
<text transform="translate(58.70,819.76) scale(0.99,1)" font-size="16.9" text-anchor="end">0.1</text>
<text transform="translate(58.70,715.67) scale(0.99,1)" font-size="16.9" text-anchor="end">0.2</text>
<text transform="translate(58.70,611.58) scale(0.99,1)" font-size="16.9" text-anchor="end">0.3</text>
<text transform="translate(58.70,507.49) scale(0.99,1)" font-size="16.9" text-anchor="end">0.4</text>
<text transform="translate(127.62,958.20) scale(0.99,1)" font-size="16.9" text-anchor="middle">300</text>
<text transform="translate(236.05,958.20) scale(0.99,1)" font-size="16.9" text-anchor="middle">400</text>
<text transform="translate(344.49,958.20) scale(0.99,1)" font-size="16.9" text-anchor="middle">500</text>
<text transform="translate(452.93,958.20) scale(0.99,1)" font-size="16.9" text-anchor="middle">600</text>
<text transform="translate(561.36,958.20) scale(0.99,1)" font-size="16.9" text-anchor="middle">700</text>
<text transform="translate(669.80,958.20) scale(0.99,1)" font-size="16.9" text-anchor="middle">800</text>
</g>
<text transform="translate(17.70,715.90) rotate(-90) scale(0.9645,1)" font-size="20.5" text-anchor="middle">Absorbance</text>
<text transform="translate(371.50,994.30) scale(0.988,1)" font-size="20.3" text-anchor="middle">Wavelength (nm)</text>
<rect x="433.5" y="543.8" width="197.8" height="227.7" fill="#fff" stroke="#000" stroke-width="1.3"/>
<line x1="445.0" y1="564.90" x2="535.0" y2="564.90" stroke="#000000" stroke-width="1.4"/>
<text transform="translate(556.90,570.35)" font-size="16.5" text-anchor="start">pH 6.35</text>
<line x1="445.0" y1="585.52" x2="535.0" y2="585.52" stroke="#e61414" stroke-width="1.4" stroke-dasharray="1.4 3.47"/>
<text transform="translate(556.90,590.97)" font-size="16.5" text-anchor="start">pH 6.02</text>
<line x1="445.0" y1="606.14" x2="535.0" y2="606.14" stroke="#00ee00" stroke-width="1.45" stroke-dasharray="12 3.4"/>
<text transform="translate(556.90,611.59)" font-size="16.5" text-anchor="start">pH 5.46</text>
<line x1="445.0" y1="626.76" x2="535.0" y2="626.76" stroke="#ffff00" stroke-width="1.45" stroke-dasharray="15.6 3.3 1.6 3.3 1.6 3.4"/>
<text transform="translate(556.90,632.21)" font-size="16.5" text-anchor="start">pH 4.95</text>
<line x1="445.0" y1="647.38" x2="535.0" y2="647.38" stroke="#0c0cf0" stroke-width="1.45" stroke-dasharray="22.6 7 22.6 7 22.6 200"/>
<text transform="translate(556.90,652.83)" font-size="16.5" text-anchor="start">pH 4.22</text>
<line x1="445.0" y1="668.00" x2="535.0" y2="668.00" stroke="#f000f0" stroke-width="1.45" stroke-dasharray="15.6 3.4 1.7 3.1"/>
<text transform="translate(556.90,673.45)" font-size="16.5" text-anchor="start">pH 3.68</text>
<line x1="445.0" y1="688.62" x2="535.0" y2="688.62" stroke="#00e8e8" stroke-width="1.45" stroke-dasharray="17.5 5.1"/>
<text transform="translate(556.90,694.07)" font-size="16.5" text-anchor="start">pH 3.16</text>
<line x1="445.0" y1="709.24" x2="535.0" y2="709.24" stroke="#b4b4b4" stroke-width="1.3"/>
<text transform="translate(556.90,714.69)" font-size="16.5" text-anchor="start">pH 2.63</text>
<line x1="445.0" y1="729.86" x2="535.0" y2="729.86" stroke="#802020" stroke-width="1.5" stroke-dasharray="1.5 3.37"/>
<text transform="translate(556.90,735.31)" font-size="16.5" text-anchor="start">pH 2.04</text>
<line x1="445.0" y1="750.48" x2="535.0" y2="750.48" stroke="#008000" stroke-width="1.45" stroke-dasharray="12 3.4"/>
<text transform="translate(556.90,755.93)" font-size="16.5" text-anchor="start">pH 1.62</text>
</svg>
</body>
</html>
